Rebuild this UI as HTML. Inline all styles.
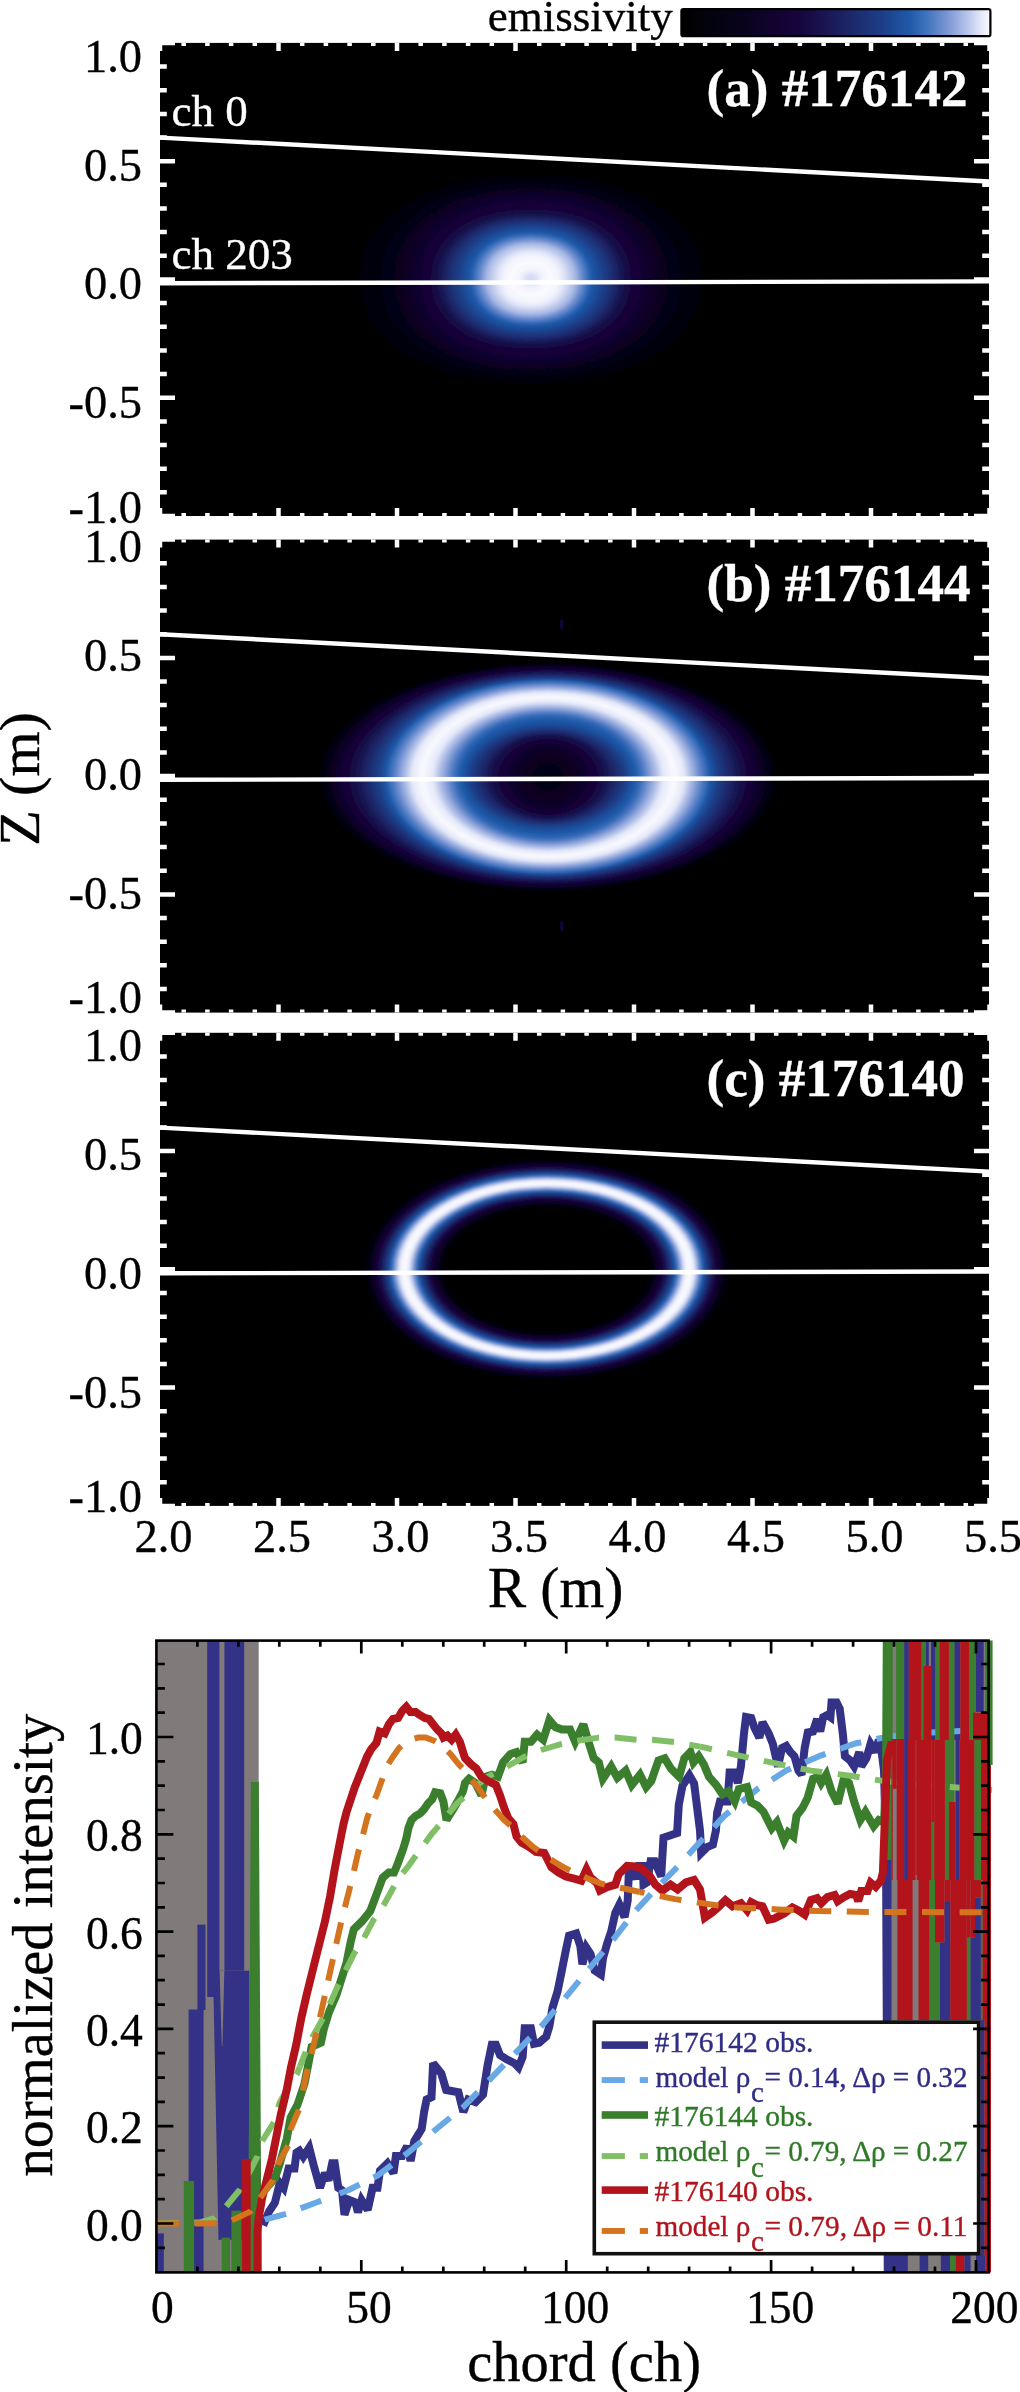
<!DOCTYPE html>
<html><head><meta charset="utf-8"><title>figure</title>
<style>
html,body{margin:0;padding:0;background:#fff;}
svg{display:block;will-change:transform;}
text{font-family:"Liberation Serif", serif;}
</style></head><body>
<svg width="1020" height="2392" viewBox="0 0 1020 2392">
<defs>
<filter id="bl" x="-10%" y="-10%" width="120%" height="120%"><feGaussianBlur stdDeviation="1.0"/></filter>

<linearGradient id="cbar" x1="0" x2="1" y1="0" y2="0"><stop offset="0.000" stop-color="#000000"/><stop offset="0.100" stop-color="#03030f"/><stop offset="0.200" stop-color="#08031c"/><stop offset="0.300" stop-color="#110330"/><stop offset="0.380" stop-color="#16053c"/><stop offset="0.450" stop-color="#19124e"/><stop offset="0.550" stop-color="#1c2869"/><stop offset="0.650" stop-color="#1d3e87"/><stop offset="0.740" stop-color="#1f5aaa"/><stop offset="0.800" stop-color="#4676c0"/><stop offset="0.860" stop-color="#7a96d4"/><stop offset="0.920" stop-color="#b2c0e8"/><stop offset="0.970" stop-color="#e4e8f8"/><stop offset="1.000" stop-color="#fafaff"/></linearGradient>
<clipPath id="cp0"><rect x="160.0" y="42.9" width="829.0" height="473.1"/></clipPath>
<clipPath id="cp1"><rect x="160.0" y="539.6" width="829.0" height="473.0"/></clipPath>
<clipPath id="cp2"><rect x="160.0" y="1032.8" width="829.0" height="473.10000000000014"/></clipPath>
</defs>
<rect width="1020" height="2392" fill="#fff"/>
<rect x="160.0" y="42.9" width="829.0" height="473.1" fill="#000"/>
<g clip-path="url(#cp0)"><g filter="url(#bl)">
<path d="M733.0 279.0 L730.7 301.3 L724.0 320.4 L712.9 337.7 L697.6 353.2 L678.4 366.8 L655.6 378.2 L629.5 387.3 L600.5 394.0 L568.4 398.0 L531.0 399.3 L493.6 398.0 L461.5 394.0 L432.5 387.3 L406.4 378.2 L383.6 366.8 L364.4 353.2 L349.1 337.7 L338.0 320.4 L331.3 301.3 L329.0 279.0 L331.3 256.7 L338.0 237.6 L349.1 220.3 L364.4 204.8 L383.6 191.2 L406.4 179.8 L432.5 170.7 L461.5 164.0 L493.6 160.0 L531.0 158.7 L568.4 160.0 L600.5 164.0 L629.5 170.7 L655.6 179.8 L678.4 191.2 L697.6 204.8 L712.9 220.3 L724.0 237.6 L730.7 256.7Z" fill="#000000"/>
<path d="M731.5 279.0 L729.3 301.1 L722.6 320.1 L711.5 337.3 L696.4 352.7 L677.3 366.2 L654.7 377.5 L628.8 386.6 L599.9 393.2 L568.1 397.1 L531.0 398.5 L493.9 397.1 L462.1 393.2 L433.2 386.6 L407.3 377.5 L384.7 366.2 L365.6 352.7 L350.5 337.3 L339.4 320.1 L332.7 301.1 L330.5 279.0 L332.7 256.9 L339.4 237.9 L350.5 220.7 L365.6 205.3 L384.7 191.8 L407.3 180.5 L433.2 171.4 L462.1 164.8 L493.9 160.9 L531.0 159.5 L568.1 160.9 L599.9 164.8 L628.8 171.4 L654.7 180.5 L677.3 191.8 L696.4 205.3 L711.5 220.7 L722.6 237.9 L729.3 256.9Z" fill="#000000"/>
<path d="M730.0 279.0 L727.8 301.0 L721.1 319.8 L710.2 336.9 L695.1 352.2 L676.2 365.6 L653.8 376.8 L628.1 385.8 L599.4 392.3 L567.8 396.3 L531.0 397.6 L494.2 396.3 L462.6 392.3 L433.9 385.8 L408.2 376.8 L385.8 365.6 L366.9 352.2 L351.8 336.9 L340.9 319.8 L334.2 301.0 L332.0 279.0 L334.2 257.0 L340.9 238.2 L351.8 221.1 L366.9 205.8 L385.8 192.4 L408.2 181.2 L433.9 172.2 L462.6 165.7 L494.2 161.7 L531.0 160.4 L567.8 161.7 L599.4 165.7 L628.1 172.2 L653.8 181.2 L676.2 192.4 L695.1 205.8 L710.2 221.1 L721.1 238.2 L727.8 257.0Z" fill="#000000"/>
<path d="M728.5 279.0 L726.3 300.8 L719.7 319.5 L708.8 336.5 L693.9 351.7 L675.1 365.0 L652.8 376.2 L627.3 385.1 L598.9 391.5 L567.6 395.5 L531.0 396.8 L494.4 395.5 L463.1 391.5 L434.7 385.1 L409.2 376.2 L386.9 365.0 L368.1 351.7 L353.2 336.5 L342.3 319.5 L335.7 300.8 L333.5 279.0 L335.7 257.2 L342.3 238.5 L353.2 221.5 L368.1 206.3 L386.9 193.0 L409.2 181.8 L434.7 172.9 L463.1 166.5 L494.4 162.5 L531.0 161.2 L567.6 162.5 L598.9 166.5 L627.3 172.9 L652.8 181.8 L675.1 193.0 L693.9 206.3 L708.8 221.5 L719.7 238.5 L726.3 257.2Z" fill="#000000"/>
<path d="M727.0 279.0 L724.8 300.7 L718.3 319.2 L707.5 336.1 L692.7 351.1 L674.0 364.4 L651.9 375.5 L626.6 384.3 L598.4 390.7 L567.3 394.7 L531.0 396.0 L494.7 394.7 L463.6 390.7 L435.4 384.3 L410.1 375.5 L388.0 364.4 L369.3 351.1 L354.5 336.1 L343.7 319.2 L337.2 300.7 L335.0 279.0 L337.2 257.3 L343.7 238.8 L354.5 221.9 L369.3 206.9 L388.0 193.6 L410.1 182.5 L435.4 173.7 L463.6 167.3 L494.7 163.3 L531.0 162.0 L567.3 163.3 L598.4 167.3 L626.6 173.7 L651.9 182.5 L674.0 193.6 L692.7 206.9 L707.5 221.9 L718.3 238.8 L724.8 257.3Z" fill="#000001"/>
<path d="M725.5 279.0 L723.3 300.5 L716.8 318.9 L706.1 335.6 L691.4 350.6 L672.9 363.7 L651.0 374.8 L625.9 383.6 L597.9 389.9 L567.0 393.8 L531.0 395.1 L495.0 393.8 L464.1 389.9 L436.1 383.6 L411.0 374.8 L389.1 363.7 L370.6 350.6 L355.9 335.6 L345.2 318.9 L338.7 300.5 L336.5 279.0 L338.7 257.5 L345.2 239.1 L355.9 222.4 L370.6 207.4 L389.1 194.3 L411.0 183.2 L436.1 174.4 L464.1 168.1 L495.0 164.2 L531.0 162.9 L567.0 164.2 L597.9 168.1 L625.9 174.4 L651.0 183.2 L672.9 194.3 L691.4 207.4 L706.1 222.4 L716.8 239.1 L723.3 257.5Z" fill="#000001"/>
<path d="M724.0 279.0 L721.8 300.3 L715.4 318.6 L704.8 335.2 L690.2 350.1 L671.8 363.1 L650.1 374.1 L625.1 382.8 L597.4 389.1 L566.7 393.0 L531.0 394.3 L495.3 393.0 L464.6 389.1 L436.9 382.8 L411.9 374.1 L390.2 363.1 L371.8 350.1 L357.2 335.2 L346.6 318.6 L340.2 300.3 L338.0 279.0 L340.2 257.7 L346.6 239.4 L357.2 222.8 L371.8 207.9 L390.2 194.9 L411.9 183.9 L436.9 175.2 L464.6 168.9 L495.3 165.0 L531.0 163.7 L566.7 165.0 L597.4 168.9 L625.1 175.2 L650.1 183.9 L671.8 194.9 L690.2 207.9 L704.8 222.8 L715.4 239.4 L721.8 257.7Z" fill="#000001"/>
<path d="M722.5 279.0 L720.4 300.2 L714.0 318.3 L703.4 334.8 L688.9 349.6 L670.7 362.5 L649.1 373.4 L624.4 382.0 L596.8 388.3 L566.5 392.2 L531.0 393.4 L495.5 392.2 L465.2 388.3 L437.6 382.0 L412.9 373.4 L391.3 362.5 L373.1 349.6 L358.6 334.8 L348.0 318.3 L341.6 300.2 L339.5 279.0 L341.6 257.8 L348.0 239.7 L358.6 223.2 L373.1 208.4 L391.3 195.5 L412.9 184.6 L437.6 176.0 L465.2 169.7 L495.5 165.8 L531.0 164.6 L566.5 165.8 L596.8 169.7 L624.4 176.0 L649.1 184.6 L670.7 195.5 L688.9 208.4 L703.4 223.2 L714.0 239.7 L720.4 257.8Z" fill="#000001"/>
<path d="M721.0 279.0 L718.9 300.0 L712.5 318.1 L702.1 334.4 L687.7 349.1 L669.7 361.9 L648.2 372.7 L623.7 381.3 L596.3 387.5 L566.2 391.3 L531.0 392.6 L495.8 391.3 L465.7 387.5 L438.3 381.3 L413.8 372.7 L392.3 361.9 L374.3 349.1 L359.9 334.4 L349.5 318.1 L343.1 300.0 L341.0 279.0 L343.1 258.0 L349.5 239.9 L359.9 223.6 L374.3 208.9 L392.3 196.1 L413.8 185.3 L438.3 176.7 L465.7 170.5 L495.8 166.7 L531.0 165.4 L566.2 166.7 L596.3 170.5 L623.7 176.7 L648.2 185.3 L669.7 196.1 L687.7 208.9 L702.1 223.6 L712.5 239.9 L718.9 258.0Z" fill="#000002"/>
<path d="M719.5 279.0 L717.4 299.9 L711.1 317.8 L700.7 334.0 L686.5 348.6 L668.6 361.3 L647.3 372.0 L622.9 380.5 L595.8 386.7 L565.9 390.5 L531.0 391.8 L496.1 390.5 L466.2 386.7 L439.1 380.5 L414.7 372.0 L393.4 361.3 L375.5 348.6 L361.3 334.0 L350.9 317.8 L344.6 299.9 L342.5 279.0 L344.6 258.1 L350.9 240.2 L361.3 224.0 L375.5 209.4 L393.4 196.7 L414.7 186.0 L439.1 177.5 L466.2 171.3 L496.1 167.5 L531.0 166.2 L565.9 167.5 L595.8 171.3 L622.9 177.5 L647.3 186.0 L668.6 196.7 L686.5 209.4 L700.7 224.0 L711.1 240.2 L717.4 258.1Z" fill="#000002"/>
<path d="M718.0 279.0 L715.9 299.7 L709.7 317.5 L699.4 333.6 L685.2 348.0 L667.5 360.7 L646.4 371.3 L622.2 379.8 L595.3 385.9 L565.6 389.7 L531.0 390.9 L496.4 389.7 L466.7 385.9 L439.8 379.8 L415.6 371.3 L394.5 360.7 L376.8 348.0 L362.6 333.6 L352.3 317.5 L346.1 299.7 L344.0 279.0 L346.1 258.3 L352.3 240.5 L362.6 224.4 L376.8 210.0 L394.5 197.3 L415.6 186.7 L439.8 178.2 L466.7 172.1 L496.4 168.3 L531.0 167.1 L565.6 168.3 L595.3 172.1 L622.2 178.2 L646.4 186.7 L667.5 197.3 L685.2 210.0 L699.4 224.4 L709.7 240.5 L715.9 258.3Z" fill="#000002"/>
<path d="M716.5 279.0 L714.4 299.6 L708.2 317.2 L698.0 333.2 L684.0 347.5 L666.4 360.1 L645.4 370.6 L621.5 379.0 L594.8 385.1 L565.3 388.8 L531.0 390.1 L496.7 388.8 L467.2 385.1 L440.5 379.0 L416.6 370.6 L395.6 360.1 L378.0 347.5 L364.0 333.2 L353.8 317.2 L347.6 299.6 L345.5 279.0 L347.6 258.4 L353.8 240.8 L364.0 224.8 L378.0 210.5 L395.6 197.9 L416.6 187.4 L440.5 179.0 L467.2 172.9 L496.7 169.2 L531.0 167.9 L565.3 169.2 L594.8 172.9 L621.5 179.0 L645.4 187.4 L666.4 197.9 L684.0 210.5 L698.0 224.8 L708.2 240.8 L714.4 258.4Z" fill="#010103"/>
<path d="M715.0 279.0 L712.9 299.4 L706.8 316.9 L696.7 332.8 L682.8 347.0 L665.3 359.4 L644.5 369.9 L620.8 378.3 L594.3 384.3 L565.1 388.0 L531.0 389.2 L496.9 388.0 L467.7 384.3 L441.2 378.3 L417.5 369.9 L396.7 359.4 L379.2 347.0 L365.3 332.8 L355.2 316.9 L349.1 299.4 L347.0 279.0 L349.1 258.6 L355.2 241.1 L365.3 225.2 L379.2 211.0 L396.7 198.6 L417.5 188.1 L441.2 179.7 L467.7 173.7 L496.9 170.0 L531.0 168.8 L565.1 170.0 L594.3 173.7 L620.8 179.7 L644.5 188.1 L665.3 198.6 L682.8 211.0 L696.7 225.2 L706.8 241.1 L712.9 258.6Z" fill="#010103"/>
<path d="M713.5 279.0 L711.5 299.3 L705.4 316.6 L695.3 332.4 L681.5 346.5 L664.2 358.8 L643.6 369.2 L620.0 377.5 L593.7 383.5 L564.8 387.2 L531.0 388.4 L497.2 387.2 L468.3 383.5 L442.0 377.5 L418.4 369.2 L397.8 358.8 L380.5 346.5 L366.7 332.4 L356.6 316.6 L350.5 299.3 L348.5 279.0 L350.5 258.7 L356.6 241.4 L366.7 225.6 L380.5 211.5 L397.8 199.2 L418.4 188.8 L442.0 180.5 L468.3 174.5 L497.2 170.8 L531.0 169.6 L564.8 170.8 L593.7 174.5 L620.0 180.5 L643.6 188.8 L664.2 199.2 L681.5 211.5 L695.3 225.6 L705.4 241.4 L711.5 258.7Z" fill="#010104"/>
<path d="M712.0 279.0 L710.0 299.1 L703.9 316.3 L694.0 332.0 L680.3 346.0 L663.1 358.2 L642.7 368.5 L619.3 376.7 L593.2 382.7 L564.5 386.3 L531.0 387.6 L497.5 386.3 L468.8 382.7 L442.7 376.7 L419.3 368.5 L398.9 358.2 L381.7 346.0 L368.0 332.0 L358.1 316.3 L352.0 299.1 L350.0 279.0 L352.0 258.9 L358.1 241.7 L368.0 226.0 L381.7 212.0 L398.9 199.8 L419.3 189.5 L442.7 181.3 L468.8 175.3 L497.5 171.7 L531.0 170.4 L564.5 171.7 L593.2 175.3 L619.3 181.3 L642.7 189.5 L663.1 199.8 L680.3 212.0 L694.0 226.0 L703.9 241.7 L710.0 258.9Z" fill="#010104"/>
<path d="M710.5 279.0 L708.5 299.0 L702.5 316.1 L692.6 331.6 L679.0 345.5 L662.0 357.7 L641.7 367.9 L618.6 376.1 L592.7 382.0 L564.2 385.6 L531.0 386.8 L497.8 385.6 L469.3 382.0 L443.4 376.1 L420.3 367.9 L400.0 357.7 L383.0 345.5 L369.4 331.6 L359.5 316.1 L353.5 299.0 L351.5 279.0 L353.5 259.0 L359.5 241.9 L369.4 226.4 L383.0 212.5 L400.0 200.3 L420.3 190.1 L443.4 181.9 L469.3 176.0 L497.8 172.4 L531.0 171.2 L564.2 172.4 L592.7 176.0 L618.6 181.9 L641.7 190.1 L662.0 200.3 L679.0 212.5 L692.6 226.4 L702.5 241.9 L708.5 259.0Z" fill="#010105"/>
<path d="M709.0 279.0 L707.0 298.9 L701.1 315.9 L691.3 331.3 L677.8 345.2 L660.9 357.3 L640.8 367.5 L617.8 375.6 L592.2 381.5 L564.0 385.0 L531.0 386.2 L498.0 385.0 L469.8 381.5 L444.2 375.6 L421.2 367.5 L401.1 357.3 L384.2 345.2 L370.7 331.3 L360.9 315.9 L355.0 298.9 L353.0 279.0 L355.0 259.1 L360.9 242.1 L370.7 226.7 L384.2 212.8 L401.1 200.7 L421.2 190.5 L444.2 182.4 L469.8 176.5 L498.0 173.0 L531.0 171.8 L564.0 173.0 L592.2 176.5 L617.8 182.4 L640.8 190.5 L660.9 200.7 L677.8 212.8 L691.3 226.7 L701.1 242.1 L707.0 259.1Z" fill="#010105"/>
<path d="M707.5 279.0 L705.5 298.8 L699.6 315.7 L689.9 331.0 L676.6 344.8 L659.8 356.8 L639.9 367.0 L617.1 375.1 L591.7 380.9 L563.7 384.5 L531.0 385.7 L498.3 384.5 L470.3 380.9 L444.9 375.1 L422.1 367.0 L402.2 356.8 L385.4 344.8 L372.1 331.0 L362.4 315.7 L356.5 298.8 L354.5 279.0 L356.5 259.2 L362.4 242.3 L372.1 227.0 L385.4 213.2 L402.2 201.2 L422.1 191.0 L444.9 182.9 L470.3 177.1 L498.3 173.5 L531.0 172.3 L563.7 173.5 L591.7 177.1 L617.1 182.9 L639.9 191.0 L659.8 201.2 L676.6 213.2 L689.9 227.0 L699.6 242.3 L705.5 259.2Z" fill="#010106"/>
<path d="M706.0 279.0 L704.0 298.6 L698.2 315.5 L688.6 330.8 L675.3 344.5 L658.7 356.4 L639.0 366.5 L616.4 374.5 L591.2 380.4 L563.4 383.9 L531.0 385.1 L498.6 383.9 L470.8 380.4 L445.6 374.5 L423.0 366.5 L403.3 356.4 L386.7 344.5 L373.4 330.8 L363.8 315.5 L358.0 298.6 L356.0 279.0 L358.0 259.4 L363.8 242.5 L373.4 227.2 L386.7 213.5 L403.3 201.6 L423.0 191.5 L445.6 183.5 L470.8 177.6 L498.6 174.1 L531.0 172.9 L563.4 174.1 L591.2 177.6 L616.4 183.5 L639.0 191.5 L658.7 201.6 L675.3 213.5 L688.6 227.2 L698.2 242.5 L704.0 259.4Z" fill="#010106"/>
<path d="M704.5 279.0 L702.6 298.5 L696.8 315.3 L687.2 330.5 L674.1 344.1 L657.6 356.0 L638.0 366.1 L615.6 374.0 L590.7 379.8 L563.1 383.4 L531.0 384.5 L498.9 383.4 L471.3 379.8 L446.4 374.0 L424.0 366.1 L404.4 356.0 L387.9 344.1 L374.8 330.5 L365.2 315.3 L359.4 298.5 L357.5 279.0 L359.4 259.5 L365.2 242.7 L374.8 227.5 L387.9 213.9 L404.4 202.0 L424.0 191.9 L446.4 184.0 L471.3 178.2 L498.9 174.6 L531.0 173.5 L563.1 174.6 L590.7 178.2 L615.6 184.0 L638.0 191.9 L657.6 202.0 L674.1 213.9 L687.2 227.5 L696.8 242.7 L702.6 259.5Z" fill="#010107"/>
<path d="M703.0 279.0 L701.1 298.4 L695.3 315.1 L685.9 330.2 L672.9 343.8 L656.5 355.6 L637.1 365.6 L614.9 373.5 L590.1 379.3 L562.8 382.8 L531.0 384.0 L499.2 382.8 L471.9 379.3 L447.1 373.5 L424.9 365.6 L405.5 355.6 L389.1 343.8 L376.1 330.2 L366.7 315.1 L360.9 298.4 L359.0 279.0 L360.9 259.6 L366.7 242.9 L376.1 227.8 L389.1 214.2 L405.5 202.4 L424.9 192.4 L447.1 184.5 L471.9 178.7 L499.2 175.2 L531.0 174.0 L562.8 175.2 L590.1 178.7 L614.9 184.5 L637.1 192.4 L656.5 202.4 L672.9 214.2 L685.9 227.8 L695.3 242.9 L701.1 259.6Z" fill="#010107"/>
<path d="M701.5 279.0 L699.6 298.3 L693.9 314.9 L684.5 329.9 L671.6 343.4 L655.4 355.2 L636.2 365.1 L614.2 373.0 L589.6 378.8 L562.6 382.2 L531.0 383.4 L499.4 382.2 L472.4 378.8 L447.8 373.0 L425.8 365.1 L406.6 355.2 L390.4 343.4 L377.5 329.9 L368.1 314.9 L362.4 298.3 L360.5 279.0 L362.4 259.7 L368.1 243.1 L377.5 228.1 L390.4 214.6 L406.6 202.8 L425.8 192.9 L447.8 185.0 L472.4 179.2 L499.4 175.8 L531.0 174.6 L562.6 175.8 L589.6 179.2 L614.2 185.0 L636.2 192.9 L655.4 202.8 L671.6 214.6 L684.5 228.1 L693.9 243.1 L699.6 259.7Z" fill="#020208"/>
<path d="M700.0 279.0 L698.1 298.2 L692.5 314.7 L683.2 329.7 L670.4 343.1 L654.3 354.8 L635.3 364.7 L613.4 372.5 L589.1 378.2 L562.3 381.7 L531.0 382.9 L499.7 381.7 L472.9 378.2 L448.6 372.5 L426.7 364.7 L407.7 354.8 L391.6 343.1 L378.8 329.7 L369.5 314.7 L363.9 298.2 L362.0 279.0 L363.9 259.8 L369.5 243.3 L378.8 228.3 L391.6 214.9 L407.7 203.2 L426.7 193.3 L448.6 185.5 L472.9 179.8 L499.7 176.3 L531.0 175.1 L562.3 176.3 L589.1 179.8 L613.4 185.5 L635.3 193.3 L654.3 203.2 L670.4 214.9 L683.2 228.3 L692.5 243.3 L698.1 259.8Z" fill="#020209"/>
<path d="M698.5 279.0 L696.6 298.1 L691.0 314.5 L681.8 329.4 L669.1 342.7 L653.2 354.4 L634.3 364.2 L612.7 372.0 L588.6 377.7 L562.0 381.1 L531.0 382.3 L500.0 381.1 L473.4 377.7 L449.3 372.0 L427.7 364.2 L408.8 354.4 L392.9 342.7 L380.2 329.4 L371.0 314.5 L365.4 298.1 L363.5 279.0 L365.4 259.9 L371.0 243.5 L380.2 228.6 L392.9 215.3 L408.8 203.6 L427.7 193.8 L449.3 186.0 L473.4 180.3 L500.0 176.9 L531.0 175.7 L562.0 176.9 L588.6 180.3 L612.7 186.0 L634.3 193.8 L653.2 203.6 L669.1 215.3 L681.8 228.6 L691.0 243.5 L696.6 259.9Z" fill="#02020a"/>
<path d="M697.0 279.0 L695.1 298.0 L689.6 314.3 L680.5 329.1 L667.9 342.4 L652.1 354.0 L633.4 363.7 L612.0 371.5 L588.1 377.1 L561.7 380.6 L531.0 381.7 L500.3 380.6 L473.9 377.1 L450.0 371.5 L428.6 363.7 L409.9 354.0 L394.1 342.4 L381.5 329.1 L372.4 314.3 L366.9 298.0 L365.0 279.0 L366.9 260.0 L372.4 243.7 L381.5 228.9 L394.1 215.6 L409.9 204.0 L428.6 194.3 L450.0 186.5 L473.9 180.9 L500.3 177.4 L531.0 176.3 L561.7 177.4 L588.1 180.9 L612.0 186.5 L633.4 194.3 L652.1 204.0 L667.9 215.6 L680.5 228.9 L689.6 243.7 L695.1 260.0Z" fill="#02020a"/>
<path d="M695.5 279.0 L693.7 297.9 L688.2 314.1 L679.1 328.8 L666.7 342.0 L651.0 353.5 L632.5 363.3 L611.2 371.0 L587.6 376.6 L561.5 380.0 L531.0 381.2 L500.5 380.0 L474.4 376.6 L450.8 371.0 L429.5 363.3 L411.0 353.5 L395.3 342.0 L382.9 328.8 L373.8 314.1 L368.3 297.9 L366.5 279.0 L368.3 260.1 L373.8 243.9 L382.9 229.2 L395.3 216.0 L411.0 204.5 L429.5 194.7 L450.8 187.0 L474.4 181.4 L500.5 178.0 L531.0 176.8 L561.5 178.0 L587.6 181.4 L611.2 187.0 L632.5 194.7 L651.0 204.5 L666.7 216.0 L679.1 229.2 L688.2 243.9 L693.7 260.1Z" fill="#02020b"/>
<path d="M694.0 279.0 L692.2 297.8 L686.7 313.9 L677.8 328.6 L665.4 341.7 L649.9 353.1 L631.6 362.8 L610.5 370.5 L587.0 376.1 L561.2 379.5 L531.0 380.6 L500.8 379.5 L475.0 376.1 L451.5 370.5 L430.4 362.8 L412.1 353.1 L396.6 341.7 L384.2 328.6 L375.3 313.9 L369.8 297.8 L368.0 279.0 L369.8 260.2 L375.3 244.1 L384.2 229.4 L396.6 216.3 L412.1 204.9 L430.4 195.2 L451.5 187.5 L475.0 181.9 L500.8 178.5 L531.0 177.4 L561.2 178.5 L587.0 181.9 L610.5 187.5 L631.6 195.2 L649.9 204.9 L665.4 216.3 L677.8 229.4 L686.7 244.1 L692.2 260.2Z" fill="#02020c"/>
<path d="M692.5 279.0 L690.7 297.7 L685.3 313.7 L676.4 328.3 L664.2 341.3 L648.9 352.7 L630.6 362.3 L609.8 370.0 L586.5 375.5 L560.9 378.9 L531.0 380.0 L501.1 378.9 L475.5 375.5 L452.2 370.0 L431.4 362.3 L413.1 352.7 L397.8 341.3 L385.6 328.3 L376.7 313.7 L371.3 297.7 L369.5 279.0 L371.3 260.3 L376.7 244.3 L385.6 229.7 L397.8 216.7 L413.1 205.3 L431.4 195.7 L452.2 188.0 L475.5 182.5 L501.1 179.1 L531.0 178.0 L560.9 179.1 L586.5 182.5 L609.8 188.0 L630.6 195.7 L648.9 205.3 L664.2 216.7 L676.4 229.7 L685.3 244.3 L690.7 260.3Z" fill="#03030d"/>
<path d="M691.0 279.0 L689.2 297.6 L683.9 313.5 L675.1 328.0 L663.0 341.0 L647.8 352.3 L629.7 361.9 L609.0 369.5 L586.0 375.0 L560.6 378.3 L531.0 379.5 L501.4 378.3 L476.0 375.0 L453.0 369.5 L432.3 361.9 L414.2 352.3 L399.0 341.0 L386.9 328.0 L378.1 313.5 L372.8 297.6 L371.0 279.0 L372.8 260.4 L378.1 244.5 L386.9 230.0 L399.0 217.0 L414.2 205.7 L432.3 196.1 L453.0 188.5 L476.0 183.0 L501.4 179.7 L531.0 178.5 L560.6 179.7 L586.0 183.0 L609.0 188.5 L629.7 196.1 L647.8 205.7 L663.0 217.0 L675.1 230.0 L683.9 244.5 L689.2 260.4Z" fill="#03030d"/>
<path d="M689.5 279.0 L687.7 297.5 L682.4 313.3 L673.7 327.7 L661.7 340.6 L646.7 351.9 L628.8 361.4 L608.3 368.9 L585.5 374.4 L560.3 377.8 L531.0 378.9 L501.7 377.8 L476.5 374.4 L453.7 368.9 L433.2 361.4 L415.3 351.9 L400.3 340.6 L388.3 327.7 L379.6 313.3 L374.3 297.5 L372.5 279.0 L374.3 260.5 L379.6 244.7 L388.3 230.3 L400.3 217.4 L415.3 206.1 L433.2 196.6 L453.7 189.1 L476.5 183.6 L501.7 180.2 L531.0 179.1 L560.3 180.2 L585.5 183.6 L608.3 189.1 L628.8 196.6 L646.7 206.1 L661.7 217.4 L673.7 230.3 L682.4 244.7 L687.7 260.5Z" fill="#03030e"/>
<path d="M688.0 279.0 L686.2 297.4 L681.0 313.2 L672.4 327.5 L660.5 340.3 L645.6 351.5 L627.8 360.9 L607.6 368.4 L585.0 373.9 L560.1 377.2 L531.0 378.3 L501.9 377.2 L477.0 373.9 L454.4 368.4 L434.2 360.9 L416.4 351.5 L401.5 340.3 L389.6 327.5 L381.0 313.2 L375.8 297.4 L374.0 279.0 L375.8 260.6 L381.0 244.8 L389.6 230.5 L401.5 217.7 L416.4 206.5 L434.2 197.1 L454.4 189.6 L477.0 184.1 L501.9 180.8 L531.0 179.7 L560.1 180.8 L585.0 184.1 L607.6 189.6 L627.8 197.1 L645.6 206.5 L660.5 217.7 L672.4 230.5 L681.0 244.8 L686.2 260.6Z" fill="#03030f"/>
<path d="M686.5 279.0 L684.8 297.3 L679.6 313.0 L671.0 327.2 L659.2 339.9 L644.5 351.1 L626.9 360.5 L606.8 367.9 L584.5 373.4 L559.8 376.7 L531.0 377.8 L502.2 376.7 L477.5 373.4 L455.2 367.9 L435.1 360.5 L417.5 351.1 L402.8 339.9 L391.0 327.2 L382.4 313.0 L377.2 297.3 L375.5 279.0 L377.2 260.7 L382.4 245.0 L391.0 230.8 L402.8 218.1 L417.5 206.9 L435.1 197.5 L455.2 190.1 L477.5 184.6 L502.2 181.3 L531.0 180.2 L559.8 181.3 L584.5 184.6 L606.8 190.1 L626.9 197.5 L644.5 206.9 L659.2 218.1 L671.0 230.8 L679.6 245.0 L684.8 260.7Z" fill="#030310"/>
<path d="M685.0 279.0 L683.3 297.2 L678.1 312.8 L669.7 326.9 L658.0 339.6 L643.4 350.7 L626.0 360.0 L606.1 367.4 L584.0 372.8 L559.5 376.1 L531.0 377.2 L502.5 376.1 L478.0 372.8 L455.9 367.4 L436.0 360.0 L418.6 350.7 L404.0 339.6 L392.3 326.9 L383.9 312.8 L378.7 297.2 L377.0 279.0 L378.7 260.8 L383.9 245.2 L392.3 231.1 L404.0 218.4 L418.6 207.3 L436.0 198.0 L455.9 190.6 L478.0 185.2 L502.5 181.9 L531.0 180.8 L559.5 181.9 L584.0 185.2 L606.1 190.6 L626.0 198.0 L643.4 207.3 L658.0 218.4 L669.7 231.1 L678.1 245.2 L683.3 260.8Z" fill="#040311"/>
<path d="M683.5 279.0 L681.8 297.1 L676.7 312.6 L668.3 326.6 L656.8 339.2 L642.3 350.2 L625.1 359.5 L605.4 366.9 L583.4 372.3 L559.2 375.5 L531.0 376.6 L502.8 375.5 L478.6 372.3 L456.6 366.9 L436.9 359.5 L419.7 350.2 L405.2 339.2 L393.7 326.6 L385.3 312.6 L380.2 297.1 L378.5 279.0 L380.2 260.9 L385.3 245.4 L393.7 231.4 L405.2 218.8 L419.7 207.8 L436.9 198.5 L456.6 191.1 L478.6 185.7 L502.8 182.5 L531.0 181.4 L559.2 182.5 L583.4 185.7 L605.4 191.1 L625.1 198.5 L642.3 207.8 L656.8 218.8 L668.3 231.4 L676.7 245.4 L681.8 260.9Z" fill="#040312"/>
<path d="M682.0 279.0 L680.3 297.0 L675.3 312.4 L667.0 326.3 L655.5 338.9 L641.2 349.8 L624.1 359.1 L604.7 366.4 L582.9 371.7 L559.0 375.0 L531.0 376.1 L503.0 375.0 L479.1 371.7 L457.3 366.4 L437.9 359.1 L420.8 349.8 L406.5 338.9 L395.0 326.3 L386.7 312.4 L381.7 297.0 L380.0 279.0 L381.7 261.0 L386.7 245.6 L395.0 231.7 L406.5 219.1 L420.8 208.2 L437.9 198.9 L457.3 191.6 L479.1 186.3 L503.0 183.0 L531.0 181.9 L559.0 183.0 L582.9 186.3 L604.7 191.6 L624.1 198.9 L641.2 208.2 L655.5 219.1 L667.0 231.7 L675.3 245.6 L680.3 261.0Z" fill="#040312"/>
<path d="M680.5 279.0 L678.8 296.9 L673.8 312.2 L665.6 326.1 L654.3 338.5 L640.1 349.4 L623.2 358.6 L603.9 365.9 L582.4 371.2 L558.7 374.4 L531.0 375.5 L503.3 374.4 L479.6 371.2 L458.1 365.9 L438.8 358.6 L421.9 349.4 L407.7 338.5 L396.4 326.1 L388.2 312.2 L383.2 296.9 L381.5 279.0 L383.2 261.1 L388.2 245.8 L396.4 231.9 L407.7 219.5 L421.9 208.6 L438.8 199.4 L458.1 192.1 L479.6 186.8 L503.3 183.6 L531.0 182.5 L558.7 183.6 L582.4 186.8 L603.9 192.1 L623.2 199.4 L640.1 208.6 L654.3 219.5 L665.6 231.9 L673.8 245.8 L678.8 261.1Z" fill="#050313"/>
<path d="M679.0 279.0 L677.3 296.8 L672.4 312.0 L664.3 325.8 L653.1 338.2 L639.0 349.0 L622.3 358.1 L603.2 365.4 L581.9 370.7 L558.4 373.9 L531.0 374.9 L503.6 373.9 L480.1 370.7 L458.8 365.4 L439.7 358.1 L423.0 349.0 L408.9 338.2 L397.7 325.8 L389.6 312.0 L384.7 296.8 L383.0 279.0 L384.7 261.2 L389.6 246.0 L397.7 232.2 L408.9 219.8 L423.0 209.0 L439.7 199.9 L458.8 192.6 L480.1 187.3 L503.6 184.1 L531.0 183.1 L558.4 184.1 L581.9 187.3 L603.2 192.6 L622.3 199.9 L639.0 209.0 L653.1 219.8 L664.3 232.2 L672.4 246.0 L677.3 261.2Z" fill="#050314"/>
<path d="M677.5 279.0 L675.9 296.7 L671.0 311.8 L662.9 325.5 L651.8 337.8 L637.9 348.6 L621.4 357.7 L602.5 364.9 L581.4 370.1 L558.1 373.3 L531.0 374.4 L503.9 373.3 L480.6 370.1 L459.5 364.9 L440.6 357.7 L424.1 348.6 L410.2 337.8 L399.1 325.5 L391.0 311.8 L386.1 296.7 L384.5 279.0 L386.1 261.3 L391.0 246.2 L399.1 232.5 L410.2 220.2 L424.1 209.4 L440.6 200.3 L459.5 193.1 L480.6 187.9 L503.9 184.7 L531.0 183.6 L558.1 184.7 L581.4 187.9 L602.5 193.1 L621.4 200.3 L637.9 209.4 L651.8 220.2 L662.9 232.5 L671.0 246.2 L675.9 261.3Z" fill="#050315"/>
<path d="M676.0 279.0 L674.4 296.6 L669.5 311.6 L661.6 325.2 L650.6 337.5 L636.8 348.2 L620.4 357.2 L601.7 364.4 L580.9 369.6 L557.8 372.7 L531.0 373.8 L504.2 372.7 L481.1 369.6 L460.3 364.4 L441.6 357.2 L425.2 348.2 L411.4 337.5 L400.4 325.2 L392.5 311.6 L387.6 296.6 L386.0 279.0 L387.6 261.4 L392.5 246.4 L400.4 232.8 L411.4 220.5 L425.2 209.8 L441.6 200.8 L460.3 193.6 L481.1 188.4 L504.2 185.3 L531.0 184.2 L557.8 185.3 L580.9 188.4 L601.7 193.6 L620.4 200.8 L636.8 209.8 L650.6 220.5 L661.6 232.8 L669.5 246.4 L674.4 261.4Z" fill="#060316"/>
<path d="M674.5 279.0 L672.9 296.5 L668.1 311.4 L660.2 325.0 L649.4 337.1 L635.7 347.8 L619.5 356.7 L601.0 363.9 L580.3 369.0 L557.6 372.2 L531.0 373.2 L504.4 372.2 L481.7 369.0 L461.0 363.9 L442.5 356.7 L426.3 347.8 L412.6 337.1 L401.8 325.0 L393.9 311.4 L389.1 296.5 L387.5 279.0 L389.1 261.5 L393.9 246.6 L401.8 233.0 L412.6 220.9 L426.3 210.2 L442.5 201.3 L461.0 194.1 L481.7 189.0 L504.4 185.8 L531.0 184.8 L557.6 185.8 L580.3 189.0 L601.0 194.1 L619.5 201.3 L635.7 210.2 L649.4 220.9 L660.2 233.0 L668.1 246.6 L672.9 261.5Z" fill="#060316"/>
<path d="M673.0 279.0 L671.4 296.3 L666.7 311.2 L658.9 324.7 L648.1 336.8 L634.6 347.4 L618.6 356.3 L600.3 363.3 L579.8 368.5 L557.3 371.6 L531.0 372.7 L504.7 371.6 L482.2 368.5 L461.7 363.3 L443.4 356.3 L427.4 347.4 L413.9 336.8 L403.1 324.7 L395.3 311.2 L390.6 296.3 L389.0 279.0 L390.6 261.7 L395.3 246.8 L403.1 233.3 L413.9 221.2 L427.4 210.6 L443.4 201.7 L461.7 194.7 L482.2 189.5 L504.7 186.4 L531.0 185.3 L557.3 186.4 L579.8 189.5 L600.3 194.7 L618.6 201.7 L634.6 210.6 L648.1 221.2 L658.9 233.3 L666.7 246.8 L671.4 261.7Z" fill="#060317"/>
<path d="M671.5 279.0 L669.9 296.2 L665.2 311.0 L657.5 324.4 L646.9 336.4 L633.5 346.9 L617.7 355.8 L599.5 362.8 L579.3 368.0 L557.0 371.1 L531.0 372.1 L505.0 371.1 L482.7 368.0 L462.5 362.8 L444.3 355.8 L428.5 346.9 L415.1 336.4 L404.5 324.4 L396.8 311.0 L392.1 296.2 L390.5 279.0 L392.1 261.8 L396.8 247.0 L404.5 233.6 L415.1 221.6 L428.5 211.1 L444.3 202.2 L462.5 195.2 L482.7 190.0 L505.0 186.9 L531.0 185.9 L557.0 186.9 L579.3 190.0 L599.5 195.2 L617.7 202.2 L633.5 211.1 L646.9 221.6 L657.5 233.6 L665.2 247.0 L669.9 261.8Z" fill="#070318"/>
<path d="M670.0 279.0 L668.4 296.1 L663.8 310.8 L656.2 324.1 L645.6 336.1 L632.4 346.5 L616.7 355.3 L598.8 362.3 L578.8 367.4 L556.7 370.5 L531.0 371.5 L505.3 370.5 L483.2 367.4 L463.2 362.3 L445.3 355.3 L429.6 346.5 L416.4 336.1 L405.8 324.1 L398.2 310.8 L393.6 296.1 L392.0 279.0 L393.6 261.9 L398.2 247.2 L405.8 233.9 L416.4 221.9 L429.6 211.5 L445.3 202.7 L463.2 195.7 L483.2 190.6 L505.3 187.5 L531.0 186.5 L556.7 187.5 L578.8 190.6 L598.8 195.7 L616.7 202.7 L632.4 211.5 L645.6 221.9 L656.2 233.9 L663.8 247.2 L668.4 261.9Z" fill="#070319"/>
<path d="M668.5 279.0 L667.0 296.0 L662.4 310.6 L654.8 323.9 L644.4 335.7 L631.3 346.1 L615.8 354.9 L598.1 361.8 L578.3 366.9 L556.5 369.9 L531.0 371.0 L505.5 369.9 L483.7 366.9 L463.9 361.8 L446.2 354.9 L430.7 346.1 L417.6 335.7 L407.2 323.9 L399.6 310.6 L395.0 296.0 L393.5 279.0 L395.0 262.0 L399.6 247.4 L407.2 234.1 L417.6 222.3 L430.7 211.9 L446.2 203.1 L463.9 196.2 L483.7 191.1 L505.5 188.1 L531.0 187.0 L556.5 188.1 L578.3 191.1 L598.1 196.2 L615.8 203.1 L631.3 211.9 L644.4 222.3 L654.8 234.1 L662.4 247.4 L667.0 262.0Z" fill="#07031a"/>
<path d="M667.0 279.0 L665.5 295.9 L660.9 310.4 L653.5 323.6 L643.2 335.4 L630.2 345.7 L614.9 354.4 L597.3 361.3 L577.8 366.3 L556.2 369.4 L531.0 370.4 L505.8 369.4 L484.2 366.3 L464.7 361.3 L447.1 354.4 L431.8 345.7 L418.8 335.4 L408.5 323.6 L401.1 310.4 L396.5 295.9 L395.0 279.0 L396.5 262.1 L401.1 247.6 L408.5 234.4 L418.8 222.6 L431.8 212.3 L447.1 203.6 L464.7 196.7 L484.2 191.7 L505.8 188.6 L531.0 187.6 L556.2 188.6 L577.8 191.7 L597.3 196.7 L614.9 203.6 L630.2 212.3 L643.2 222.6 L653.5 234.4 L660.9 247.6 L665.5 262.1Z" fill="#08031b"/>
<path d="M665.5 279.0 L664.0 295.8 L659.5 310.2 L652.1 323.3 L641.9 335.0 L629.2 345.3 L614.0 353.9 L596.6 360.8 L577.2 365.8 L555.9 368.8 L531.0 369.8 L506.1 368.8 L484.8 365.8 L465.4 360.8 L448.0 353.9 L432.8 345.3 L420.1 335.0 L409.9 323.3 L402.5 310.2 L398.0 295.8 L396.5 279.0 L398.0 262.2 L402.5 247.8 L409.9 234.7 L420.1 223.0 L432.8 212.7 L448.0 204.1 L465.4 197.2 L484.8 192.2 L506.1 189.2 L531.0 188.2 L555.9 189.2 L577.2 192.2 L596.6 197.2 L614.0 204.1 L629.2 212.7 L641.9 223.0 L652.1 234.7 L659.5 247.8 L664.0 262.2Z" fill="#08031c"/>
<path d="M664.0 279.0 L662.5 295.7 L658.1 310.0 L650.8 323.0 L640.7 334.7 L628.1 344.9 L613.0 353.5 L595.9 360.3 L576.7 365.3 L555.6 368.3 L531.0 369.3 L506.4 368.3 L485.3 365.3 L466.1 360.3 L449.0 353.5 L433.9 344.9 L421.3 334.7 L411.2 323.0 L403.9 310.0 L399.5 295.7 L398.0 279.0 L399.5 262.3 L403.9 248.0 L411.2 235.0 L421.3 223.3 L433.9 213.1 L449.0 204.5 L466.1 197.7 L485.3 192.7 L506.4 189.7 L531.0 188.7 L555.6 189.7 L576.7 192.7 L595.9 197.7 L613.0 204.5 L628.1 213.1 L640.7 223.3 L650.8 235.0 L658.1 248.0 L662.5 262.3Z" fill="#08031d"/>
<path d="M662.5 279.0 L661.0 295.6 L656.6 309.8 L649.4 322.8 L639.5 334.3 L627.0 344.5 L612.1 353.0 L595.1 359.8 L576.2 364.7 L555.4 367.7 L531.0 368.7 L506.6 367.7 L485.8 364.7 L466.9 359.8 L449.9 353.0 L435.0 344.5 L422.5 334.3 L412.6 322.8 L405.4 309.8 L401.0 295.6 L399.5 279.0 L401.0 262.4 L405.4 248.2 L412.6 235.2 L422.5 223.7 L435.0 213.5 L449.9 205.0 L466.9 198.2 L485.8 193.3 L506.6 190.3 L531.0 189.3 L555.4 190.3 L576.2 193.3 L595.1 198.2 L612.1 205.0 L627.0 213.5 L639.5 223.7 L649.4 235.2 L656.6 248.2 L661.0 262.4Z" fill="#09031f"/>
<path d="M661.0 279.0 L659.5 295.5 L655.2 309.7 L648.1 322.5 L638.2 334.0 L625.9 344.1 L611.2 352.5 L594.4 359.3 L575.7 364.2 L555.1 367.1 L531.0 368.1 L506.9 367.1 L486.3 364.2 L467.6 359.3 L450.8 352.5 L436.1 344.1 L423.8 334.0 L413.9 322.5 L406.8 309.7 L402.5 295.5 L401.0 279.0 L402.5 262.5 L406.8 248.3 L413.9 235.5 L423.8 224.0 L436.1 213.9 L450.8 205.5 L467.6 198.7 L486.3 193.8 L506.9 190.9 L531.0 189.9 L555.1 190.9 L575.7 193.8 L594.4 198.7 L611.2 205.5 L625.9 213.9 L638.2 224.0 L648.1 235.5 L655.2 248.3 L659.5 262.5Z" fill="#0a0320"/>
<path d="M659.5 279.0 L658.1 295.4 L653.8 309.5 L646.7 322.2 L637.0 333.6 L624.8 343.6 L610.3 352.1 L593.7 358.8 L575.2 363.6 L554.8 366.6 L531.0 367.6 L507.2 366.6 L486.8 363.6 L468.3 358.8 L451.7 352.1 L437.2 343.6 L425.0 333.6 L415.3 322.2 L408.2 309.5 L403.9 295.4 L402.5 279.0 L403.9 262.6 L408.2 248.5 L415.3 235.8 L425.0 224.4 L437.2 214.4 L451.7 205.9 L468.3 199.2 L486.8 194.4 L507.2 191.4 L531.0 190.4 L554.8 191.4 L575.2 194.4 L593.7 199.2 L610.3 205.9 L624.8 214.4 L637.0 224.4 L646.7 235.8 L653.8 248.5 L658.1 262.6Z" fill="#0b0322"/>
<path d="M658.0 279.0 L656.6 295.3 L652.3 309.3 L645.4 321.9 L635.7 333.3 L623.7 343.2 L609.3 351.6 L592.9 358.3 L574.7 363.1 L554.5 366.0 L531.0 367.0 L507.5 366.0 L487.3 363.1 L469.1 358.3 L452.7 351.6 L438.3 343.2 L426.3 333.3 L416.6 321.9 L409.7 309.3 L405.4 295.3 L404.0 279.0 L405.4 262.7 L409.7 248.7 L416.6 236.1 L426.3 224.7 L438.3 214.8 L452.7 206.4 L469.1 199.7 L487.3 194.9 L507.5 192.0 L531.0 191.0 L554.5 192.0 L574.7 194.9 L592.9 199.7 L609.3 206.4 L623.7 214.8 L635.7 224.7 L645.4 236.1 L652.3 248.7 L656.6 262.7Z" fill="#0b0323"/>
<path d="M656.5 279.0 L655.1 295.2 L650.9 309.1 L644.0 321.7 L634.5 332.9 L622.6 342.8 L608.4 351.1 L592.2 357.7 L574.2 362.6 L554.2 365.5 L531.0 366.5 L507.8 365.5 L487.8 362.6 L469.8 357.7 L453.6 351.1 L439.4 342.8 L427.5 332.9 L418.0 321.7 L411.1 309.1 L406.9 295.2 L405.5 279.0 L406.9 262.8 L411.1 248.9 L418.0 236.3 L427.5 225.1 L439.4 215.2 L453.6 206.9 L469.8 200.3 L487.8 195.4 L507.8 192.5 L531.0 191.5 L554.2 192.5 L574.2 195.4 L592.2 200.3 L608.4 206.9 L622.6 215.2 L634.5 225.1 L644.0 236.3 L650.9 248.9 L655.1 262.8Z" fill="#0c0325"/>
<path d="M655.0 279.0 L653.6 295.1 L649.5 308.9 L642.7 321.4 L633.3 332.6 L621.5 342.4 L607.5 350.7 L591.5 357.2 L573.6 362.0 L554.0 364.9 L531.0 365.9 L508.0 364.9 L488.4 362.0 L470.5 357.2 L454.5 350.7 L440.5 342.4 L428.7 332.6 L419.3 321.4 L412.5 308.9 L408.4 295.1 L407.0 279.0 L408.4 262.9 L412.5 249.1 L419.3 236.6 L428.7 225.4 L440.5 215.6 L454.5 207.3 L470.5 200.8 L488.4 196.0 L508.0 193.1 L531.0 192.1 L554.0 193.1 L573.6 196.0 L591.5 200.8 L607.5 207.3 L621.5 215.6 L633.3 225.4 L642.7 236.6 L649.5 249.1 L653.6 262.9Z" fill="#0d0327"/>
<path d="M653.5 279.0 L652.1 295.0 L648.0 308.7 L641.3 321.1 L632.0 332.2 L620.4 342.0 L606.6 350.2 L590.8 356.7 L573.1 361.5 L553.7 364.4 L531.0 365.3 L508.3 364.4 L488.9 361.5 L471.2 356.7 L455.4 350.2 L441.6 342.0 L430.0 332.2 L420.7 321.1 L414.0 308.7 L409.9 295.0 L408.5 279.0 L409.9 263.0 L414.0 249.3 L420.7 236.9 L430.0 225.8 L441.6 216.0 L455.4 207.8 L471.2 201.3 L488.9 196.5 L508.3 193.6 L531.0 192.7 L553.7 193.6 L573.1 196.5 L590.8 201.3 L606.6 207.8 L620.4 216.0 L632.0 225.8 L641.3 236.9 L648.0 249.3 L652.1 263.0Z" fill="#0e0328"/>
<path d="M652.0 279.0 L650.6 294.9 L646.6 308.5 L639.9 320.8 L630.8 331.9 L619.3 341.6 L605.6 349.7 L590.0 356.2 L572.6 360.9 L553.4 363.8 L531.0 364.8 L508.6 363.8 L489.4 360.9 L472.0 356.2 L456.4 349.7 L442.7 341.6 L431.2 331.9 L422.1 320.8 L415.4 308.5 L411.4 294.9 L410.0 279.0 L411.4 263.1 L415.4 249.5 L422.1 237.2 L431.2 226.1 L442.7 216.4 L456.4 208.3 L472.0 201.8 L489.4 197.1 L508.6 194.2 L531.0 193.2 L553.4 194.2 L572.6 197.1 L590.0 201.8 L605.6 208.3 L619.3 216.4 L630.8 226.1 L639.9 237.2 L646.6 249.5 L650.6 263.1Z" fill="#0e032a"/>
<path d="M650.5 279.0 L649.2 294.8 L645.2 308.3 L638.6 320.6 L629.6 331.6 L618.2 341.2 L604.7 349.3 L589.3 355.7 L572.1 360.4 L553.1 363.2 L531.0 364.2 L508.9 363.2 L489.9 360.4 L472.7 355.7 L457.3 349.3 L443.8 341.2 L432.4 331.6 L423.4 320.6 L416.8 308.3 L412.8 294.8 L411.5 279.0 L412.8 263.2 L416.8 249.7 L423.4 237.4 L432.4 226.4 L443.8 216.8 L457.3 208.7 L472.7 202.3 L489.9 197.6 L508.9 194.8 L531.0 193.8 L553.1 194.8 L572.1 197.6 L589.3 202.3 L604.7 208.7 L618.2 216.8 L629.6 226.4 L638.6 237.4 L645.2 249.7 L649.2 263.2Z" fill="#0f032b"/>
<path d="M649.0 279.0 L647.7 294.6 L643.7 307.9 L637.2 320.1 L628.3 330.9 L617.1 340.4 L603.8 348.4 L588.6 354.8 L571.6 359.4 L552.9 362.2 L531.0 363.2 L509.1 362.2 L490.4 359.4 L473.4 354.8 L458.2 348.4 L444.9 340.4 L433.7 330.9 L424.8 320.1 L418.3 307.9 L414.3 294.6 L413.0 279.0 L414.3 263.4 L418.3 250.1 L424.8 237.9 L433.7 227.1 L444.9 217.6 L458.2 209.6 L473.4 203.2 L490.4 198.6 L509.1 195.8 L531.0 194.8 L552.9 195.8 L571.6 198.6 L588.6 203.2 L603.8 209.6 L617.1 217.6 L628.3 227.1 L637.2 237.9 L643.7 250.1 L647.7 263.4Z" fill="#10032d"/>
<path d="M647.5 279.0 L646.2 294.4 L642.3 307.5 L635.9 319.5 L627.1 330.2 L616.0 339.6 L602.9 347.4 L587.8 353.7 L571.1 358.3 L552.6 361.0 L531.0 362.0 L509.4 361.0 L490.9 358.3 L474.2 353.7 L459.1 347.4 L446.0 339.6 L434.9 330.2 L426.1 319.5 L419.7 307.5 L415.8 294.4 L414.5 279.0 L415.8 263.6 L419.7 250.5 L426.1 238.5 L434.9 227.8 L446.0 218.4 L459.1 210.6 L474.2 204.3 L490.9 199.7 L509.4 197.0 L531.0 196.0 L552.6 197.0 L571.1 199.7 L587.8 204.3 L602.9 210.6 L616.0 218.4 L627.1 227.8 L635.9 238.5 L642.3 250.5 L646.2 263.6Z" fill="#10032f"/>
<path d="M646.0 279.0 L644.7 294.1 L640.9 307.1 L634.5 318.9 L625.8 329.4 L614.9 338.7 L601.9 346.4 L587.1 352.6 L570.5 357.1 L552.3 359.8 L531.0 360.8 L509.7 359.8 L491.5 357.1 L474.9 352.6 L460.1 346.4 L447.1 338.7 L436.2 329.4 L427.5 318.9 L421.1 307.1 L417.3 294.1 L416.0 279.0 L417.3 263.9 L421.1 250.9 L427.5 239.1 L436.2 228.6 L447.1 219.3 L460.1 211.6 L474.9 205.4 L491.5 200.9 L509.7 198.2 L531.0 197.2 L552.3 198.2 L570.5 200.9 L587.1 205.4 L601.9 211.6 L614.9 219.3 L625.8 228.6 L634.5 239.1 L640.9 250.9 L644.7 263.9Z" fill="#110330"/>
<path d="M644.5 279.0 L643.2 293.9 L639.4 306.7 L633.2 318.3 L624.6 328.7 L613.8 337.8 L601.0 345.4 L586.4 351.5 L570.0 356.0 L552.0 358.6 L531.0 359.5 L510.0 358.6 L492.0 356.0 L475.6 351.5 L461.0 345.4 L448.2 337.8 L437.4 328.7 L428.8 318.3 L422.6 306.7 L418.8 293.9 L417.5 279.0 L418.8 264.1 L422.6 251.3 L428.8 239.7 L437.4 229.3 L448.2 220.2 L461.0 212.6 L475.6 206.5 L492.0 202.0 L510.0 199.4 L531.0 198.5 L552.0 199.4 L570.0 202.0 L586.4 206.5 L601.0 212.6 L613.8 220.2 L624.6 229.3 L633.2 239.7 L639.4 251.3 L643.2 264.1Z" fill="#120332"/>
<path d="M643.0 279.0 L641.7 293.7 L638.0 306.3 L631.8 317.7 L623.4 327.9 L612.7 336.9 L600.1 344.4 L585.6 350.4 L569.5 354.8 L551.7 357.4 L531.0 358.3 L510.3 357.4 L492.5 354.8 L476.4 350.4 L461.9 344.4 L449.3 336.9 L438.6 327.9 L430.2 317.7 L424.0 306.3 L420.3 293.7 L419.0 279.0 L420.3 264.3 L424.0 251.7 L430.2 240.3 L438.6 230.1 L449.3 221.1 L461.9 213.6 L476.4 207.6 L492.5 203.2 L510.3 200.6 L531.0 199.7 L551.7 200.6 L569.5 203.2 L585.6 207.6 L600.1 213.6 L612.7 221.1 L623.4 230.1 L631.8 240.3 L638.0 251.7 L641.7 264.3Z" fill="#120333"/>
<path d="M641.5 279.0 L640.3 293.5 L636.6 305.9 L630.5 317.1 L622.1 327.2 L611.6 336.0 L599.2 343.4 L584.9 349.3 L569.0 353.6 L551.5 356.2 L531.0 357.1 L510.5 356.2 L493.0 353.6 L477.1 349.3 L462.8 343.4 L450.4 336.0 L439.9 327.2 L431.5 317.1 L425.4 305.9 L421.7 293.5 L420.5 279.0 L421.7 264.5 L425.4 252.1 L431.5 240.9 L439.9 230.8 L450.4 222.0 L462.8 214.6 L477.1 208.7 L493.0 204.4 L510.5 201.8 L531.0 200.9 L551.5 201.8 L569.0 204.4 L584.9 208.7 L599.2 214.6 L611.6 222.0 L622.1 230.8 L630.5 240.9 L636.6 252.1 L640.3 264.5Z" fill="#130434"/>
<path d="M640.0 279.0 L638.8 293.2 L635.1 305.4 L629.1 316.5 L620.9 326.4 L610.5 335.1 L598.2 342.4 L584.2 348.2 L568.5 352.5 L551.2 355.0 L531.0 355.9 L510.8 355.0 L493.5 352.5 L477.8 348.2 L463.8 342.4 L451.5 335.1 L441.1 326.4 L432.9 316.5 L426.9 305.4 L423.2 293.2 L422.0 279.0 L423.2 264.8 L426.9 252.6 L432.9 241.5 L441.1 231.6 L451.5 222.9 L463.8 215.6 L477.8 209.8 L493.5 205.5 L510.8 203.0 L531.0 202.1 L551.2 203.0 L568.5 205.5 L584.2 209.8 L598.2 215.6 L610.5 222.9 L620.9 231.6 L629.1 241.5 L635.1 252.6 L638.8 264.8Z" fill="#130435"/>
<path d="M638.5 279.0 L637.3 293.0 L633.7 305.0 L627.8 315.9 L619.7 325.7 L609.4 334.2 L597.3 341.4 L583.4 347.2 L568.0 351.3 L550.9 353.8 L531.0 354.7 L511.1 353.8 L494.0 351.3 L478.6 347.2 L464.7 341.4 L452.6 334.2 L442.3 325.7 L434.2 315.9 L428.3 305.0 L424.7 293.0 L423.5 279.0 L424.7 265.0 L428.3 253.0 L434.2 242.1 L442.3 232.3 L452.6 223.8 L464.7 216.6 L478.6 210.8 L494.0 206.7 L511.1 204.2 L531.0 203.3 L550.9 204.2 L568.0 206.7 L583.4 210.8 L597.3 216.6 L609.4 223.8 L619.7 232.3 L627.8 242.1 L633.7 253.0 L637.3 265.0Z" fill="#140437"/>
<path d="M637.0 279.0 L635.8 292.8 L632.3 304.6 L626.4 315.3 L618.4 324.9 L608.4 333.3 L596.4 340.4 L582.7 346.1 L567.4 350.2 L550.6 352.6 L531.0 353.5 L511.4 352.6 L494.6 350.2 L479.3 346.1 L465.6 340.4 L453.6 333.3 L443.6 324.9 L435.6 315.3 L429.7 304.6 L426.2 292.8 L425.0 279.0 L426.2 265.2 L429.7 253.4 L435.6 242.7 L443.6 233.1 L453.6 224.7 L465.6 217.6 L479.3 211.9 L494.6 207.8 L511.4 205.4 L531.0 204.5 L550.6 205.4 L567.4 207.8 L582.7 211.9 L596.4 217.6 L608.4 224.7 L618.4 233.1 L626.4 242.7 L632.3 253.4 L635.8 265.2Z" fill="#140438"/>
<path d="M635.5 279.0 L634.3 292.6 L630.8 304.2 L625.1 314.7 L617.2 324.2 L607.3 332.5 L595.5 339.4 L582.0 345.0 L566.9 349.0 L550.4 351.4 L531.0 352.3 L511.6 351.4 L495.1 349.0 L480.0 345.0 L466.5 339.4 L454.7 332.5 L444.8 324.2 L436.9 314.7 L431.2 304.2 L427.7 292.6 L426.5 279.0 L427.7 265.4 L431.2 253.8 L436.9 243.3 L444.8 233.8 L454.7 225.5 L466.5 218.6 L480.0 213.0 L495.1 209.0 L511.6 206.6 L531.0 205.7 L550.4 206.6 L566.9 209.0 L582.0 213.0 L595.5 218.6 L607.3 225.5 L617.2 233.8 L625.1 243.3 L630.8 253.8 L634.3 265.4Z" fill="#15053a"/>
<path d="M634.0 279.0 L632.8 292.3 L629.4 303.8 L623.7 314.1 L615.9 323.4 L606.2 331.6 L594.5 338.4 L581.2 343.9 L566.4 347.8 L550.1 350.2 L531.0 351.0 L511.9 350.2 L495.6 347.8 L480.8 343.9 L467.5 338.4 L455.8 331.6 L446.1 323.4 L438.3 314.1 L432.6 303.8 L429.2 292.3 L428.0 279.0 L429.2 265.7 L432.6 254.2 L438.3 243.9 L446.1 234.6 L455.8 226.4 L467.5 219.6 L480.8 214.1 L495.6 210.2 L511.9 207.8 L531.0 207.0 L550.1 207.8 L566.4 210.2 L581.2 214.1 L594.5 219.6 L606.2 226.4 L615.9 234.6 L623.7 243.9 L629.4 254.2 L632.8 265.7Z" fill="#16053b"/>
<path d="M632.5 279.0 L631.4 292.1 L628.0 303.4 L622.4 313.6 L614.7 322.7 L605.1 330.7 L593.6 337.4 L580.5 342.8 L565.9 346.7 L549.8 349.0 L531.0 349.8 L512.2 349.0 L496.1 346.7 L481.5 342.8 L468.4 337.4 L456.9 330.7 L447.3 322.7 L439.6 313.6 L434.0 303.4 L430.6 292.1 L429.5 279.0 L430.6 265.9 L434.0 254.6 L439.6 244.4 L447.3 235.3 L456.9 227.3 L468.4 220.6 L481.5 215.2 L496.1 211.3 L512.2 209.0 L531.0 208.2 L549.8 209.0 L565.9 211.3 L580.5 215.2 L593.6 220.6 L605.1 227.3 L614.7 235.3 L622.4 244.4 L628.0 254.6 L631.4 265.9Z" fill="#16063d"/>
<path d="M631.0 279.0 L629.9 291.9 L626.5 302.9 L621.0 313.0 L613.5 321.9 L604.0 329.8 L592.7 336.4 L579.8 341.7 L565.4 345.5 L549.5 347.8 L531.0 348.6 L512.5 347.8 L496.6 345.5 L482.2 341.7 L469.3 336.4 L458.0 329.8 L448.5 321.9 L441.0 313.0 L435.5 302.9 L432.1 291.9 L431.0 279.0 L432.1 266.1 L435.5 255.1 L441.0 245.0 L448.5 236.1 L458.0 228.2 L469.3 221.6 L482.2 216.3 L496.6 212.5 L512.5 210.2 L531.0 209.4 L549.5 210.2 L565.4 212.5 L579.8 216.3 L592.7 221.6 L604.0 228.2 L613.5 236.1 L621.0 245.0 L626.5 255.1 L629.9 266.1Z" fill="#170840"/>
<path d="M629.5 279.0 L628.4 291.7 L625.1 302.5 L619.7 312.4 L612.2 321.2 L602.9 328.9 L591.8 335.4 L579.0 340.6 L564.9 344.4 L549.2 346.6 L531.0 347.4 L512.8 346.6 L497.1 344.4 L483.0 340.6 L470.2 335.4 L459.1 328.9 L449.8 321.2 L442.3 312.4 L436.9 302.5 L433.6 291.7 L432.5 279.0 L433.6 266.3 L436.9 255.5 L442.3 245.6 L449.8 236.8 L459.1 229.1 L470.2 222.6 L483.0 217.4 L497.1 213.6 L512.8 211.4 L531.0 210.6 L549.2 211.4 L564.9 213.6 L579.0 217.4 L591.8 222.6 L602.9 229.1 L612.2 236.8 L619.7 245.6 L625.1 255.5 L628.4 266.3Z" fill="#170a43"/>
<path d="M628.0 279.0 L626.9 291.5 L623.7 302.2 L618.3 311.9 L611.0 320.6 L601.8 328.2 L590.8 334.6 L578.3 339.7 L564.4 343.4 L549.0 345.7 L531.0 346.4 L513.0 345.7 L497.6 343.4 L483.7 339.7 L471.2 334.6 L460.2 328.2 L451.0 320.6 L443.7 311.9 L438.3 302.2 L435.1 291.5 L434.0 279.0 L435.1 266.5 L438.3 255.8 L443.7 246.1 L451.0 237.4 L460.2 229.8 L471.2 223.4 L483.7 218.3 L497.6 214.6 L513.0 212.3 L531.0 211.6 L549.0 212.3 L564.4 214.6 L578.3 218.3 L590.8 223.4 L601.8 229.8 L611.0 237.4 L618.3 246.1 L623.7 255.8 L626.9 266.5Z" fill="#180c46"/>
<path d="M626.5 279.0 L625.4 291.3 L622.2 301.9 L617.0 311.5 L609.8 320.1 L600.7 327.6 L589.9 333.9 L577.6 338.9 L563.8 342.6 L548.7 344.8 L531.0 345.6 L513.3 344.8 L498.2 342.6 L484.4 338.9 L472.1 333.9 L461.3 327.6 L452.2 320.1 L445.0 311.5 L439.8 301.9 L436.6 291.3 L435.5 279.0 L436.6 266.7 L439.8 256.1 L445.0 246.5 L452.2 237.9 L461.3 230.4 L472.1 224.1 L484.4 219.1 L498.2 215.4 L513.3 213.2 L531.0 212.4 L548.7 213.2 L563.8 215.4 L577.6 219.1 L589.9 224.1 L600.7 230.4 L609.8 237.9 L617.0 246.5 L622.2 256.1 L625.4 266.7Z" fill="#180f4a"/>
<path d="M625.0 279.0 L623.9 291.2 L620.8 301.6 L615.6 311.1 L608.5 319.5 L599.6 327.0 L589.0 333.2 L576.9 338.2 L563.3 341.8 L548.4 344.0 L531.0 344.7 L513.6 344.0 L498.7 341.8 L485.1 338.2 L473.0 333.2 L462.4 327.0 L453.5 319.5 L446.4 311.1 L441.2 301.6 L438.1 291.2 L437.0 279.0 L438.1 266.8 L441.2 256.4 L446.4 246.9 L453.5 238.5 L462.4 231.0 L473.0 224.8 L485.1 219.8 L498.7 216.2 L513.6 214.0 L531.0 213.3 L548.4 214.0 L563.3 216.2 L576.9 219.8 L589.0 224.8 L599.6 231.0 L608.5 238.5 L615.6 246.9 L620.8 256.4 L623.9 266.8Z" fill="#19124e"/>
<path d="M623.5 279.0 L622.5 291.0 L619.4 301.3 L614.3 310.6 L607.3 319.0 L598.5 326.3 L588.1 332.5 L576.1 337.4 L562.8 341.0 L548.1 343.1 L531.0 343.9 L513.9 343.1 L499.2 341.0 L485.9 337.4 L473.9 332.5 L463.5 326.3 L454.7 319.0 L447.7 310.6 L442.6 301.3 L439.5 291.0 L438.5 279.0 L439.5 267.0 L442.6 256.7 L447.7 247.4 L454.7 239.0 L463.5 231.7 L473.9 225.5 L485.9 220.6 L499.2 217.0 L513.9 214.9 L531.0 214.1 L548.1 214.9 L562.8 217.0 L576.1 220.6 L588.1 225.5 L598.5 231.7 L607.3 239.0 L614.3 247.4 L619.4 256.7 L622.5 267.0Z" fill="#191552"/>
<path d="M622.0 279.0 L621.0 290.9 L617.9 301.0 L612.9 310.2 L606.1 318.5 L597.4 325.7 L587.1 331.8 L575.4 336.6 L562.3 340.2 L547.9 342.3 L531.0 343.0 L514.1 342.3 L499.7 340.2 L486.6 336.6 L474.9 331.8 L464.6 325.7 L455.9 318.5 L449.1 310.2 L444.1 301.0 L441.0 290.9 L440.0 279.0 L441.0 267.1 L444.1 257.0 L449.1 247.8 L455.9 239.5 L464.6 232.3 L474.9 226.2 L486.6 221.4 L499.7 217.8 L514.1 215.7 L531.0 215.0 L547.9 215.7 L562.3 217.8 L575.4 221.4 L587.1 226.2 L597.4 232.3 L606.1 239.5 L612.9 247.8 L617.9 257.0 L621.0 267.1Z" fill="#1a1956"/>
<path d="M620.5 279.0 L619.5 290.7 L616.5 300.7 L611.6 309.8 L604.8 318.0 L596.3 325.1 L586.2 331.1 L574.7 335.9 L561.8 339.3 L547.6 341.5 L531.0 342.2 L514.4 341.5 L500.2 339.3 L487.3 335.9 L475.8 331.1 L465.7 325.1 L457.2 318.0 L450.4 309.8 L445.5 300.7 L442.5 290.7 L441.5 279.0 L442.5 267.3 L445.5 257.3 L450.4 248.2 L457.2 240.0 L465.7 232.9 L475.8 226.9 L487.3 222.1 L500.2 218.7 L514.4 216.5 L531.0 215.8 L547.6 216.5 L561.8 218.7 L574.7 222.1 L586.2 226.9 L596.3 232.9 L604.8 240.0 L611.6 248.2 L616.5 257.3 L619.5 267.3Z" fill="#1a1c5b"/>
<path d="M619.0 279.0 L618.0 290.5 L615.1 300.4 L610.2 309.4 L603.6 317.4 L595.2 324.5 L585.3 330.4 L573.9 335.1 L561.3 338.5 L547.3 340.6 L531.0 341.3 L514.7 340.6 L500.7 338.5 L488.1 335.1 L476.7 330.4 L466.8 324.5 L458.4 317.4 L451.8 309.4 L446.9 300.4 L444.0 290.5 L443.0 279.0 L444.0 267.5 L446.9 257.6 L451.8 248.6 L458.4 240.6 L466.8 233.5 L476.7 227.6 L488.1 222.9 L500.7 219.5 L514.7 217.4 L531.0 216.7 L547.3 217.4 L561.3 219.5 L573.9 222.9 L585.3 227.6 L595.2 233.5 L603.6 240.6 L610.2 248.6 L615.1 257.6 L618.0 267.5Z" fill="#1b205f"/>
<path d="M617.5 279.0 L616.5 290.4 L613.6 300.1 L608.9 309.0 L602.3 316.9 L594.1 323.8 L584.4 329.7 L573.2 334.3 L560.7 337.7 L547.0 339.8 L531.0 340.5 L515.0 339.8 L501.3 337.7 L488.8 334.3 L477.6 329.7 L467.9 323.8 L459.7 316.9 L453.1 309.0 L448.4 300.1 L445.5 290.4 L444.5 279.0 L445.5 267.6 L448.4 257.9 L453.1 249.0 L459.7 241.1 L467.9 234.2 L477.6 228.3 L488.8 223.7 L501.3 220.3 L515.0 218.2 L531.0 217.5 L547.0 218.2 L560.7 220.3 L573.2 223.7 L584.4 228.3 L594.1 234.2 L602.3 241.1 L608.9 249.0 L613.6 257.9 L616.5 267.6Z" fill="#1b2363"/>
<path d="M616.0 279.0 L615.0 290.2 L612.2 299.8 L607.5 308.6 L601.1 316.4 L593.0 323.2 L583.4 329.0 L572.5 333.6 L560.2 336.9 L546.7 338.9 L531.0 339.6 L515.3 338.9 L501.8 336.9 L489.5 333.6 L478.6 329.0 L469.0 323.2 L460.9 316.4 L454.5 308.6 L449.8 299.8 L447.0 290.2 L446.0 279.0 L447.0 267.8 L449.8 258.2 L454.5 249.4 L460.9 241.6 L469.0 234.8 L478.6 229.0 L489.5 224.4 L501.8 221.1 L515.3 219.1 L531.0 218.4 L546.7 219.1 L560.2 221.1 L572.5 224.4 L583.4 229.0 L593.0 234.8 L601.1 241.6 L607.5 249.4 L612.2 258.2 L615.0 267.8Z" fill="#1c2768"/>
<path d="M614.5 279.0 L613.6 290.1 L610.8 299.5 L606.2 308.1 L599.9 315.9 L591.9 322.6 L582.5 328.3 L571.7 332.8 L559.7 336.1 L546.5 338.1 L531.0 338.7 L515.5 338.1 L502.3 336.1 L490.3 332.8 L479.5 328.3 L470.1 322.6 L462.1 315.9 L455.8 308.1 L451.2 299.5 L448.4 290.1 L447.5 279.0 L448.4 267.9 L451.2 258.5 L455.8 249.9 L462.1 242.1 L470.1 235.4 L479.5 229.7 L490.3 225.2 L502.3 221.9 L515.5 219.9 L531.0 219.3 L546.5 219.9 L559.7 221.9 L571.7 225.2 L582.5 229.7 L591.9 235.4 L599.9 242.1 L606.2 249.9 L610.8 258.5 L613.6 267.9Z" fill="#1c2b6d"/>
<path d="M613.0 279.0 L612.1 289.9 L609.3 299.2 L604.8 307.7 L598.6 315.3 L590.8 322.0 L581.6 327.6 L571.0 332.0 L559.2 335.3 L546.2 337.2 L531.0 337.9 L515.8 337.2 L502.8 335.3 L491.0 332.0 L480.4 327.6 L471.2 322.0 L463.4 315.3 L457.2 307.7 L452.7 299.2 L449.9 289.9 L449.0 279.0 L449.9 268.1 L452.7 258.8 L457.2 250.3 L463.4 242.7 L471.2 236.0 L480.4 230.4 L491.0 226.0 L502.8 222.7 L515.8 220.8 L531.0 220.1 L546.2 220.8 L559.2 222.7 L571.0 226.0 L581.6 230.4 L590.8 236.0 L598.6 242.7 L604.8 250.3 L609.3 258.8 L612.1 268.1Z" fill="#1c2e71"/>
<path d="M611.5 279.0 L610.6 289.7 L607.9 299.0 L603.5 307.3 L597.4 314.8 L589.7 321.4 L580.7 326.9 L570.3 331.3 L558.7 334.5 L545.9 336.4 L531.0 337.0 L516.1 336.4 L503.3 334.5 L491.7 331.3 L481.3 326.9 L472.3 321.4 L464.6 314.8 L458.5 307.3 L454.1 299.0 L451.4 289.7 L450.5 279.0 L451.4 268.3 L454.1 259.0 L458.5 250.7 L464.6 243.2 L472.3 236.6 L481.3 231.1 L491.7 226.7 L503.3 223.5 L516.1 221.6 L531.0 221.0 L545.9 221.6 L558.7 223.5 L570.3 226.7 L580.7 231.1 L589.7 236.6 L597.4 243.2 L603.5 250.7 L607.9 259.0 L610.6 268.3Z" fill="#1c3276"/>
<path d="M610.0 279.0 L609.1 289.6 L606.5 298.7 L602.1 306.9 L596.2 314.3 L588.6 320.7 L579.7 326.2 L569.5 330.5 L558.2 333.6 L545.6 335.5 L531.0 336.2 L516.4 335.5 L503.8 333.6 L492.5 330.5 L482.3 326.2 L473.4 320.7 L465.8 314.3 L459.9 306.9 L455.5 298.7 L452.9 289.6 L452.0 279.0 L452.9 268.4 L455.5 259.3 L459.9 251.1 L465.8 243.7 L473.4 237.3 L482.3 231.8 L492.5 227.5 L503.8 224.4 L516.4 222.5 L531.0 221.8 L545.6 222.5 L558.2 224.4 L569.5 227.5 L579.7 231.8 L588.6 237.3 L596.2 243.7 L602.1 251.1 L606.5 259.3 L609.1 268.4Z" fill="#1d357a"/>
<path d="M608.5 279.0 L607.6 289.4 L605.0 298.4 L600.8 306.5 L594.9 313.8 L587.6 320.1 L578.8 325.5 L568.8 329.7 L557.6 332.8 L545.4 334.7 L531.0 335.3 L516.6 334.7 L504.4 332.8 L493.2 329.7 L483.2 325.5 L474.4 320.1 L467.1 313.8 L461.2 306.5 L457.0 298.4 L454.4 289.4 L453.5 279.0 L454.4 268.6 L457.0 259.6 L461.2 251.5 L467.1 244.2 L474.4 237.9 L483.2 232.5 L493.2 228.3 L504.4 225.2 L516.6 223.3 L531.0 222.7 L545.4 223.3 L557.6 225.2 L568.8 228.3 L578.8 232.5 L587.6 237.9 L594.9 244.2 L600.8 251.5 L605.0 259.6 L607.6 268.6Z" fill="#1d377e"/>
<path d="M607.0 279.0 L606.1 289.3 L603.6 298.1 L599.4 306.1 L593.7 313.2 L586.5 319.5 L577.9 324.8 L568.1 329.0 L557.1 332.0 L545.1 333.9 L531.0 334.5 L516.9 333.9 L504.9 332.0 L493.9 329.0 L484.1 324.8 L475.5 319.5 L468.3 313.2 L462.6 306.1 L458.4 298.1 L455.9 289.3 L455.0 279.0 L455.9 268.7 L458.4 259.9 L462.6 251.9 L468.3 244.8 L475.5 238.5 L484.1 233.2 L493.9 229.0 L504.9 226.0 L516.9 224.1 L531.0 223.5 L545.1 224.1 L557.1 226.0 L568.1 229.0 L577.9 233.2 L586.5 238.5 L593.7 244.8 L599.4 251.9 L603.6 259.9 L606.1 268.7Z" fill="#1d3a82"/>
<path d="M605.5 279.0 L604.7 289.1 L602.2 297.8 L598.1 305.6 L592.4 312.7 L585.4 318.9 L577.0 324.1 L567.3 328.2 L556.6 331.2 L544.8 333.0 L531.0 333.6 L517.2 333.0 L505.4 331.2 L494.7 328.2 L485.0 324.1 L476.6 318.9 L469.6 312.7 L463.9 305.6 L459.8 297.8 L457.3 289.1 L456.5 279.0 L457.3 268.9 L459.8 260.2 L463.9 252.4 L469.6 245.3 L476.6 239.1 L485.0 233.9 L494.7 229.8 L505.4 226.8 L517.2 225.0 L531.0 224.4 L544.8 225.0 L556.6 226.8 L567.3 229.8 L577.0 233.9 L585.4 239.1 L592.4 245.3 L598.1 252.4 L602.2 260.2 L604.7 268.9Z" fill="#1d3d85"/>
<path d="M604.0 279.0 L603.2 289.0 L600.7 297.5 L596.7 305.2 L591.2 312.2 L584.3 318.2 L576.0 323.3 L566.6 327.4 L556.1 330.4 L544.5 332.2 L531.0 332.8 L517.5 332.2 L505.9 330.4 L495.4 327.4 L486.0 323.3 L477.7 318.2 L470.8 312.2 L465.3 305.2 L461.3 297.5 L458.8 289.0 L458.0 279.0 L458.8 269.0 L461.3 260.5 L465.3 252.8 L470.8 245.8 L477.7 239.8 L486.0 234.7 L495.4 230.6 L505.9 227.6 L517.5 225.8 L531.0 225.2 L544.5 225.8 L556.1 227.6 L566.6 230.6 L576.0 234.7 L584.3 239.8 L591.2 245.8 L596.7 252.8 L600.7 260.5 L603.2 269.0Z" fill="#1d4089"/>
<path d="M602.5 279.0 L601.7 288.8 L599.3 297.2 L595.4 304.8 L590.0 311.6 L583.2 317.6 L575.1 322.6 L565.9 326.6 L555.6 329.5 L544.2 331.3 L531.0 331.9 L517.8 331.3 L506.4 329.5 L496.1 326.6 L486.9 322.6 L478.8 317.6 L472.0 311.6 L466.6 304.8 L462.7 297.2 L460.3 288.8 L459.5 279.0 L460.3 269.2 L462.7 260.8 L466.6 253.2 L472.0 246.4 L478.8 240.4 L486.9 235.4 L496.1 231.4 L506.4 228.5 L517.8 226.7 L531.0 226.1 L544.2 226.7 L555.6 228.5 L565.9 231.4 L575.1 235.4 L583.2 240.4 L590.0 246.4 L595.4 253.2 L599.3 260.8 L601.7 269.2Z" fill="#1d448e"/>
<path d="M601.0 279.0 L600.2 288.6 L597.9 296.9 L594.0 304.3 L588.7 311.0 L582.1 316.9 L574.2 321.8 L565.1 325.8 L555.1 328.6 L544.0 330.4 L531.0 330.9 L518.0 330.4 L506.9 328.6 L496.9 325.8 L487.8 321.8 L479.9 316.9 L473.3 311.0 L468.0 304.3 L464.1 296.9 L461.8 288.6 L461.0 279.0 L461.8 269.4 L464.1 261.1 L468.0 253.7 L473.3 247.0 L479.9 241.1 L487.8 236.2 L496.9 232.2 L506.9 229.4 L518.0 227.6 L531.0 227.1 L544.0 227.6 L555.1 229.4 L565.1 232.2 L574.2 236.2 L582.1 241.1 L588.7 247.0 L594.0 253.7 L597.9 261.1 L600.2 269.4Z" fill="#1e4793"/>
<path d="M599.5 279.0 L598.7 288.5 L596.4 296.5 L592.7 303.9 L587.5 310.5 L581.0 316.2 L573.3 321.1 L564.4 325.0 L554.6 327.8 L543.7 329.5 L531.0 330.0 L518.3 329.5 L507.4 327.8 L497.6 325.0 L488.7 321.1 L481.0 316.2 L474.5 310.5 L469.3 303.9 L465.6 296.5 L463.3 288.5 L462.5 279.0 L463.3 269.5 L465.6 261.5 L469.3 254.1 L474.5 247.5 L481.0 241.8 L488.7 236.9 L497.6 233.0 L507.4 230.2 L518.3 228.5 L531.0 228.0 L543.7 228.5 L554.6 230.2 L564.4 233.0 L573.3 236.9 L581.0 241.8 L587.5 247.5 L592.7 254.1 L596.4 261.5 L598.7 269.5Z" fill="#1e4b97"/>
<path d="M598.0 279.0 L597.2 288.3 L595.0 296.2 L591.3 303.5 L586.3 309.9 L579.9 315.6 L572.3 320.3 L563.7 324.1 L554.0 326.9 L543.4 328.6 L531.0 329.1 L518.6 328.6 L508.0 326.9 L498.3 324.1 L489.7 320.3 L482.1 315.6 L475.7 309.9 L470.7 303.5 L467.0 296.2 L464.8 288.3 L464.0 279.0 L464.8 269.7 L467.0 261.8 L470.7 254.5 L475.7 248.1 L482.1 242.4 L489.7 237.7 L498.3 233.9 L508.0 231.1 L518.6 229.4 L531.0 228.9 L543.4 229.4 L554.0 231.1 L563.7 233.9 L572.3 237.7 L579.9 242.4 L586.3 248.1 L591.3 254.5 L595.0 261.8 L597.2 269.7Z" fill="#1e4e9b"/>
<path d="M596.5 279.0 L595.8 288.1 L593.6 295.9 L590.0 303.0 L585.0 309.4 L578.8 314.9 L571.4 319.6 L562.9 323.3 L553.5 326.0 L543.1 327.7 L531.0 328.2 L518.9 327.7 L508.5 326.0 L499.1 323.3 L490.6 319.6 L483.2 314.9 L477.0 309.4 L472.0 303.0 L468.4 295.9 L466.2 288.1 L465.5 279.0 L466.2 269.9 L468.4 262.1 L472.0 255.0 L477.0 248.6 L483.2 243.1 L490.6 238.4 L499.1 234.7 L508.5 232.0 L518.9 230.3 L531.0 229.8 L543.1 230.3 L553.5 232.0 L562.9 234.7 L571.4 238.4 L578.8 243.1 L585.0 248.6 L590.0 255.0 L593.6 262.1 L595.8 269.9Z" fill="#1e519f"/>
<path d="M595.0 279.0 L594.3 287.9 L592.1 295.6 L588.6 302.6 L583.8 308.8 L577.7 314.3 L570.5 318.8 L562.2 322.5 L553.0 325.2 L542.9 326.8 L531.0 327.3 L519.1 326.8 L509.0 325.2 L499.8 322.5 L491.5 318.8 L484.3 314.3 L478.2 308.8 L473.4 302.6 L469.9 295.6 L467.7 287.9 L467.0 279.0 L467.7 270.1 L469.9 262.4 L473.4 255.4 L478.2 249.2 L484.3 243.7 L491.5 239.2 L499.8 235.5 L509.0 232.8 L519.1 231.2 L531.0 230.7 L542.9 231.2 L553.0 232.8 L562.2 235.5 L570.5 239.2 L577.7 243.7 L583.8 249.2 L588.6 255.4 L592.1 262.4 L594.3 270.1Z" fill="#1f55a4"/>
<path d="M593.5 279.0 L592.8 287.8 L590.7 295.3 L587.3 302.1 L582.5 308.2 L576.6 313.6 L569.6 318.1 L561.5 321.7 L552.5 324.3 L542.6 325.9 L531.0 326.4 L519.4 325.9 L509.5 324.3 L500.5 321.7 L492.4 318.1 L485.4 313.6 L479.5 308.2 L474.7 302.1 L471.3 295.3 L469.2 287.8 L468.5 279.0 L469.2 270.2 L471.3 262.7 L474.7 255.9 L479.5 249.8 L485.4 244.4 L492.4 239.9 L500.5 236.3 L509.5 233.7 L519.4 232.1 L531.0 231.6 L542.6 232.1 L552.5 233.7 L561.5 236.3 L569.6 239.9 L576.6 244.4 L582.5 249.8 L587.3 255.9 L590.7 262.7 L592.8 270.2Z" fill="#1f58a8"/>
<path d="M592.0 279.0 L591.3 287.6 L589.3 295.0 L585.9 301.7 L581.3 307.7 L575.5 312.9 L568.6 317.4 L560.8 320.9 L552.0 323.4 L542.3 325.0 L531.0 325.5 L519.7 325.0 L510.0 323.4 L501.2 320.9 L493.4 317.4 L486.5 312.9 L480.7 307.7 L476.1 301.7 L472.7 295.0 L470.7 287.6 L470.0 279.0 L470.7 270.4 L472.7 263.0 L476.1 256.3 L480.7 250.3 L486.5 245.1 L493.4 240.6 L501.2 237.1 L510.0 234.6 L519.7 233.0 L531.0 232.5 L542.3 233.0 L552.0 234.6 L560.8 237.1 L568.6 240.6 L575.5 245.1 L581.3 250.3 L585.9 256.3 L589.3 263.0 L591.3 270.4Z" fill="#225cac"/>
<path d="M590.5 279.0 L589.8 287.4 L587.8 294.6 L584.6 301.2 L580.1 307.1 L574.4 312.2 L567.7 316.5 L560.0 320.0 L551.5 322.5 L542.0 324.0 L531.0 324.5 L520.0 324.0 L510.5 322.5 L502.0 320.0 L494.3 316.5 L487.6 312.2 L481.9 307.1 L477.4 301.2 L474.2 294.6 L472.2 287.4 L471.5 279.0 L472.2 270.6 L474.2 263.4 L477.4 256.8 L481.9 250.9 L487.6 245.8 L494.3 241.5 L502.0 238.0 L510.5 235.5 L520.0 234.0 L531.0 233.5 L542.0 234.0 L551.5 235.5 L560.0 238.0 L567.7 241.5 L574.4 245.8 L580.1 250.9 L584.6 256.8 L587.8 263.4 L589.8 270.6Z" fill="#2d64b2"/>
<path d="M589.0 279.0 L588.4 287.2 L586.4 294.3 L583.2 300.7 L578.8 306.4 L573.3 311.4 L566.8 315.7 L559.3 319.0 L550.9 321.5 L541.7 323.0 L531.0 323.5 L520.3 323.0 L511.1 321.5 L502.7 319.0 L495.2 315.7 L488.7 311.4 L483.2 306.4 L478.8 300.7 L475.6 294.3 L473.6 287.2 L473.0 279.0 L473.6 270.8 L475.6 263.7 L478.8 257.3 L483.2 251.6 L488.7 246.6 L495.2 242.3 L502.7 239.0 L511.1 236.5 L520.3 235.0 L531.0 234.5 L541.7 235.0 L550.9 236.5 L559.3 239.0 L566.8 242.3 L573.3 246.6 L578.8 251.6 L583.2 257.3 L586.4 263.7 L588.4 270.8Z" fill="#376bb8"/>
<path d="M587.5 279.0 L586.9 287.0 L585.0 293.9 L581.9 300.2 L577.6 305.8 L572.2 310.7 L565.9 314.8 L558.6 318.1 L550.4 320.5 L541.5 322.0 L531.0 322.5 L520.5 322.0 L511.6 320.5 L503.4 318.1 L496.1 314.8 L489.8 310.7 L484.4 305.8 L480.1 300.2 L477.0 293.9 L475.1 287.0 L474.5 279.0 L475.1 271.0 L477.0 264.1 L480.1 257.8 L484.4 252.2 L489.8 247.3 L496.1 243.2 L503.4 239.9 L511.6 237.5 L520.5 236.0 L531.0 235.5 L541.5 236.0 L550.4 237.5 L558.6 239.9 L565.9 243.2 L572.2 247.3 L577.6 252.2 L581.9 257.8 L585.0 264.1 L586.9 271.0Z" fill="#4173bd"/>
<path d="M586.0 279.0 L585.4 286.9 L583.5 293.6 L580.5 299.7 L576.4 305.2 L571.1 310.0 L564.9 314.0 L557.8 317.2 L549.9 319.5 L541.2 321.0 L531.0 321.4 L520.8 321.0 L512.1 319.5 L504.2 317.2 L497.1 314.0 L490.9 310.0 L485.6 305.2 L481.5 299.7 L478.5 293.6 L476.6 286.9 L476.0 279.0 L476.6 271.1 L478.5 264.4 L481.5 258.3 L485.6 252.8 L490.9 248.0 L497.1 244.0 L504.2 240.8 L512.1 238.5 L520.8 237.0 L531.0 236.6 L541.2 237.0 L549.9 238.5 L557.8 240.8 L564.9 244.0 L571.1 248.0 L576.4 252.8 L580.5 258.3 L583.5 264.4 L585.4 271.1Z" fill="#4e7bc3"/>
<path d="M584.5 279.0 L583.9 286.7 L582.1 293.2 L579.2 299.2 L575.1 304.6 L570.0 309.2 L564.0 313.2 L557.1 316.3 L549.4 318.6 L540.9 320.0 L531.0 320.4 L521.1 320.0 L512.6 318.6 L504.9 316.3 L498.0 313.2 L492.0 309.2 L486.9 304.6 L482.8 299.2 L479.9 293.2 L478.1 286.7 L477.5 279.0 L478.1 271.3 L479.9 264.8 L482.8 258.8 L486.9 253.4 L492.0 248.8 L498.0 244.8 L504.9 241.7 L512.6 239.4 L521.1 238.0 L531.0 237.6 L540.9 238.0 L549.4 239.4 L557.1 241.7 L564.0 244.8 L570.0 248.8 L575.1 253.4 L579.2 258.8 L582.1 264.8 L583.9 271.3Z" fill="#5b83c8"/>
<path d="M583.0 279.0 L582.4 286.5 L580.7 292.9 L577.8 298.7 L573.9 303.9 L568.9 308.5 L563.1 312.3 L556.4 315.4 L548.9 317.6 L540.6 319.0 L531.0 319.4 L521.4 319.0 L513.1 317.6 L505.6 315.4 L498.9 312.3 L493.1 308.5 L488.1 303.9 L484.2 298.7 L481.3 292.9 L479.6 286.5 L479.0 279.0 L479.6 271.5 L481.3 265.1 L484.2 259.3 L488.1 254.1 L493.1 249.5 L498.9 245.7 L505.6 242.6 L513.1 240.4 L521.4 239.0 L531.0 238.6 L540.6 239.0 L548.9 240.4 L556.4 242.6 L563.1 245.7 L568.9 249.5 L573.9 254.1 L577.8 259.3 L580.7 265.1 L582.4 271.5Z" fill="#698bcd"/>
<path d="M581.5 279.0 L580.9 286.3 L579.2 292.5 L576.5 298.2 L572.7 303.3 L567.9 307.7 L562.2 311.5 L555.6 314.5 L548.4 316.6 L540.4 317.9 L531.0 318.4 L521.6 317.9 L513.6 316.6 L506.4 314.5 L499.8 311.5 L494.1 307.7 L489.3 303.3 L485.5 298.2 L482.8 292.5 L481.1 286.3 L480.5 279.0 L481.1 271.7 L482.8 265.5 L485.5 259.8 L489.3 254.7 L494.1 250.3 L499.8 246.5 L506.4 243.5 L513.6 241.4 L521.6 240.1 L531.0 239.6 L540.4 240.1 L548.4 241.4 L555.6 243.5 L562.2 246.5 L567.9 250.3 L572.7 254.7 L576.5 259.8 L579.2 265.5 L580.9 271.7Z" fill="#7693d2"/>
<path d="M580.0 279.0 L579.5 286.1 L577.8 292.2 L575.1 297.7 L571.4 302.7 L566.8 307.0 L561.2 310.6 L554.9 313.5 L547.8 315.7 L540.1 316.9 L531.0 317.4 L521.9 316.9 L514.2 315.7 L507.1 313.5 L500.8 310.6 L495.2 307.0 L490.6 302.7 L486.9 297.7 L484.2 292.2 L482.5 286.1 L482.0 279.0 L482.5 271.9 L484.2 265.8 L486.9 260.3 L490.6 255.3 L495.2 251.0 L500.8 247.4 L507.1 244.5 L514.2 242.3 L521.9 241.1 L531.0 240.6 L540.1 241.1 L547.8 242.3 L554.9 244.5 L561.2 247.4 L566.8 251.0 L571.4 255.3 L575.1 260.3 L577.8 265.8 L579.5 271.9Z" fill="#839dd7"/>
<path d="M578.5 279.0 L578.0 285.9 L576.4 291.8 L573.8 297.2 L570.2 302.0 L565.7 306.3 L560.3 309.8 L554.2 312.6 L547.3 314.7 L539.8 315.9 L531.0 316.4 L522.2 315.9 L514.7 314.7 L507.8 312.6 L501.7 309.8 L496.3 306.3 L491.8 302.0 L488.2 297.2 L485.6 291.8 L484.0 285.9 L483.5 279.0 L484.0 272.1 L485.6 266.2 L488.2 260.8 L491.8 256.0 L496.3 251.7 L501.7 248.2 L507.8 245.4 L514.7 243.3 L522.2 242.1 L531.0 241.6 L539.8 242.1 L547.3 243.3 L554.2 245.4 L560.3 248.2 L565.7 251.7 L570.2 256.0 L573.8 260.8 L576.4 266.2 L578.0 272.1Z" fill="#91a8dc"/>
<path d="M577.0 279.0 L576.5 285.7 L574.9 291.5 L572.4 296.7 L568.9 301.4 L564.6 305.5 L559.4 309.0 L553.4 311.7 L546.8 313.7 L539.5 314.9 L531.0 315.3 L522.5 314.9 L515.2 313.7 L508.6 311.7 L502.6 309.0 L497.4 305.5 L493.1 301.4 L489.6 296.7 L487.1 291.5 L485.5 285.7 L485.0 279.0 L485.5 272.3 L487.1 266.5 L489.6 261.3 L493.1 256.6 L497.4 252.5 L502.6 249.0 L508.6 246.3 L515.2 244.3 L522.5 243.1 L531.0 242.7 L539.5 243.1 L546.8 244.3 L553.4 246.3 L559.4 249.0 L564.6 252.5 L568.9 256.6 L572.4 261.3 L574.9 266.5 L576.5 272.3Z" fill="#9fb2e1"/>
<path d="M575.5 279.0 L575.0 285.5 L573.5 291.1 L571.1 296.2 L567.7 300.8 L563.5 304.8 L558.5 308.1 L552.7 310.8 L546.3 312.7 L539.2 313.9 L531.0 314.3 L522.8 313.9 L515.7 312.7 L509.3 310.8 L503.5 308.1 L498.5 304.8 L494.3 300.8 L490.9 296.2 L488.5 291.1 L487.0 285.5 L486.5 279.0 L487.0 272.5 L488.5 266.9 L490.9 261.8 L494.3 257.2 L498.5 253.2 L503.5 249.9 L509.3 247.2 L515.7 245.3 L522.8 244.1 L531.0 243.7 L539.2 244.1 L546.3 245.3 L552.7 247.2 L558.5 249.9 L563.5 253.2 L567.7 257.2 L571.1 261.8 L573.5 266.9 L575.0 272.5Z" fill="#abbbe6"/>
<path d="M574.0 279.0 L573.5 285.4 L572.1 290.8 L569.7 295.7 L566.5 300.2 L562.4 304.0 L557.5 307.3 L552.0 309.9 L545.8 311.8 L539.0 312.9 L531.0 313.3 L523.0 312.9 L516.2 311.8 L510.0 309.9 L504.5 307.3 L499.6 304.0 L495.5 300.2 L492.3 295.7 L489.9 290.8 L488.5 285.4 L488.0 279.0 L488.5 272.6 L489.9 267.2 L492.3 262.3 L495.5 257.8 L499.6 254.0 L504.5 250.7 L510.0 248.1 L516.2 246.2 L523.0 245.1 L531.0 244.7 L539.0 245.1 L545.8 246.2 L552.0 248.1 L557.5 250.7 L562.4 254.0 L566.5 257.8 L569.7 262.3 L572.1 267.2 L573.5 272.6Z" fill="#b2c0e8"/>
<path d="M572.5 279.0 L572.0 285.2 L570.6 290.4 L568.4 295.2 L565.2 299.5 L561.3 303.3 L556.6 306.5 L551.2 309.0 L545.3 310.8 L538.7 311.9 L531.0 312.3 L523.3 311.9 L516.7 310.8 L510.8 309.0 L505.4 306.5 L500.7 303.3 L496.8 299.5 L493.6 295.2 L491.4 290.4 L490.0 285.2 L489.5 279.0 L490.0 272.8 L491.4 267.6 L493.6 262.8 L496.8 258.5 L500.7 254.7 L505.4 251.5 L510.8 249.0 L516.7 247.2 L523.3 246.1 L531.0 245.7 L538.7 246.1 L545.3 247.2 L551.2 249.0 L556.6 251.5 L561.3 254.7 L565.2 258.5 L568.4 262.8 L570.6 267.6 L572.0 272.8Z" fill="#b9c6ea"/>
<path d="M571.0 279.0 L570.6 285.0 L569.2 290.1 L567.0 294.7 L564.0 298.9 L560.2 302.6 L555.7 305.6 L550.5 308.1 L544.8 309.8 L538.4 310.9 L531.0 311.3 L523.6 310.9 L517.2 309.8 L511.5 308.1 L506.3 305.6 L501.8 302.6 L498.0 298.9 L495.0 294.7 L492.8 290.1 L491.4 285.0 L491.0 279.0 L491.4 273.0 L492.8 267.9 L495.0 263.3 L498.0 259.1 L501.8 255.4 L506.3 252.4 L511.5 249.9 L517.2 248.2 L523.6 247.1 L531.0 246.7 L538.4 247.1 L544.8 248.2 L550.5 249.9 L555.7 252.4 L560.2 255.4 L564.0 259.1 L567.0 263.3 L569.2 267.9 L570.6 273.0Z" fill="#c1cced"/>
<path d="M569.5 279.0 L569.1 284.8 L567.8 289.7 L565.7 294.2 L562.8 298.3 L559.1 301.8 L554.7 304.8 L549.8 307.1 L544.2 308.9 L538.1 309.9 L531.0 310.3 L523.9 309.9 L517.8 308.9 L512.2 307.1 L507.3 304.8 L502.9 301.8 L499.2 298.3 L496.3 294.2 L494.2 289.7 L492.9 284.8 L492.5 279.0 L492.9 273.2 L494.2 268.3 L496.3 263.8 L499.2 259.7 L502.9 256.2 L507.3 253.2 L512.2 250.9 L517.8 249.1 L523.9 248.1 L531.0 247.7 L538.1 248.1 L544.2 249.1 L549.8 250.9 L554.7 253.2 L559.1 256.2 L562.8 259.7 L565.7 263.8 L567.8 268.3 L569.1 273.2Z" fill="#c8d2ef"/>
<path d="M568.0 279.0 L567.6 284.6 L566.3 289.4 L564.3 293.8 L561.5 297.7 L558.0 301.1 L553.8 303.9 L549.0 306.2 L543.7 307.9 L537.9 308.9 L531.0 309.2 L524.1 308.9 L518.3 307.9 L513.0 306.2 L508.2 303.9 L504.0 301.1 L500.5 297.7 L497.7 293.8 L495.7 289.4 L494.4 284.6 L494.0 279.0 L494.4 273.4 L495.7 268.6 L497.7 264.2 L500.5 260.3 L504.0 256.9 L508.2 254.1 L513.0 251.8 L518.3 250.1 L524.1 249.1 L531.0 248.8 L537.9 249.1 L543.7 250.1 L549.0 251.8 L553.8 254.1 L558.0 256.9 L561.5 260.3 L564.3 264.2 L566.3 268.6 L567.6 273.4Z" fill="#d0d8f2"/>
<path d="M566.5 279.0 L566.1 284.4 L564.9 289.0 L563.0 293.3 L560.3 297.0 L556.9 300.3 L552.9 303.1 L548.3 305.3 L543.2 306.9 L537.6 307.9 L531.0 308.2 L524.4 307.9 L518.8 306.9 L513.7 305.3 L509.1 303.1 L505.1 300.3 L501.7 297.0 L499.0 293.3 L497.1 289.0 L495.9 284.4 L495.5 279.0 L495.9 273.6 L497.1 269.0 L499.0 264.7 L501.7 261.0 L505.1 257.7 L509.1 254.9 L513.7 252.7 L518.8 251.1 L524.4 250.1 L531.0 249.8 L537.6 250.1 L543.2 251.1 L548.3 252.7 L552.9 254.9 L556.9 257.7 L560.3 261.0 L563.0 264.7 L564.9 269.0 L566.1 273.6Z" fill="#d8def4"/>
<path d="M565.0 279.0 L564.6 284.2 L563.5 288.7 L561.6 292.8 L559.0 296.4 L555.8 299.6 L552.0 302.3 L547.6 304.4 L542.7 306.0 L537.3 306.9 L531.0 307.2 L524.7 306.9 L519.3 306.0 L514.4 304.4 L510.0 302.3 L506.2 299.6 L503.0 296.4 L500.4 292.8 L498.5 288.7 L497.4 284.2 L497.0 279.0 L497.4 273.8 L498.5 269.3 L500.4 265.2 L503.0 261.6 L506.2 258.4 L510.0 255.7 L514.4 253.6 L519.3 252.0 L524.7 251.1 L531.0 250.8 L537.3 251.1 L542.7 252.0 L547.6 253.6 L552.0 255.7 L555.8 258.4 L559.0 261.6 L561.6 265.2 L563.5 269.3 L564.6 273.8Z" fill="#dee3f6"/>
<path d="M563.5 279.0 L563.1 284.0 L562.1 288.4 L560.3 292.3 L557.8 295.8 L554.7 298.8 L551.0 301.4 L546.9 303.5 L542.2 305.0 L537.0 305.9 L531.0 306.2 L525.0 305.9 L519.8 305.0 L515.1 303.5 L511.0 301.4 L507.3 298.8 L504.2 295.8 L501.7 292.3 L499.9 288.4 L498.9 284.0 L498.5 279.0 L498.9 274.0 L499.9 269.6 L501.7 265.7 L504.2 262.2 L507.3 259.2 L511.0 256.6 L515.1 254.5 L519.8 253.0 L525.0 252.1 L531.0 251.8 L537.0 252.1 L542.2 253.0 L546.9 254.5 L551.0 256.6 L554.7 259.2 L557.8 262.2 L560.3 265.7 L562.1 269.6 L563.1 274.0Z" fill="#e5e8f8"/>
<path d="M562.0 279.0 L561.7 283.8 L560.6 288.0 L558.9 291.8 L556.6 295.1 L553.6 298.1 L550.1 300.6 L546.1 302.6 L541.7 304.0 L536.7 304.9 L531.0 305.2 L525.3 304.9 L520.3 304.0 L515.9 302.6 L511.9 300.6 L508.4 298.1 L505.4 295.1 L503.1 291.8 L501.4 288.0 L500.3 283.8 L500.0 279.0 L500.3 274.2 L501.4 270.0 L503.1 266.2 L505.4 262.9 L508.4 259.9 L511.9 257.4 L515.9 255.4 L520.3 254.0 L525.3 253.1 L531.0 252.8 L536.7 253.1 L541.7 254.0 L546.1 255.4 L550.1 257.4 L553.6 259.9 L556.6 262.9 L558.9 266.2 L560.6 270.0 L561.7 274.2Z" fill="#e9ecfa"/>
<path d="M560.5 279.0 L560.2 283.6 L559.2 287.6 L557.6 291.2 L555.3 294.5 L552.5 297.3 L549.2 299.7 L545.4 301.6 L541.1 303.0 L536.5 303.8 L531.0 304.1 L525.5 303.8 L520.9 303.0 L516.6 301.6 L512.8 299.7 L509.5 297.3 L506.7 294.5 L504.4 291.2 L502.8 287.6 L501.8 283.6 L501.5 279.0 L501.8 274.4 L502.8 270.4 L504.4 266.8 L506.7 263.5 L509.5 260.7 L512.8 258.3 L516.6 256.4 L520.9 255.0 L525.5 254.2 L531.0 253.9 L536.5 254.2 L541.1 255.0 L545.4 256.4 L549.2 258.3 L552.5 260.7 L555.3 263.5 L557.6 266.8 L559.2 270.4 L560.2 274.4Z" fill="#eef0fb"/>
<path d="M559.0 279.0 L558.7 283.4 L557.8 287.2 L556.2 290.6 L554.1 293.7 L551.4 296.4 L548.3 298.6 L544.7 300.4 L540.6 301.7 L536.2 302.5 L531.0 302.8 L525.8 302.5 L521.4 301.7 L517.3 300.4 L513.7 298.6 L510.6 296.4 L507.9 293.7 L505.8 290.6 L504.2 287.2 L503.3 283.4 L503.0 279.0 L503.3 274.6 L504.2 270.8 L505.8 267.4 L507.9 264.3 L510.6 261.6 L513.7 259.4 L517.3 257.6 L521.4 256.3 L525.8 255.5 L531.0 255.2 L536.2 255.5 L540.6 256.3 L544.7 257.6 L548.3 259.4 L551.4 261.6 L554.1 264.3 L556.2 267.4 L557.8 270.8 L558.7 274.6Z" fill="#f3f4fd"/>
<path d="M557.5 279.0 L557.2 283.2 L556.3 286.7 L554.9 290.0 L552.9 292.9 L550.3 295.4 L547.3 297.6 L543.9 299.3 L540.1 300.5 L535.9 301.3 L531.0 301.5 L526.1 301.3 L521.9 300.5 L518.1 299.3 L514.7 297.6 L511.7 295.4 L509.1 292.9 L507.1 290.0 L505.7 286.7 L504.8 283.2 L504.5 279.0 L504.8 274.8 L505.7 271.3 L507.1 268.0 L509.1 265.1 L511.7 262.6 L514.7 260.4 L518.1 258.7 L521.9 257.5 L526.1 256.7 L531.0 256.5 L535.9 256.7 L540.1 257.5 L543.9 258.7 L547.3 260.4 L550.3 262.6 L552.9 265.1 L554.9 268.0 L556.3 271.3 L557.2 274.8Z" fill="#f4f5fd"/>
<path d="M556.0 279.0 L555.7 282.9 L554.9 286.3 L553.5 289.4 L551.6 292.1 L549.2 294.5 L546.4 296.5 L543.2 298.1 L539.6 299.3 L535.6 300.0 L531.0 300.2 L526.4 300.0 L522.4 299.3 L518.8 298.1 L515.6 296.5 L512.8 294.5 L510.4 292.1 L508.5 289.4 L507.1 286.3 L506.3 282.9 L506.0 279.0 L506.3 275.1 L507.1 271.7 L508.5 268.6 L510.4 265.9 L512.8 263.5 L515.6 261.5 L518.8 259.9 L522.4 258.7 L526.4 258.0 L531.0 257.8 L535.6 258.0 L539.6 258.7 L543.2 259.9 L546.4 261.5 L549.2 263.5 L551.6 265.9 L553.5 268.6 L554.9 271.7 L555.7 275.1Z" fill="#f5f6fe"/>
<path d="M554.5 279.0 L554.2 282.7 L553.5 285.9 L552.2 288.7 L550.4 291.3 L548.1 293.6 L545.5 295.5 L542.5 297.0 L539.1 298.1 L535.4 298.8 L531.0 299.0 L526.6 298.8 L522.9 298.1 L519.5 297.0 L516.5 295.5 L513.9 293.6 L511.6 291.3 L509.8 288.7 L508.5 285.9 L507.8 282.7 L507.5 279.0 L507.8 275.3 L508.5 272.1 L509.8 269.3 L511.6 266.7 L513.9 264.4 L516.5 262.5 L519.5 261.0 L522.9 259.9 L526.6 259.2 L531.0 259.0 L535.4 259.2 L539.1 259.9 L542.5 261.0 L545.5 262.5 L548.1 264.4 L550.4 266.7 L552.2 269.3 L553.5 272.1 L554.2 275.3Z" fill="#f7f7fe"/>
<path d="M553.0 279.0 L552.8 282.5 L552.0 285.4 L550.8 288.1 L549.1 290.5 L547.1 292.6 L544.6 294.4 L541.7 295.8 L538.6 296.9 L535.1 297.5 L531.0 297.7 L526.9 297.5 L523.4 296.9 L520.3 295.8 L517.4 294.4 L514.9 292.6 L512.9 290.5 L511.2 288.1 L510.0 285.4 L509.2 282.5 L509.0 279.0 L509.2 275.5 L510.0 272.6 L511.2 269.9 L512.9 267.5 L514.9 265.4 L517.4 263.6 L520.3 262.2 L523.4 261.1 L526.9 260.5 L531.0 260.3 L535.1 260.5 L538.6 261.1 L541.7 262.2 L544.6 263.6 L547.1 265.4 L549.1 267.5 L550.8 269.9 L552.0 272.6 L552.8 275.5Z" fill="#f8f9fe"/>
<path d="M551.5 279.0 L551.3 282.2 L550.6 285.0 L549.5 287.5 L547.9 289.7 L546.0 291.7 L543.6 293.4 L541.0 294.7 L538.0 295.6 L534.8 296.2 L531.0 296.4 L527.2 296.2 L524.0 295.6 L521.0 294.7 L518.4 293.4 L516.0 291.7 L514.1 289.7 L512.5 287.5 L511.4 285.0 L510.7 282.2 L510.5 279.0 L510.7 275.8 L511.4 273.0 L512.5 270.5 L514.1 268.3 L516.0 266.3 L518.4 264.6 L521.0 263.3 L524.0 262.4 L527.2 261.8 L531.0 261.6 L534.8 261.8 L538.0 262.4 L541.0 263.3 L543.6 264.6 L546.0 266.3 L547.9 268.3 L549.5 270.5 L550.6 273.0 L551.3 275.8Z" fill="#fafaff"/>
<path d="M550.0 279.0 L549.8 282.0 L549.2 284.6 L548.1 286.9 L546.7 289.0 L544.9 290.8 L542.7 292.3 L540.3 293.5 L537.5 294.4 L534.5 295.0 L531.0 295.1 L527.5 295.0 L524.5 294.4 L521.7 293.5 L519.3 292.3 L517.1 290.8 L515.3 289.0 L513.9 286.9 L512.8 284.6 L512.2 282.0 L512.0 279.0 L512.2 276.0 L512.8 273.4 L513.9 271.1 L515.3 269.0 L517.1 267.2 L519.3 265.7 L521.7 264.5 L524.5 263.6 L527.5 263.0 L531.0 262.9 L534.5 263.0 L537.5 263.6 L540.3 264.5 L542.7 265.7 L544.9 267.2 L546.7 269.0 L548.1 271.1 L549.2 273.4 L549.8 276.0Z" fill="#f9f9ff"/>
<path d="M548.5 279.0 L548.3 281.8 L547.7 284.1 L546.8 286.3 L545.4 288.2 L543.8 289.9 L541.8 291.3 L539.5 292.4 L537.0 293.2 L534.2 293.7 L531.0 293.9 L527.8 293.7 L525.0 293.2 L522.5 292.4 L520.2 291.3 L518.2 289.9 L516.6 288.2 L515.2 286.3 L514.3 284.1 L513.7 281.8 L513.5 279.0 L513.7 276.2 L514.3 273.9 L515.2 271.7 L516.6 269.8 L518.2 268.1 L520.2 266.7 L522.5 265.6 L525.0 264.8 L527.8 264.3 L531.0 264.1 L534.2 264.3 L537.0 264.8 L539.5 265.6 L541.8 266.7 L543.8 268.1 L545.4 269.8 L546.8 271.7 L547.7 273.9 L548.3 276.2Z" fill="#f8f8fe"/>
<path d="M547.0 279.0 L546.8 281.5 L546.3 283.7 L545.4 285.6 L544.2 287.4 L542.7 288.9 L540.9 290.2 L538.8 291.2 L536.5 292.0 L534.0 292.4 L531.0 292.6 L528.0 292.4 L525.5 292.0 L523.2 291.2 L521.1 290.2 L519.3 288.9 L517.8 287.4 L516.6 285.6 L515.7 283.7 L515.2 281.5 L515.0 279.0 L515.2 276.5 L515.7 274.3 L516.6 272.4 L517.8 270.6 L519.3 269.1 L521.1 267.8 L523.2 266.8 L525.5 266.0 L528.0 265.6 L531.0 265.4 L534.0 265.6 L536.5 266.0 L538.8 266.8 L540.9 267.8 L542.7 269.1 L544.2 270.6 L545.4 272.4 L546.3 274.3 L546.8 276.5Z" fill="#f6f7fe"/>
<path d="M545.5 279.0 L545.3 281.3 L544.9 283.2 L544.1 285.0 L543.0 286.6 L541.6 288.0 L539.9 289.2 L538.1 290.1 L536.0 290.8 L533.7 291.2 L531.0 291.3 L528.3 291.2 L526.0 290.8 L523.9 290.1 L522.1 289.2 L520.4 288.0 L519.0 286.6 L517.9 285.0 L517.1 283.2 L516.7 281.3 L516.5 279.0 L516.7 276.7 L517.1 274.8 L517.9 273.0 L519.0 271.4 L520.4 270.0 L522.1 268.8 L523.9 267.9 L526.0 267.2 L528.3 266.8 L531.0 266.7 L533.7 266.8 L536.0 267.2 L538.1 267.9 L539.9 268.8 L541.6 270.0 L543.0 271.4 L544.1 273.0 L544.9 274.8 L545.3 276.7Z" fill="#f5f6fd"/>
<path d="M544.0 279.0 L543.9 281.0 L543.4 282.8 L542.7 284.4 L541.7 285.8 L540.5 287.1 L539.0 288.1 L537.3 288.9 L535.5 289.6 L533.4 289.9 L531.0 290.1 L528.6 289.9 L526.5 289.6 L524.7 288.9 L523.0 288.1 L521.5 287.1 L520.3 285.8 L519.3 284.4 L518.6 282.8 L518.1 281.0 L518.0 279.0 L518.1 277.0 L518.6 275.2 L519.3 273.6 L520.3 272.2 L521.5 270.9 L523.0 269.9 L524.7 269.1 L526.5 268.4 L528.6 268.1 L531.0 267.9 L533.4 268.1 L535.5 268.4 L537.3 269.1 L539.0 269.9 L540.5 270.9 L541.7 272.2 L542.7 273.6 L543.4 275.2 L543.9 277.0Z" fill="#f4f5fd"/>
<path d="M542.5 279.0 L542.4 280.8 L542.0 282.4 L541.4 283.8 L540.5 285.0 L539.4 286.1 L538.1 287.1 L536.6 287.8 L535.0 288.3 L533.1 288.7 L531.0 288.8 L528.9 288.7 L527.0 288.3 L525.4 287.8 L523.9 287.1 L522.6 286.1 L521.5 285.0 L520.6 283.8 L520.0 282.4 L519.6 280.8 L519.5 279.0 L519.6 277.2 L520.0 275.6 L520.6 274.2 L521.5 273.0 L522.6 271.9 L523.9 270.9 L525.4 270.2 L527.0 269.7 L528.9 269.3 L531.0 269.2 L533.1 269.3 L535.0 269.7 L536.6 270.2 L538.1 270.9 L539.4 271.9 L540.5 273.0 L541.4 274.2 L542.0 275.6 L542.4 277.2Z" fill="#f1f3fc"/>
<path d="M541.0 279.0 L540.9 280.6 L540.6 281.9 L540.0 283.1 L539.2 284.2 L538.3 285.2 L537.2 286.0 L535.9 286.7 L534.4 287.1 L532.9 287.4 L531.0 287.5 L529.1 287.4 L527.6 287.1 L526.1 286.7 L524.8 286.0 L523.7 285.2 L522.8 284.2 L522.0 283.1 L521.4 281.9 L521.1 280.6 L521.0 279.0 L521.1 277.4 L521.4 276.1 L522.0 274.9 L522.8 273.8 L523.7 272.8 L524.8 272.0 L526.1 271.3 L527.6 270.9 L529.1 270.6 L531.0 270.5 L532.9 270.6 L534.4 270.9 L535.9 271.3 L537.2 272.0 L538.3 272.8 L539.2 273.8 L540.0 274.9 L540.6 276.1 L540.9 277.4Z" fill="#ebeefa"/>
<path d="M539.5 279.0 L539.4 280.3 L539.1 281.5 L538.7 282.5 L538.0 283.5 L537.2 284.3 L536.2 285.0 L535.1 285.5 L533.9 285.9 L532.6 286.1 L531.0 286.2 L529.4 286.1 L528.1 285.9 L526.9 285.5 L525.8 285.0 L524.8 284.3 L524.0 283.5 L523.3 282.5 L522.9 281.5 L522.6 280.3 L522.5 279.0 L522.6 277.7 L522.9 276.5 L523.3 275.5 L524.0 274.5 L524.8 273.7 L525.8 273.0 L526.9 272.5 L528.1 272.1 L529.4 271.9 L531.0 271.8 L532.6 271.9 L533.9 272.1 L535.1 272.5 L536.2 273.0 L537.2 273.7 L538.0 274.5 L538.7 275.5 L539.1 276.5 L539.4 277.7Z" fill="#e6e9f9"/>
<path d="M538.0 279.0 L537.9 280.1 L537.7 281.0 L537.3 281.9 L536.8 282.7 L536.1 283.3 L535.3 283.9 L534.4 284.4 L533.4 284.7 L532.3 284.9 L531.0 284.9 L529.7 284.9 L528.6 284.7 L527.6 284.4 L526.7 283.9 L525.9 283.3 L525.2 282.7 L524.7 281.9 L524.3 281.0 L524.1 280.1 L524.0 279.0 L524.1 277.9 L524.3 277.0 L524.7 276.1 L525.2 275.3 L525.9 274.7 L526.7 274.1 L527.6 273.6 L528.6 273.3 L529.7 273.1 L531.0 273.1 L532.3 273.1 L533.4 273.3 L534.4 273.6 L535.3 274.1 L536.1 274.7 L536.8 275.3 L537.3 276.1 L537.7 277.0 L537.9 277.9Z" fill="#dfe4f6"/>
<path d="M536.5 279.0 L536.4 279.9 L536.3 280.6 L536.0 281.3 L535.5 281.9 L535.0 282.4 L534.4 282.9 L533.7 283.2 L532.9 283.5 L532.0 283.6 L531.0 283.7 L530.0 283.6 L529.1 283.5 L528.3 283.2 L527.6 282.9 L527.0 282.4 L526.5 281.9 L526.0 281.3 L525.7 280.6 L525.6 279.9 L525.5 279.0 L525.6 278.1 L525.7 277.4 L526.0 276.7 L526.5 276.1 L527.0 275.6 L527.6 275.1 L528.3 274.8 L529.1 274.5 L530.0 274.4 L531.0 274.3 L532.0 274.4 L532.9 274.5 L533.7 274.8 L534.4 275.1 L535.0 275.6 L535.5 276.1 L536.0 276.7 L536.3 277.4 L536.4 278.1Z" fill="#d9dff5"/>
<path d="M535.0 279.0 L535.0 279.6 L534.8 280.2 L534.6 280.7 L534.3 281.1 L533.9 281.5 L533.5 281.8 L533.0 282.1 L532.4 282.2 L531.7 282.4 L531.0 282.4 L530.3 282.4 L529.6 282.2 L529.0 282.1 L528.5 281.8 L528.1 281.5 L527.7 281.1 L527.4 280.7 L527.2 280.2 L527.0 279.6 L527.0 279.0 L527.0 278.4 L527.2 277.8 L527.4 277.3 L527.7 276.9 L528.1 276.5 L528.5 276.2 L529.0 275.9 L529.6 275.8 L530.3 275.6 L531.0 275.6 L531.7 275.6 L532.4 275.8 L533.0 275.9 L533.5 276.2 L533.9 276.5 L534.3 276.9 L534.6 277.3 L534.8 277.8 L535.0 278.4Z" fill="#d7ddf4"/>
<path d="M533.5 279.0 L533.5 279.4 L533.4 279.7 L533.3 280.0 L533.1 280.3 L532.8 280.6 L532.5 280.8 L532.2 280.9 L531.9 281.0 L531.5 281.1 L531.0 281.1 L530.5 281.1 L530.1 281.0 L529.8 280.9 L529.5 280.8 L529.2 280.6 L528.9 280.3 L528.7 280.0 L528.6 279.7 L528.5 279.4 L528.5 279.0 L528.5 278.6 L528.6 278.3 L528.7 278.0 L528.9 277.7 L529.2 277.4 L529.5 277.2 L529.8 277.1 L530.1 277.0 L530.5 276.9 L531.0 276.9 L531.5 276.9 L531.9 277.0 L532.2 277.1 L532.5 277.2 L532.8 277.4 L533.1 277.7 L533.3 278.0 L533.4 278.3 L533.5 278.6Z" fill="#d4dbf3"/>
<path d="M532.0 279.0 L532.0 279.2 L532.0 279.3 L531.9 279.4 L531.8 279.5 L531.7 279.6 L531.6 279.7 L531.5 279.8 L531.3 279.8 L531.2 279.8 L531.0 279.9 L530.8 279.8 L530.7 279.8 L530.5 279.8 L530.4 279.7 L530.3 279.6 L530.2 279.5 L530.1 279.4 L530.0 279.3 L530.0 279.2 L530.0 279.0 L530.0 278.8 L530.0 278.7 L530.1 278.6 L530.2 278.5 L530.3 278.4 L530.4 278.3 L530.5 278.2 L530.7 278.2 L530.8 278.2 L531.0 278.1 L531.2 278.2 L531.3 278.2 L531.5 278.2 L531.6 278.3 L531.7 278.4 L531.8 278.5 L531.9 278.6 L532.0 278.7 L532.0 278.8Z" fill="#d2d9f2"/>
</g></g>
<line x1="160.0" y1="137.6" x2="989.0" y2="181.5" stroke="#fff" stroke-width="4.4"/>
<line x1="160.0" y1="283.2" x2="989.0" y2="281.4" stroke="#fff" stroke-width="4.4"/>
<path d="M160.0 516.0h15M989.0 516.0h-15M160.0 492.3h6.8M989.0 492.3h-6.8M160.0 468.7h6.8M989.0 468.7h-6.8M160.0 445.0h6.8M989.0 445.0h-6.8M160.0 421.4h6.8M989.0 421.4h-6.8M160.0 397.7h15M989.0 397.7h-15M160.0 374.1h6.8M989.0 374.1h-6.8M160.0 350.4h6.8M989.0 350.4h-6.8M160.0 326.8h6.8M989.0 326.8h-6.8M160.0 303.1h6.8M989.0 303.1h-6.8M160.0 279.4h15M989.0 279.4h-15M160.0 255.8h6.8M989.0 255.8h-6.8M160.0 232.1h6.8M989.0 232.1h-6.8M160.0 208.5h6.8M989.0 208.5h-6.8M160.0 184.8h6.8M989.0 184.8h-6.8M160.0 161.2h15M989.0 161.2h-15M160.0 137.5h6.8M989.0 137.5h-6.8M160.0 113.9h6.8M989.0 113.9h-6.8M160.0 90.2h6.8M989.0 90.2h-6.8M160.0 66.6h6.8M989.0 66.6h-6.8M160.0 42.9h15M989.0 42.9h-15M160.0 42.9v8M160.0 516.0v-8M183.7 42.9v3M183.7 516.0v-3M207.4 42.9v3M207.4 516.0v-3M231.1 42.9v3M231.1 516.0v-3M254.8 42.9v3M254.8 516.0v-3M278.5 42.9v8M278.5 516.0v-8M302.2 42.9v3M302.2 516.0v-3M325.9 42.9v3M325.9 516.0v-3M349.6 42.9v3M349.6 516.0v-3M373.3 42.9v3M373.3 516.0v-3M397.0 42.9v8M397.0 516.0v-8M420.7 42.9v3M420.7 516.0v-3M444.4 42.9v3M444.4 516.0v-3M468.1 42.9v3M468.1 516.0v-3M491.8 42.9v3M491.8 516.0v-3M515.5 42.9v8M515.5 516.0v-8M539.2 42.9v3M539.2 516.0v-3M562.9 42.9v3M562.9 516.0v-3M586.6 42.9v3M586.6 516.0v-3M610.3 42.9v3M610.3 516.0v-3M634.0 42.9v8M634.0 516.0v-8M657.7 42.9v3M657.7 516.0v-3M681.4 42.9v3M681.4 516.0v-3M705.1 42.9v3M705.1 516.0v-3M728.8 42.9v3M728.8 516.0v-3M752.5 42.9v8M752.5 516.0v-8M776.2 42.9v3M776.2 516.0v-3M799.9 42.9v3M799.9 516.0v-3M823.6 42.9v3M823.6 516.0v-3M847.3 42.9v3M847.3 516.0v-3M871.0 42.9v8M871.0 516.0v-8M894.7 42.9v3M894.7 516.0v-3M918.4 42.9v3M918.4 516.0v-3M942.1 42.9v3M942.1 516.0v-3M965.8 42.9v3M965.8 516.0v-3M989.5 42.9v8M989.5 516.0v-8" stroke="#fff" stroke-width="4.5" fill="none"/>
<text x="706.5" y="105.5" font-size="53.1" font-weight="bold" fill="#fff" stroke="#fff" stroke-width="0.35">(a) #176142</text>
<rect x="160.0" y="539.6" width="829.0" height="473.0" fill="#000"/>
<g clip-path="url(#cp1)"><g filter="url(#bl)">
<ellipse cx="548" cy="776.8" rx="236.0" ry="116.8" fill="#000000"/>
<ellipse cx="548" cy="776.8" rx="234.5" ry="116.3" fill="#000000"/>
<ellipse cx="548" cy="776.8" rx="233.0" ry="115.8" fill="#000000"/>
<ellipse cx="548" cy="776.8" rx="231.5" ry="115.3" fill="#000001"/>
<ellipse cx="548" cy="776.8" rx="230.0" ry="114.9" fill="#010104"/>
<ellipse cx="548" cy="776.8" rx="228.5" ry="114.4" fill="#020208"/>
<ellipse cx="548" cy="776.8" rx="227.0" ry="113.9" fill="#02020b"/>
<ellipse cx="548" cy="776.8" rx="225.5" ry="113.5" fill="#03030f"/>
<ellipse cx="548" cy="776.8" rx="224.0" ry="113.0" fill="#040312"/>
<ellipse cx="548" cy="776.8" rx="222.5" ry="112.6" fill="#050314"/>
<ellipse cx="548" cy="776.8" rx="221.0" ry="112.2" fill="#060317"/>
<ellipse cx="548" cy="776.8" rx="219.5" ry="111.9" fill="#070319"/>
<ellipse cx="548" cy="776.8" rx="218.0" ry="111.5" fill="#08031c"/>
<ellipse cx="548" cy="776.8" rx="216.5" ry="111.1" fill="#09031f"/>
<ellipse cx="548" cy="776.8" rx="215.0" ry="110.8" fill="#0b0323"/>
<ellipse cx="548" cy="776.8" rx="213.5" ry="110.4" fill="#0d0327"/>
<ellipse cx="548" cy="776.8" rx="212.0" ry="110.0" fill="#0f032b"/>
<ellipse cx="548" cy="776.8" rx="210.5" ry="109.6" fill="#10032f"/>
<ellipse cx="548" cy="776.8" rx="209.0" ry="109.2" fill="#120331"/>
<ellipse cx="548" cy="776.8" rx="207.5" ry="108.9" fill="#120433"/>
<ellipse cx="548" cy="776.8" rx="206.0" ry="108.5" fill="#130435"/>
<ellipse cx="548" cy="776.8" rx="204.5" ry="108.1" fill="#140437"/>
<ellipse cx="548" cy="776.8" rx="203.0" ry="107.8" fill="#150439"/>
<ellipse cx="548" cy="776.8" rx="201.5" ry="107.4" fill="#16053b"/>
<ellipse cx="548" cy="776.8" rx="200.0" ry="107.0" fill="#16063d"/>
<ellipse cx="548" cy="776.8" rx="198.5" ry="106.6" fill="#170841"/>
<ellipse cx="548" cy="776.8" rx="197.0" ry="106.2" fill="#170b44"/>
<ellipse cx="548" cy="776.8" rx="195.5" ry="105.9" fill="#180d47"/>
<ellipse cx="548" cy="776.8" rx="194.0" ry="105.4" fill="#19104b"/>
<ellipse cx="548" cy="776.8" rx="192.5" ry="105.0" fill="#19134f"/>
<ellipse cx="548" cy="776.8" rx="191.0" ry="104.6" fill="#191652"/>
<ellipse cx="548" cy="776.8" rx="189.5" ry="104.2" fill="#1a1956"/>
<ellipse cx="548" cy="776.8" rx="188.0" ry="103.8" fill="#1a1c5a"/>
<ellipse cx="548" cy="776.8" rx="186.5" ry="103.4" fill="#1b1f5e"/>
<ellipse cx="548" cy="776.8" rx="185.0" ry="102.9" fill="#1b2261"/>
<ellipse cx="548" cy="776.8" rx="183.5" ry="102.5" fill="#1c2565"/>
<ellipse cx="548" cy="776.8" rx="182.0" ry="102.1" fill="#1c2869"/>
<ellipse cx="548" cy="776.8" rx="180.5" ry="101.7" fill="#1c2b6d"/>
<ellipse cx="548" cy="776.8" rx="179.0" ry="101.3" fill="#1c2e71"/>
<ellipse cx="548" cy="776.8" rx="177.5" ry="100.9" fill="#1c3176"/>
<ellipse cx="548" cy="776.8" rx="176.0" ry="100.4" fill="#1d347a"/>
<ellipse cx="548" cy="776.8" rx="174.5" ry="100.0" fill="#1d377e"/>
<ellipse cx="548" cy="776.8" rx="173.0" ry="99.6" fill="#1d3a82"/>
<ellipse cx="548" cy="776.8" rx="171.5" ry="99.2" fill="#1d3d86"/>
<ellipse cx="548" cy="776.8" rx="170.0" ry="98.8" fill="#1d428b"/>
<ellipse cx="548" cy="776.8" rx="168.5" ry="98.4" fill="#1e4691"/>
<ellipse cx="548" cy="776.8" rx="167.0" ry="97.9" fill="#1e4b97"/>
<ellipse cx="548" cy="776.8" rx="165.5" ry="97.5" fill="#1e509e"/>
<ellipse cx="548" cy="776.8" rx="164.0" ry="97.1" fill="#1f55a4"/>
<ellipse cx="548" cy="776.8" rx="162.5" ry="96.7" fill="#205bab"/>
<ellipse cx="548" cy="776.8" rx="161.0" ry="96.3" fill="#2b63b1"/>
<ellipse cx="548" cy="776.8" rx="159.5" ry="95.8" fill="#356ab7"/>
<ellipse cx="548" cy="776.8" rx="158.0" ry="95.0" fill="#3e71bc"/>
<ellipse cx="548" cy="776.8" rx="156.5" ry="94.3" fill="#4877c1"/>
<ellipse cx="548" cy="776.8" rx="155.0" ry="93.6" fill="#547ec5"/>
<ellipse cx="548" cy="776.8" rx="153.5" ry="92.9" fill="#6086ca"/>
<ellipse cx="548" cy="776.8" rx="152.0" ry="92.2" fill="#6c8dce"/>
<ellipse cx="548" cy="776.8" rx="150.5" ry="91.5" fill="#7794d3"/>
<ellipse cx="548" cy="776.8" rx="149.0" ry="90.7" fill="#849ed8"/>
<ellipse cx="548" cy="776.8" rx="147.5" ry="90.0" fill="#90a7dc"/>
<ellipse cx="548" cy="776.8" rx="146.0" ry="89.3" fill="#9cafe0"/>
<ellipse cx="548" cy="776.8" rx="144.5" ry="88.6" fill="#a7b8e4"/>
<ellipse cx="548" cy="776.8" rx="143.0" ry="87.9" fill="#b3c1e8"/>
<ellipse cx="548" cy="776.8" rx="141.5" ry="87.2" fill="#bfcbec"/>
<ellipse cx="548" cy="776.8" rx="140.0" ry="86.4" fill="#cbd4f0"/>
<ellipse cx="548" cy="776.8" rx="138.5" ry="85.7" fill="#d8def4"/>
<ellipse cx="548" cy="776.8" rx="137.0" ry="85.0" fill="#e4e8f8"/>
<ellipse cx="548" cy="776.8" rx="135.5" ry="84.2" fill="#e7ebf9"/>
<ellipse cx="548" cy="776.8" rx="134.0" ry="83.5" fill="#ebedfa"/>
<ellipse cx="548" cy="776.8" rx="132.5" ry="82.8" fill="#eef0fb"/>
<ellipse cx="548" cy="776.8" rx="131.0" ry="82.0" fill="#f1f3fc"/>
<ellipse cx="548" cy="776.8" rx="129.5" ry="81.2" fill="#f4f5fd"/>
<ellipse cx="548" cy="776.8" rx="128.0" ry="80.5" fill="#f8f8fe"/>
<ellipse cx="548" cy="776.8" rx="126.5" ry="79.8" fill="#f9f9ff"/>
<ellipse cx="548" cy="776.8" rx="125.0" ry="79.1" fill="#f6f7fe"/>
<ellipse cx="548" cy="776.8" rx="123.5" ry="78.4" fill="#f3f4fd"/>
<ellipse cx="548" cy="776.8" rx="122.0" ry="77.7" fill="#f0f2fc"/>
<ellipse cx="548" cy="776.8" rx="120.5" ry="77.0" fill="#edeffb"/>
<ellipse cx="548" cy="776.8" rx="119.0" ry="76.4" fill="#eaedfa"/>
<ellipse cx="548" cy="776.8" rx="117.5" ry="75.7" fill="#e7eaf9"/>
<ellipse cx="548" cy="776.8" rx="116.0" ry="75.0" fill="#e4e8f8"/>
<ellipse cx="548" cy="776.8" rx="114.5" ry="74.2" fill="#d9dff4"/>
<ellipse cx="548" cy="776.8" rx="113.0" ry="73.4" fill="#ced6f1"/>
<ellipse cx="548" cy="776.8" rx="111.5" ry="72.6" fill="#c2cded"/>
<ellipse cx="548" cy="776.8" rx="110.0" ry="71.8" fill="#b7c4ea"/>
<ellipse cx="548" cy="776.8" rx="108.5" ry="70.9" fill="#acbce6"/>
<ellipse cx="548" cy="776.8" rx="107.0" ry="70.1" fill="#a2b4e2"/>
<ellipse cx="548" cy="776.8" rx="105.5" ry="69.3" fill="#97acde"/>
<ellipse cx="548" cy="776.8" rx="104.0" ry="68.5" fill="#8da4db"/>
<ellipse cx="548" cy="776.8" rx="102.5" ry="67.7" fill="#809ad6"/>
<ellipse cx="548" cy="776.8" rx="101.0" ry="66.9" fill="#7492d2"/>
<ellipse cx="548" cy="776.8" rx="99.5" ry="66.1" fill="#688bcd"/>
<ellipse cx="548" cy="776.8" rx="98.0" ry="65.2" fill="#5c83c8"/>
<ellipse cx="548" cy="776.8" rx="96.5" ry="64.4" fill="#507cc4"/>
<ellipse cx="548" cy="776.8" rx="95.0" ry="63.6" fill="#4475bf"/>
<ellipse cx="548" cy="776.8" rx="93.5" ry="62.8" fill="#3b6eba"/>
<ellipse cx="548" cy="776.8" rx="92.0" ry="62.0" fill="#3268b5"/>
<ellipse cx="548" cy="776.8" rx="90.5" ry="60.6" fill="#2c63b1"/>
<ellipse cx="548" cy="776.8" rx="89.0" ry="59.2" fill="#255ead"/>
<ellipse cx="548" cy="776.8" rx="87.5" ry="57.8" fill="#1f59a9"/>
<ellipse cx="548" cy="776.8" rx="86.0" ry="56.4" fill="#1f56a5"/>
<ellipse cx="548" cy="776.8" rx="84.5" ry="55.0" fill="#1e52a0"/>
<ellipse cx="548" cy="776.8" rx="83.0" ry="53.6" fill="#1e4e9a"/>
<ellipse cx="548" cy="776.8" rx="81.5" ry="52.2" fill="#1e4995"/>
<ellipse cx="548" cy="776.8" rx="80.0" ry="50.9" fill="#1d448f"/>
<ellipse cx="548" cy="776.8" rx="78.5" ry="49.5" fill="#1d4089"/>
<ellipse cx="548" cy="776.8" rx="77.0" ry="48.6" fill="#1d3c84"/>
<ellipse cx="548" cy="776.8" rx="75.5" ry="48.0" fill="#1d3980"/>
<ellipse cx="548" cy="776.8" rx="74.0" ry="47.5" fill="#1d367c"/>
<ellipse cx="548" cy="776.8" rx="72.5" ry="46.9" fill="#1c3378"/>
<ellipse cx="548" cy="776.8" rx="71.0" ry="46.3" fill="#1c3074"/>
<ellipse cx="548" cy="776.8" rx="69.5" ry="45.7" fill="#1c2d70"/>
<ellipse cx="548" cy="776.8" rx="68.0" ry="45.2" fill="#1c2a6b"/>
<ellipse cx="548" cy="776.8" rx="66.5" ry="44.6" fill="#1c2768"/>
<ellipse cx="548" cy="776.8" rx="65.0" ry="44.0" fill="#1b2463"/>
<ellipse cx="548" cy="776.8" rx="63.5" ry="43.4" fill="#1b205f"/>
<ellipse cx="548" cy="776.8" rx="62.0" ry="42.9" fill="#1a1d5b"/>
<ellipse cx="548" cy="776.8" rx="60.5" ry="42.3" fill="#1a1957"/>
<ellipse cx="548" cy="776.8" rx="59.0" ry="41.7" fill="#1a1653"/>
<ellipse cx="548" cy="776.8" rx="57.5" ry="41.1" fill="#19124e"/>
<ellipse cx="548" cy="776.8" rx="56.0" ry="40.6" fill="#180f4a"/>
<ellipse cx="548" cy="776.8" rx="54.5" ry="40.0" fill="#180c46"/>
<ellipse cx="548" cy="776.8" rx="53.0" ry="39.2" fill="#170a43"/>
<ellipse cx="548" cy="776.8" rx="51.5" ry="38.5" fill="#170840"/>
<ellipse cx="548" cy="776.8" rx="50.0" ry="37.7" fill="#16063d"/>
<ellipse cx="548" cy="776.8" rx="48.5" ry="36.9" fill="#16053b"/>
<ellipse cx="548" cy="776.8" rx="47.0" ry="36.2" fill="#150539"/>
<ellipse cx="548" cy="776.8" rx="45.5" ry="35.4" fill="#140437"/>
<ellipse cx="548" cy="776.8" rx="44.0" ry="34.6" fill="#130436"/>
<ellipse cx="548" cy="776.8" rx="42.5" ry="33.9" fill="#130434"/>
<ellipse cx="548" cy="776.8" rx="41.0" ry="33.1" fill="#120332"/>
<ellipse cx="548" cy="776.8" rx="39.5" ry="32.3" fill="#110331"/>
<ellipse cx="548" cy="776.8" rx="38.0" ry="31.6" fill="#11032f"/>
<ellipse cx="548" cy="776.8" rx="36.5" ry="30.8" fill="#10032d"/>
<ellipse cx="548" cy="776.8" rx="35.0" ry="30.0" fill="#0f032b"/>
<ellipse cx="548" cy="776.8" rx="33.5" ry="29.3" fill="#0e0329"/>
<ellipse cx="548" cy="776.8" rx="32.0" ry="28.5" fill="#0d0327"/>
<ellipse cx="548" cy="776.8" rx="30.5" ry="27.5" fill="#0c0326"/>
<ellipse cx="548" cy="776.8" rx="29.0" ry="26.2" fill="#0c0324"/>
<ellipse cx="548" cy="776.8" rx="27.5" ry="24.8" fill="#0b0323"/>
<ellipse cx="548" cy="776.8" rx="26.0" ry="23.5" fill="#0b0322"/>
<ellipse cx="548" cy="776.8" rx="24.5" ry="22.1" fill="#0a0321"/>
<ellipse cx="548" cy="776.8" rx="23.0" ry="20.8" fill="#09031f"/>
<ellipse cx="548" cy="776.8" rx="21.5" ry="19.4" fill="#09031e"/>
<ellipse cx="548" cy="776.8" rx="20.0" ry="18.1" fill="#08031d"/>
<ellipse cx="548" cy="776.8" rx="18.5" ry="16.7" fill="#08031c"/>
<ellipse cx="548" cy="776.8" rx="17.0" ry="15.4" fill="#08031b"/>
<ellipse cx="548" cy="776.8" rx="15.5" ry="14.0" fill="#07031a"/>
<ellipse cx="548" cy="776.8" rx="14.0" ry="12.6" fill="#070319"/>
<ellipse cx="548" cy="776.8" rx="12.5" ry="11.3" fill="#070318"/>
<ellipse cx="548" cy="776.8" rx="11.0" ry="9.9" fill="#060318"/>
<ellipse cx="548" cy="776.8" rx="9.5" ry="8.6" fill="#060317"/>
<ellipse cx="548" cy="776.8" rx="8.0" ry="7.2" fill="#060316"/>
<ellipse cx="548" cy="776.8" rx="6.5" ry="5.9" fill="#050315"/>
<ellipse cx="548" cy="776.8" rx="5.0" ry="4.5" fill="#050314"/>
<ellipse cx="548" cy="776.8" rx="3.5" ry="3.2" fill="#050314"/>
<ellipse cx="548" cy="776.8" rx="2.0" ry="1.8" fill="#040313"/>
<ellipse cx="548" cy="776.8" rx="0.5" ry="0.5" fill="#040312"/>
</g></g>
<ellipse cx="561.7" cy="624.5" rx="1.8" ry="5" fill="#12053a"/>
<ellipse cx="561.7" cy="926" rx="1.8" ry="5" fill="#12053a"/>
<line x1="160.0" y1="634.2" x2="989.0" y2="678.3" stroke="#fff" stroke-width="4.4"/>
<line x1="160.0" y1="779.8" x2="989.0" y2="778.0" stroke="#fff" stroke-width="4.4"/>
<path d="M160.0 1012.6h15M989.0 1012.6h-15M160.0 989.0h6.8M989.0 989.0h-6.8M160.0 965.3h6.8M989.0 965.3h-6.8M160.0 941.7h6.8M989.0 941.7h-6.8M160.0 918.0h6.8M989.0 918.0h-6.8M160.0 894.4h15M989.0 894.4h-15M160.0 870.7h6.8M989.0 870.7h-6.8M160.0 847.0h6.8M989.0 847.0h-6.8M160.0 823.4h6.8M989.0 823.4h-6.8M160.0 799.8h6.8M989.0 799.8h-6.8M160.0 776.1h15M989.0 776.1h-15M160.0 752.5h6.8M989.0 752.5h-6.8M160.0 728.8h6.8M989.0 728.8h-6.8M160.0 705.1h6.8M989.0 705.1h-6.8M160.0 681.5h6.8M989.0 681.5h-6.8M160.0 657.9h15M989.0 657.9h-15M160.0 634.2h6.8M989.0 634.2h-6.8M160.0 610.6h6.8M989.0 610.6h-6.8M160.0 586.9h6.8M989.0 586.9h-6.8M160.0 563.2h6.8M989.0 563.2h-6.8M160.0 539.6h15M989.0 539.6h-15M160.0 539.6v8M160.0 1012.6v-8M183.7 539.6v3M183.7 1012.6v-3M207.4 539.6v3M207.4 1012.6v-3M231.1 539.6v3M231.1 1012.6v-3M254.8 539.6v3M254.8 1012.6v-3M278.5 539.6v8M278.5 1012.6v-8M302.2 539.6v3M302.2 1012.6v-3M325.9 539.6v3M325.9 1012.6v-3M349.6 539.6v3M349.6 1012.6v-3M373.3 539.6v3M373.3 1012.6v-3M397.0 539.6v8M397.0 1012.6v-8M420.7 539.6v3M420.7 1012.6v-3M444.4 539.6v3M444.4 1012.6v-3M468.1 539.6v3M468.1 1012.6v-3M491.8 539.6v3M491.8 1012.6v-3M515.5 539.6v8M515.5 1012.6v-8M539.2 539.6v3M539.2 1012.6v-3M562.9 539.6v3M562.9 1012.6v-3M586.6 539.6v3M586.6 1012.6v-3M610.3 539.6v3M610.3 1012.6v-3M634.0 539.6v8M634.0 1012.6v-8M657.7 539.6v3M657.7 1012.6v-3M681.4 539.6v3M681.4 1012.6v-3M705.1 539.6v3M705.1 1012.6v-3M728.8 539.6v3M728.8 1012.6v-3M752.5 539.6v8M752.5 1012.6v-8M776.2 539.6v3M776.2 1012.6v-3M799.9 539.6v3M799.9 1012.6v-3M823.6 539.6v3M823.6 1012.6v-3M847.3 539.6v3M847.3 1012.6v-3M871.0 539.6v8M871.0 1012.6v-8M894.7 539.6v3M894.7 1012.6v-3M918.4 539.6v3M918.4 1012.6v-3M942.1 539.6v3M942.1 1012.6v-3M965.8 539.6v3M965.8 1012.6v-3M989.5 539.6v8M989.5 1012.6v-8" stroke="#fff" stroke-width="4.5" fill="none"/>
<text x="706.5" y="601.2" font-size="53.1" font-weight="bold" fill="#fff" stroke="#fff" stroke-width="0.35">(b) #176144</text>
<rect x="160.0" y="1032.8" width="829.0" height="473.10000000000014" fill="#000"/>
<g clip-path="url(#cp2)"><g filter="url(#bl)">
<ellipse cx="546.8" cy="1269.4" rx="190.0" ry="115.1" fill="#000000"/>
<ellipse cx="546.8" cy="1269.4" rx="188.5" ry="114.2" fill="#000000"/>
<ellipse cx="546.8" cy="1269.4" rx="187.0" ry="113.3" fill="#000000"/>
<ellipse cx="546.8" cy="1269.4" rx="185.5" ry="112.4" fill="#010103"/>
<ellipse cx="546.8" cy="1269.4" rx="184.0" ry="111.5" fill="#010105"/>
<ellipse cx="546.8" cy="1269.4" rx="182.5" ry="110.6" fill="#020208"/>
<ellipse cx="546.8" cy="1269.4" rx="181.0" ry="109.7" fill="#03030d"/>
<ellipse cx="546.8" cy="1269.4" rx="179.5" ry="108.8" fill="#040311"/>
<ellipse cx="546.8" cy="1269.4" rx="178.0" ry="107.9" fill="#060317"/>
<ellipse cx="546.8" cy="1269.4" rx="176.5" ry="107.0" fill="#08031d"/>
<ellipse cx="546.8" cy="1269.4" rx="175.0" ry="106.0" fill="#0c0326"/>
<ellipse cx="546.8" cy="1269.4" rx="173.5" ry="105.1" fill="#10032e"/>
<ellipse cx="546.8" cy="1269.4" rx="172.0" ry="104.2" fill="#130435"/>
<ellipse cx="546.8" cy="1269.4" rx="170.5" ry="103.3" fill="#15053b"/>
<ellipse cx="546.8" cy="1269.4" rx="169.0" ry="102.4" fill="#170a43"/>
<ellipse cx="546.8" cy="1269.4" rx="167.5" ry="101.5" fill="#19114d"/>
<ellipse cx="546.8" cy="1269.4" rx="166.0" ry="100.6" fill="#1a1b59"/>
<ellipse cx="546.8" cy="1269.4" rx="164.5" ry="99.7" fill="#1c2465"/>
<ellipse cx="546.8" cy="1269.4" rx="163.0" ry="98.8" fill="#1c2e72"/>
<ellipse cx="546.8" cy="1269.4" rx="161.5" ry="97.9" fill="#1d387f"/>
<ellipse cx="546.8" cy="1269.4" rx="160.0" ry="97.0" fill="#1d428d"/>
<ellipse cx="546.8" cy="1269.4" rx="158.5" ry="96.1" fill="#1e509d"/>
<ellipse cx="546.8" cy="1269.4" rx="157.0" ry="95.1" fill="#245ead"/>
<ellipse cx="546.8" cy="1269.4" rx="155.5" ry="94.2" fill="#3f71bc"/>
<ellipse cx="546.8" cy="1269.4" rx="154.0" ry="93.3" fill="#6186ca"/>
<ellipse cx="546.8" cy="1269.4" rx="152.5" ry="92.4" fill="#839dd7"/>
<ellipse cx="546.8" cy="1269.4" rx="151.0" ry="91.5" fill="#a6b7e4"/>
<ellipse cx="546.8" cy="1269.4" rx="149.5" ry="90.6" fill="#cbd4f0"/>
<ellipse cx="546.8" cy="1269.4" rx="148.0" ry="89.7" fill="#e1e6f7"/>
<ellipse cx="546.8" cy="1269.4" rx="146.5" ry="88.8" fill="#f1f2fc"/>
<ellipse cx="546.8" cy="1269.4" rx="145.0" ry="87.9" fill="#f6f7fe"/>
<ellipse cx="546.8" cy="1269.4" rx="143.5" ry="87.0" fill="#fafaff"/>
<ellipse cx="546.8" cy="1269.4" rx="142.0" ry="86.1" fill="#f7f7fe"/>
<ellipse cx="546.8" cy="1269.4" rx="140.5" ry="85.1" fill="#f3f4fd"/>
<ellipse cx="546.8" cy="1269.4" rx="139.0" ry="84.2" fill="#e6eaf9"/>
<ellipse cx="546.8" cy="1269.4" rx="137.5" ry="83.3" fill="#d3daf2"/>
<ellipse cx="546.8" cy="1269.4" rx="136.0" ry="82.4" fill="#b0bee7"/>
<ellipse cx="546.8" cy="1269.4" rx="134.5" ry="81.5" fill="#8da4db"/>
<ellipse cx="546.8" cy="1269.4" rx="133.0" ry="80.6" fill="#6a8cce"/>
<ellipse cx="546.8" cy="1269.4" rx="131.5" ry="79.7" fill="#4676c0"/>
<ellipse cx="546.8" cy="1269.4" rx="130.0" ry="78.8" fill="#2c63b1"/>
<ellipse cx="546.8" cy="1269.4" rx="128.5" ry="77.9" fill="#1f53a1"/>
<ellipse cx="546.8" cy="1269.4" rx="127.0" ry="77.0" fill="#1e4691"/>
<ellipse cx="546.8" cy="1269.4" rx="125.5" ry="76.1" fill="#1d3a82"/>
<ellipse cx="546.8" cy="1269.4" rx="124.0" ry="75.1" fill="#1c3175"/>
<ellipse cx="546.8" cy="1269.4" rx="122.5" ry="74.2" fill="#1c2768"/>
<ellipse cx="546.8" cy="1269.4" rx="121.0" ry="73.3" fill="#1b1d5c"/>
<ellipse cx="546.8" cy="1269.4" rx="119.5" ry="72.4" fill="#191350"/>
<ellipse cx="546.8" cy="1269.4" rx="118.0" ry="71.5" fill="#180c46"/>
<ellipse cx="546.8" cy="1269.4" rx="116.5" ry="70.6" fill="#16053c"/>
<ellipse cx="546.8" cy="1269.4" rx="115.0" ry="69.7" fill="#140436"/>
<ellipse cx="546.8" cy="1269.4" rx="113.5" ry="68.8" fill="#110330"/>
<ellipse cx="546.8" cy="1269.4" rx="112.0" ry="67.9" fill="#0d0328"/>
<ellipse cx="546.8" cy="1269.4" rx="110.5" ry="67.0" fill="#09031f"/>
<ellipse cx="546.8" cy="1269.4" rx="109.0" ry="66.1" fill="#070318"/>
<ellipse cx="546.8" cy="1269.4" rx="107.5" ry="65.1" fill="#040312"/>
<ellipse cx="546.8" cy="1269.4" rx="106.0" ry="64.2" fill="#03030e"/>
<ellipse cx="546.8" cy="1269.4" rx="104.5" ry="63.3" fill="#02020a"/>
<ellipse cx="546.8" cy="1269.4" rx="103.0" ry="62.4" fill="#010106"/>
<ellipse cx="546.8" cy="1269.4" rx="101.5" ry="61.5" fill="#010103"/>
<ellipse cx="546.8" cy="1269.4" rx="100.0" ry="60.6" fill="#000001"/>
<ellipse cx="546.8" cy="1269.4" rx="98.5" ry="59.7" fill="#000000"/>
<ellipse cx="546.8" cy="1269.4" rx="97.0" ry="58.8" fill="#000000"/>
<ellipse cx="546.8" cy="1269.4" rx="95.5" ry="57.9" fill="#000000"/>
<ellipse cx="546.8" cy="1269.4" rx="94.0" ry="57.0" fill="#000000"/>
<ellipse cx="546.8" cy="1269.4" rx="92.5" ry="56.1" fill="#000000"/>
<ellipse cx="546.8" cy="1269.4" rx="91.0" ry="55.1" fill="#000000"/>
<ellipse cx="546.8" cy="1269.4" rx="89.5" ry="54.2" fill="#000000"/>
<ellipse cx="546.8" cy="1269.4" rx="88.0" ry="53.3" fill="#000000"/>
<ellipse cx="546.8" cy="1269.4" rx="86.5" ry="52.4" fill="#000000"/>
<ellipse cx="546.8" cy="1269.4" rx="85.0" ry="51.5" fill="#000000"/>
<ellipse cx="546.8" cy="1269.4" rx="83.5" ry="50.6" fill="#000000"/>
<ellipse cx="546.8" cy="1269.4" rx="82.0" ry="49.7" fill="#000000"/>
<ellipse cx="546.8" cy="1269.4" rx="80.5" ry="48.8" fill="#000000"/>
<ellipse cx="546.8" cy="1269.4" rx="79.0" ry="47.9" fill="#000000"/>
<ellipse cx="546.8" cy="1269.4" rx="77.5" ry="47.0" fill="#000000"/>
<ellipse cx="546.8" cy="1269.4" rx="76.0" ry="46.1" fill="#000000"/>
<ellipse cx="546.8" cy="1269.4" rx="74.5" ry="45.1" fill="#000000"/>
<ellipse cx="546.8" cy="1269.4" rx="73.0" ry="44.2" fill="#000000"/>
<ellipse cx="546.8" cy="1269.4" rx="71.5" ry="43.3" fill="#000000"/>
<ellipse cx="546.8" cy="1269.4" rx="70.0" ry="42.4" fill="#000000"/>
<ellipse cx="546.8" cy="1269.4" rx="68.5" ry="41.5" fill="#000000"/>
<ellipse cx="546.8" cy="1269.4" rx="67.0" ry="40.6" fill="#000000"/>
<ellipse cx="546.8" cy="1269.4" rx="65.5" ry="39.7" fill="#000000"/>
<ellipse cx="546.8" cy="1269.4" rx="64.0" ry="38.8" fill="#000000"/>
<ellipse cx="546.8" cy="1269.4" rx="62.5" ry="37.9" fill="#000000"/>
<ellipse cx="546.8" cy="1269.4" rx="61.0" ry="37.0" fill="#000000"/>
<ellipse cx="546.8" cy="1269.4" rx="59.5" ry="36.1" fill="#000000"/>
<ellipse cx="546.8" cy="1269.4" rx="58.0" ry="35.1" fill="#000000"/>
<ellipse cx="546.8" cy="1269.4" rx="56.5" ry="34.2" fill="#000000"/>
<ellipse cx="546.8" cy="1269.4" rx="55.0" ry="33.3" fill="#000000"/>
<ellipse cx="546.8" cy="1269.4" rx="53.5" ry="32.4" fill="#000000"/>
<ellipse cx="546.8" cy="1269.4" rx="52.0" ry="31.5" fill="#000000"/>
<ellipse cx="546.8" cy="1269.4" rx="50.5" ry="30.6" fill="#000000"/>
<ellipse cx="546.8" cy="1269.4" rx="49.0" ry="29.7" fill="#000000"/>
<ellipse cx="546.8" cy="1269.4" rx="47.5" ry="28.8" fill="#000000"/>
<ellipse cx="546.8" cy="1269.4" rx="46.0" ry="27.9" fill="#000000"/>
<ellipse cx="546.8" cy="1269.4" rx="44.5" ry="27.0" fill="#000000"/>
<ellipse cx="546.8" cy="1269.4" rx="43.0" ry="26.1" fill="#000000"/>
<ellipse cx="546.8" cy="1269.4" rx="41.5" ry="25.1" fill="#000000"/>
<ellipse cx="546.8" cy="1269.4" rx="40.0" ry="24.2" fill="#000000"/>
<ellipse cx="546.8" cy="1269.4" rx="38.5" ry="23.3" fill="#000000"/>
<ellipse cx="546.8" cy="1269.4" rx="37.0" ry="22.4" fill="#000000"/>
<ellipse cx="546.8" cy="1269.4" rx="35.5" ry="21.5" fill="#000000"/>
<ellipse cx="546.8" cy="1269.4" rx="34.0" ry="20.6" fill="#000000"/>
<ellipse cx="546.8" cy="1269.4" rx="32.5" ry="19.7" fill="#000000"/>
<ellipse cx="546.8" cy="1269.4" rx="31.0" ry="18.8" fill="#000000"/>
<ellipse cx="546.8" cy="1269.4" rx="29.5" ry="17.9" fill="#000000"/>
<ellipse cx="546.8" cy="1269.4" rx="28.0" ry="17.0" fill="#000000"/>
<ellipse cx="546.8" cy="1269.4" rx="26.5" ry="16.1" fill="#000000"/>
<ellipse cx="546.8" cy="1269.4" rx="25.0" ry="15.2" fill="#000000"/>
<ellipse cx="546.8" cy="1269.4" rx="23.5" ry="14.2" fill="#000000"/>
<ellipse cx="546.8" cy="1269.4" rx="22.0" ry="13.3" fill="#000000"/>
<ellipse cx="546.8" cy="1269.4" rx="20.5" ry="12.4" fill="#000000"/>
<ellipse cx="546.8" cy="1269.4" rx="19.0" ry="11.5" fill="#000000"/>
<ellipse cx="546.8" cy="1269.4" rx="17.5" ry="10.6" fill="#000000"/>
<ellipse cx="546.8" cy="1269.4" rx="16.0" ry="9.7" fill="#000000"/>
<ellipse cx="546.8" cy="1269.4" rx="14.5" ry="8.8" fill="#000000"/>
<ellipse cx="546.8" cy="1269.4" rx="13.0" ry="7.9" fill="#000000"/>
<ellipse cx="546.8" cy="1269.4" rx="11.5" ry="7.0" fill="#000000"/>
<ellipse cx="546.8" cy="1269.4" rx="10.0" ry="6.1" fill="#000000"/>
<ellipse cx="546.8" cy="1269.4" rx="8.5" ry="5.2" fill="#000000"/>
<ellipse cx="546.8" cy="1269.4" rx="7.0" ry="4.2" fill="#000000"/>
<ellipse cx="546.8" cy="1269.4" rx="5.5" ry="3.3" fill="#000000"/>
<ellipse cx="546.8" cy="1269.4" rx="4.0" ry="2.4" fill="#000000"/>
<ellipse cx="546.8" cy="1269.4" rx="2.5" ry="1.5" fill="#000000"/>
<ellipse cx="546.8" cy="1269.4" rx="1.0" ry="0.6" fill="#000000"/>
</g></g>
<line x1="160.0" y1="1127.6" x2="989.0" y2="1171.6" stroke="#fff" stroke-width="4.4"/>
<line x1="160.0" y1="1273.3" x2="989.0" y2="1271.5" stroke="#fff" stroke-width="4.4"/>
<path d="M160.0 1505.9h15M989.0 1505.9h-15M160.0 1482.2h6.8M989.0 1482.2h-6.8M160.0 1458.6h6.8M989.0 1458.6h-6.8M160.0 1434.9h6.8M989.0 1434.9h-6.8M160.0 1411.3h6.8M989.0 1411.3h-6.8M160.0 1387.6h15M989.0 1387.6h-15M160.0 1364.0h6.8M989.0 1364.0h-6.8M160.0 1340.3h6.8M989.0 1340.3h-6.8M160.0 1316.7h6.8M989.0 1316.7h-6.8M160.0 1293.0h6.8M989.0 1293.0h-6.8M160.0 1269.3h15M989.0 1269.3h-15M160.0 1245.7h6.8M989.0 1245.7h-6.8M160.0 1222.0h6.8M989.0 1222.0h-6.8M160.0 1198.4h6.8M989.0 1198.4h-6.8M160.0 1174.7h6.8M989.0 1174.7h-6.8M160.0 1151.1h15M989.0 1151.1h-15M160.0 1127.4h6.8M989.0 1127.4h-6.8M160.0 1103.8h6.8M989.0 1103.8h-6.8M160.0 1080.1h6.8M989.0 1080.1h-6.8M160.0 1056.5h6.8M989.0 1056.5h-6.8M160.0 1032.8h15M989.0 1032.8h-15M160.0 1032.8v8M160.0 1505.9v-8M183.7 1032.8v3M183.7 1505.9v-3M207.4 1032.8v3M207.4 1505.9v-3M231.1 1032.8v3M231.1 1505.9v-3M254.8 1032.8v3M254.8 1505.9v-3M278.5 1032.8v8M278.5 1505.9v-8M302.2 1032.8v3M302.2 1505.9v-3M325.9 1032.8v3M325.9 1505.9v-3M349.6 1032.8v3M349.6 1505.9v-3M373.3 1032.8v3M373.3 1505.9v-3M397.0 1032.8v8M397.0 1505.9v-8M420.7 1032.8v3M420.7 1505.9v-3M444.4 1032.8v3M444.4 1505.9v-3M468.1 1032.8v3M468.1 1505.9v-3M491.8 1032.8v3M491.8 1505.9v-3M515.5 1032.8v8M515.5 1505.9v-8M539.2 1032.8v3M539.2 1505.9v-3M562.9 1032.8v3M562.9 1505.9v-3M586.6 1032.8v3M586.6 1505.9v-3M610.3 1032.8v3M610.3 1505.9v-3M634.0 1032.8v8M634.0 1505.9v-8M657.7 1032.8v3M657.7 1505.9v-3M681.4 1032.8v3M681.4 1505.9v-3M705.1 1032.8v3M705.1 1505.9v-3M728.8 1032.8v3M728.8 1505.9v-3M752.5 1032.8v8M752.5 1505.9v-8M776.2 1032.8v3M776.2 1505.9v-3M799.9 1032.8v3M799.9 1505.9v-3M823.6 1032.8v3M823.6 1505.9v-3M847.3 1032.8v3M847.3 1505.9v-3M871.0 1032.8v8M871.0 1505.9v-8M894.7 1032.8v3M894.7 1505.9v-3M918.4 1032.8v3M918.4 1505.9v-3M942.1 1032.8v3M942.1 1505.9v-3M965.8 1032.8v3M965.8 1505.9v-3M989.5 1032.8v8M989.5 1505.9v-8" stroke="#fff" stroke-width="4.5" fill="none"/>
<text x="706.5" y="1096.2" font-size="53.1" font-weight="bold" fill="#fff" stroke="#fff" stroke-width="0.35">(c) #176140</text>
<text x="171.5" y="125.7" font-size="45" fill="#fff" stroke="#fff" stroke-width="0.35">ch 0</text>
<text x="171.5" y="268.5" font-size="45" fill="#fff" stroke="#fff" stroke-width="0.35">ch 203</text>
<text x="142" y="72.0" font-size="46.4" text-anchor="end" stroke="#000" stroke-width="0.35">1.0</text>
<text x="142" y="180.7" font-size="46.4" text-anchor="end" stroke="#000" stroke-width="0.35">0.5</text>
<text x="142" y="299.0" font-size="46.4" text-anchor="end" stroke="#000" stroke-width="0.35">0.0</text>
<text x="142" y="418.1" font-size="46.4" text-anchor="end" stroke="#000" stroke-width="0.35">-0.5</text>
<text x="142" y="522.5" font-size="46.4" text-anchor="end" stroke="#000" stroke-width="0.35">-1.0</text>
<text x="142" y="561.6" font-size="46.4" text-anchor="end" stroke="#000" stroke-width="0.35">1.0</text>
<text x="142" y="670.8" font-size="46.4" text-anchor="end" stroke="#000" stroke-width="0.35">0.5</text>
<text x="142" y="789.9" font-size="46.4" text-anchor="end" stroke="#000" stroke-width="0.35">0.0</text>
<text x="142" y="909.0" font-size="46.4" text-anchor="end" stroke="#000" stroke-width="0.35">-0.5</text>
<text x="142" y="1013.4" font-size="46.4" text-anchor="end" stroke="#000" stroke-width="0.35">-1.0</text>
<text x="142" y="1061.0" font-size="46.4" text-anchor="end" stroke="#000" stroke-width="0.35">1.0</text>
<text x="142" y="1169.5" font-size="46.4" text-anchor="end" stroke="#000" stroke-width="0.35">0.5</text>
<text x="142" y="1288.6" font-size="46.4" text-anchor="end" stroke="#000" stroke-width="0.35">0.0</text>
<text x="142" y="1407.7" font-size="46.4" text-anchor="end" stroke="#000" stroke-width="0.35">-0.5</text>
<text x="142" y="1512.0" font-size="46.4" text-anchor="end" stroke="#000" stroke-width="0.35">-1.0</text>
<text x="163.5" y="1551.5" font-size="46.4" text-anchor="middle" stroke="#000" stroke-width="0.35">2.0</text>
<text x="282.0" y="1551.5" font-size="46.4" text-anchor="middle" stroke="#000" stroke-width="0.35">2.5</text>
<text x="400.5" y="1551.5" font-size="46.4" text-anchor="middle" stroke="#000" stroke-width="0.35">3.0</text>
<text x="519.0" y="1551.5" font-size="46.4" text-anchor="middle" stroke="#000" stroke-width="0.35">3.5</text>
<text x="637.5" y="1551.5" font-size="46.4" text-anchor="middle" stroke="#000" stroke-width="0.35">4.0</text>
<text x="756.0" y="1551.5" font-size="46.4" text-anchor="middle" stroke="#000" stroke-width="0.35">4.5</text>
<text x="874.5" y="1551.5" font-size="46.4" text-anchor="middle" stroke="#000" stroke-width="0.35">5.0</text>
<text x="993.0" y="1551.5" font-size="46.4" text-anchor="middle" stroke="#000" stroke-width="0.35">5.5</text>
<text x="555.5" y="1607.3" font-size="57.5" text-anchor="middle" stroke="#000" stroke-width="0.35">R (m)</text>
<text transform="translate(38.8,779) rotate(-90)" font-size="58" text-anchor="middle" stroke="#000" stroke-width="0.35">Z (m)</text>
<text x="487.8" y="30.9" font-size="45" stroke="#000" stroke-width="0.35">emissivity</text>
<rect x="681.4" y="9.2" width="309" height="27" rx="2" fill="url(#cbar)" stroke="#000" stroke-width="2.2"/>
<clipPath id="cpb"><rect x="156.4" y="1640.6" width="836.7" height="631.8000000000002"/></clipPath>
<clipPath id="cpb2"><rect x="156.4" y="1640.6" width="832.2" height="631.8000000000002"/></clipPath>
<g clip-path="url(#cpb)">
<rect x="156.4" y="1640.6" width="102.29999999999998" height="631.8000000000002" fill="#807b7a"/>
<rect x="883.8" y="1640.6" width="104.80000000000007" height="631.8000000000002" fill="#807b7a"/>
<rect x="207.2" y="1600" width="12.2" height="397.0" fill="#343287"/>
<rect x="224.4" y="1600" width="19.8" height="370.7" fill="#343287"/>
<rect x="219.0" y="1970.7" width="30.3" height="269.0" fill="#343287"/>
<path d="M213.4 1990 L219.5 1990 L219.5 2240 L218.5 2240 Z" fill="#343287"/>
<rect x="197.4" y="1924.6" width="8.1" height="85.4" fill="#343287"/>
<rect x="188.6" y="2009.5" width="15.0" height="262.5" fill="#343287"/>
<rect x="155.5" y="2233.4" width="8.3" height="46.6" fill="#343287"/>
<path d="M163.8 2233 L152 2272 L160 2272 Z" fill="#343287"/>
<path d="M219.6 1970.7 L224.3 1970.7 L222.4 2046 L221.8 2046 Z" fill="#807b7a"/>
<path d="M263.1 2225.3 L269.0 2211.6 L274.9 2202.7 L279.8 2183.1 L283.7 2188.0 L288.6 2168.4 L294.5 2168.4 L296.5 2152.7 L299.4 2150.8 L303.3 2156.7 L309.2 2147.8 L313.8 2165.8 L320.0 2187.8 L324.9 2173.1 L328.5 2180.5 L332.2 2163.3 L334.7 2163.3 L338.3 2187.8 L342.0 2190.3 L344.5 2214.8 L349.4 2200.1 L355.5 2202.5 L357.9 2212.4 L361.6 2200.1 L367.7 2209.9 L372.6 2187.8 L377.5 2187.8 L380.0 2170.7 L387.4 2163.3 L393.5 2173.1 L395.9 2156.0 L402.1 2156.0 L407.0 2146.2 L410.6 2160.9 L414.3 2141.3 L421.7 2129.0 L424.1 2111.9 L426.6 2099.6 L431.5 2097.2 L433.1 2063.2 L441.3 2073.5 L446.2 2090.0 L458.4 2092.3 L463.3 2111.9 L468.2 2099.6 L475.6 2102.1 L483.0 2094.7 L487.6 2065.3 L491.8 2044.7 L495.9 2044.7 L500.0 2055.0 L506.2 2059.1 L514.4 2063.2 L518.5 2067.4 L522.6 2057.1 L524.7 2028.2 L530.9 2028.2 L534.0 2043.7 L539.1 2042.7 L546.3 2036.5 L549.4 2026.2 L552.5 2007.7 L557.6 1991.2 L561.8 1970.6 L565.9 1950.0 L569.0 1935.6 L576.2 1933.5 L580.3 1945.9 L582.4 1964.4 L586.5 1947.9 L590.6 1954.1 L594.7 1970.6 L600.9 1974.7 L603.0 1958.2 L607.1 1943.8 L611.2 1931.5 L615.3 1912.9 L619.4 1904.7 L624.6 1917.1 L627.7 1900.6 L628.8 1873.0 L632.9 1871.8 L635.9 1878.8 L638.8 1865.9 L642.9 1865.9 L643.5 1884.7 L647.1 1882.4 L650.6 1861.2 L654.7 1861.2 L658.2 1869.4 L661.2 1876.5 L663.5 1837.6 L670.6 1835.3 L677.1 1833.0 L678.8 1804.7 L682.4 1785.9 L689.4 1775.3 L694.1 1783.5 L696.5 1802.4 L700.0 1830.6 L701.2 1853.0 L707.1 1847.1 L712.9 1844.7 L715.9 1830.6 L717.1 1812.9 L720.0 1801.5 L727.5 1801.5 L729.6 1772.6 L734.7 1772.6 L737.8 1783.0 L740.9 1766.5 L744.0 1733.5 L746.0 1717.1 L751.2 1718.1 L754.3 1727.4 L759.4 1737.6 L762.5 1722.2 L768.7 1733.5 L772.8 1743.8 L778.0 1766.5 L782.1 1747.9 L786.2 1745.9 L790.3 1752.0 L794.4 1756.2 L798.5 1770.6 L801.6 1774.7 L804.7 1747.9 L807.8 1732.5 L813.0 1731.5 L817.1 1719.1 L820.2 1731.5 L823.2 1717.1 L827.4 1715.0 L830.4 1717.1 L831.5 1702.6 L836.6 1702.6 L839.7 1708.8 L842.8 1733.5 L844.9 1756.2 L850.0 1760.3 L854.1 1766.5 L859.3 1752.0 L861.3 1766.5 L866.5 1758.2 L870.6 1743.8 L875.7 1752.0 L878.8 1739.7 L881.9 1754.1 L884.0 1770.6 L886.0 1850.0 L888.0 2300.0" fill="none" stroke="#343287" stroke-width="8" stroke-linejoin="miter" stroke-miterlimit="2.5"/>
<rect x="904.1" y="1600" width="4.7" height="280.0" fill="#343287"/>
<rect x="925.5" y="1600" width="3.3" height="140.0" fill="#343287"/>
<rect x="930.9" y="1600" width="4.6" height="140.0" fill="#343287"/>
<rect x="954.3" y="1600" width="6.0" height="140.0" fill="#343287"/>
<rect x="955.6" y="1740" width="4.0" height="140.0" fill="#343287"/>
<rect x="975.7" y="1600" width="8.0" height="112.0" fill="#343287"/>
<rect x="883.8" y="1860" width="7.7" height="160.0" fill="#343287"/>
<rect x="944.4" y="1902" width="5.9" height="118.0" fill="#343287"/>
<rect x="975" y="1897.6" width="5.9" height="122.4" fill="#343287"/>
<rect x="970.3" y="1937.6" width="4.7" height="82.4" fill="#343287"/>
<rect x="940" y="1942.4" width="10.3" height="77.6" fill="#343287"/>
<rect x="980.4" y="2020" width="4.1" height="235.0" fill="#343287"/>
<rect x="885" y="2255" width="22.8" height="25.0" fill="#343287"/>
<rect x="919.6" y="2255" width="8.6" height="25.0" fill="#343287"/>
<rect x="940.8" y="2255" width="9.4" height="25.0" fill="#343287"/>
<rect x="964.3" y="2255" width="6.3" height="25.0" fill="#343287"/>
<rect x="976" y="2255" width="9.5" height="25.0" fill="#343287"/>
<path d="M258.0 2221.6 L264.8 2219.7 L286.9 2213.6 L316.3 2202.5 L330.0 2197.2" fill="none" stroke="#68a8e4" stroke-width="6" stroke-dasharray="22.0 15.6" stroke-dashoffset="30.54" stroke-linejoin="round"/>
<path d="M330.0 2197.2 L348.1 2190.3 L377.5 2175.6 L407.0 2153.5 L436.4 2129.0 L463.3 2107.0 L470.0 2100.1" fill="none" stroke="#68a8e4" stroke-width="6" stroke-dasharray="22.0 15.6" stroke-dashoffset="27.32" stroke-linejoin="round"/>
<path d="M470.0 2100.1 L489.7 2079.7 L516.5 2051.9 L543.2 2024.1 L568.0 1994.3 L592.7 1964.4 L613.2 1939.7 L633.8 1912.9 L652.4 1892.4 L675.0 1869.4 L680.0 1863.9" fill="none" stroke="#68a8e4" stroke-width="6" stroke-dasharray="22.0 15.6" stroke-dashoffset="10.70" stroke-linejoin="round"/>
<path d="M680.0 1863.9 L695.6 1846.8 L724.4 1815.9 L757.4 1789.1 L786.2 1770.6 L819.1 1756.2 L854.1 1743.8 L883.0 1737.6 L920.0 1733.0 L960.0 1731.0 L992.0 1730.5" fill="none" stroke="#68a8e4" stroke-width="6" stroke-dasharray="22.0 15.6" stroke-dashoffset="25.13" stroke-linejoin="round"/>
<path d="M250.9 1781.9 L258.8 1781.9 L261.6 2280 L248.0 2280 Z" fill="#3a7e2e"/>
<rect x="183.8" y="2181" width="10.3" height="99.0" fill="#3a7e2e"/>
<rect x="221.7" y="2237.6" width="8.3" height="42.4" fill="#3a7e2e"/>
<rect x="231.4" y="2210.7" width="10.3" height="69.3" fill="#3a7e2e"/>
<path d="M262.4 2192.7 L274.9 2178.2 L279.8 2163.5 L286.7 2139.0 L290.6 2117.5 L297.5 2104.7 L302.4 2090.0 L304.4 2084.0 L308.5 2063.2 L311.6 2046.8 L320.9 2042.7 L324.0 2028.2 L329.1 2011.8 L336.3 1995.3 L341.5 1978.8 L346.6 1962.4 L350.7 1941.8 L353.8 1929.4 L362.1 1921.2 L370.3 1910.9 L376.5 1894.4 L382.7 1877.7 L388.8 1872.5 L394.0 1872.5 L397.1 1865.3 L400.2 1857.0 L403.2 1848.8 L406.3 1838.5 L408.4 1828.2 L411.5 1820.0 L415.6 1815.9 L419.7 1813.8 L423.8 1809.7 L428.0 1803.5 L432.1 1799.4 L435.2 1792.2 L440.3 1793.2 L443.4 1801.5 L446.5 1820.0 L449.6 1814.9 L454.7 1806.6 L458.8 1799.4 L463.0 1791.2 L465.0 1783.0 L469.1 1778.8 L475.3 1783.0 L481.5 1795.3 L485.6 1776.8 L491.8 1774.7 L497.9 1776.8 L503.1 1762.4 L510.3 1754.1 L516.5 1752.0 L522.6 1762.4 L524.7 1741.8 L530.9 1741.8 L537.1 1734.6 L543.2 1739.7 L549.4 1720.1 L555.6 1727.4 L561.8 1729.4 L570.0 1729.4 L575.2 1741.8 L583.4 1724.3 L588.5 1741.8 L593.7 1758.2 L598.8 1762.4 L602.9 1778.8 L611.2 1766.5 L617.4 1777.8 L625.6 1770.6 L631.8 1785.0 L640.0 1774.7 L646.2 1787.0 L651.3 1780.9 L658.5 1760.3 L664.7 1758.2 L670.9 1768.5 L675.0 1772.6 L679.1 1776.8 L684.3 1758.2 L690.4 1752.0 L693.5 1762.4 L698.7 1756.2 L703.8 1764.4 L709.0 1776.8 L716.2 1785.0 L722.4 1794.3 L728.5 1791.2 L734.7 1801.5 L738.8 1789.1 L747.1 1787.0 L751.2 1802.5 L757.4 1805.6 L763.5 1811.8 L771.8 1828.2 L776.9 1822.1 L784.1 1840.6 L788.2 1832.4 L793.4 1836.5 L796.5 1815.9 L802.7 1807.7 L807.8 1797.4 L813.0 1778.8 L818.1 1776.8 L821.2 1783.0 L826.3 1774.7 L831.5 1791.2 L837.7 1803.5 L843.8 1778.8 L849.0 1783.0 L854.1 1801.5 L860.3 1820.0 L865.4 1811.8 L873.7 1826.2 L878.8 1820.0 L884.0 1822.1 L886.0 1780.0 L887.0 1600.0" fill="none" stroke="#3a7e2e" stroke-width="8" stroke-linejoin="miter" stroke-miterlimit="2.5"/>
<rect x="884.7" y="1600" width="8.0" height="140.0" fill="#3a7e2e"/>
<rect x="896.1" y="1600" width="8.0" height="140.0" fill="#3a7e2e"/>
<rect x="921.5" y="1600" width="4.0" height="140.0" fill="#3a7e2e"/>
<rect x="935.5" y="1600" width="4.0" height="140.0" fill="#3a7e2e"/>
<rect x="948.9" y="1600" width="5.4" height="202.0" fill="#3a7e2e"/>
<rect x="969" y="1600" width="6.7" height="140.0" fill="#3a7e2e"/>
<rect x="985" y="1600" width="3.6" height="112.0" fill="#3a7e2e"/>
<rect x="988.6" y="1600" width="4.0" height="165.0" fill="#3a7e2e"/>
<rect x="883.8" y="1740" width="7.6" height="120.0" fill="#3a7e2e"/>
<rect x="931.5" y="1822" width="2.7" height="58.0" fill="#3a7e2e"/>
<rect x="944.9" y="1740" width="4.0" height="140.0" fill="#3a7e2e"/>
<rect x="974.3" y="1740" width="6.7" height="157.6" fill="#3a7e2e"/>
<rect x="929.1" y="1880" width="5.9" height="140.0" fill="#3a7e2e"/>
<rect x="935" y="1942.4" width="5.0" height="77.6" fill="#3a7e2e"/>
<rect x="966.8" y="1937.6" width="3.5" height="82.4" fill="#3a7e2e"/>
<rect x="980.9" y="1880" width="1.7" height="140.0" fill="#3a7e2e"/>
<rect x="950.2" y="2255" width="5.5" height="25.0" fill="#3a7e2e"/>
<path d="M157.0 2223.3 L200.0 2222.5 L214.0 2218.5 L225.9 2206.7 L239.6 2190.0 L250.4 2170.4 L257.3 2156.7 L262.2 2141.0 L273.9 2122.4 L279.5 2103.0 L288.0 2088.0 L297.2 2073.5 L300.0 2066.3" fill="none" stroke="#80bf66" stroke-width="6" stroke-dasharray="22.0 15.6" stroke-dashoffset="0.31" stroke-linejoin="round"/>
<path d="M300.0 2066.3 L304.4 2055.0 L311.6 2038.5 L320.9 2022.1 L329.1 2005.6 L337.4 1987.1 L345.6 1970.6 L353.8 1954.1 L364.1 1937.6 L373.4 1920.1 L382.7 1906.8 L393.0 1888.2 L399.1 1877.7 L407.4 1867.4 L415.6 1856.0 L423.8 1844.7 L432.1 1833.4 L440.3 1824.1 L448.5 1813.8 L456.8 1803.5 L465.0 1796.3 L476.0 1786.0 L480.0 1782.8" fill="none" stroke="#80bf66" stroke-width="6" stroke-dasharray="22.0 15.6" stroke-dashoffset="6.41" stroke-linejoin="round"/>
<path d="M480.0 1782.8 L487.6 1776.8 L507.2 1766.5 L525.7 1756.2 L541.2 1750.0 L561.8 1743.8 L577.2 1740.7 L598.8 1737.6 L615.3 1737.6 L636.9 1739.7 L652.4 1739.7 L675.0 1742.0 L700.0 1746.6" fill="none" stroke="#80bf66" stroke-width="6" stroke-dasharray="22.0 15.6" stroke-dashoffset="5.87" stroke-linejoin="round"/>
<path d="M700.0 1746.6 L701.8 1746.9 L736.8 1755.1 L775.9 1763.4 L810.9 1770.6 L850.0 1775.7 L883.0 1780.9 L930.0 1785.5 L992.0 1790.0" fill="none" stroke="#80bf66" stroke-width="6" stroke-dasharray="22.0 15.6" stroke-dashoffset="9.83" stroke-linejoin="round"/>
<rect x="241.7" y="2159" width="9.0" height="121.0" fill="#b3141c"/>
<path d="M257.5 2290.0 L257.5 2232.0 L258.7 2217.5 L262.2 2197.8 L267.1 2178.2 L272.0 2158.6 L276.9 2134.0 L280.8 2114.5 L286.7 2090.0 L291.0 2067.4 L296.2 2044.7 L301.3 2018.0 L306.5 1995.3 L312.6 1970.6 L318.8 1945.9 L325.0 1921.2 L330.1 1896.5 L334.3 1871.5 L337.4 1855.0 L340.4 1839.6 L343.5 1824.0 L346.6 1811.8 L350.7 1799.4 L354.9 1787.0 L359.0 1776.8 L363.1 1766.5 L367.2 1756.2 L371.3 1749.0 L376.5 1742.8 L379.6 1731.5 L384.7 1733.5 L388.8 1724.3 L393.0 1719.0 L398.1 1718.0 L402.2 1711.0 L406.3 1706.8 L410.4 1712.0 L415.6 1712.0 L419.7 1715.0 L424.9 1718.0 L429.0 1719.0 L433.1 1724.3 L437.2 1729.4 L441.3 1733.5 L443.4 1737.6 L447.5 1735.6 L451.6 1739.7 L455.7 1734.6 L459.9 1741.8 L463.0 1752.0 L465.0 1758.2 L471.2 1764.4 L476.3 1768.5 L481.5 1776.8 L487.6 1780.9 L495.9 1785.0 L500.0 1795.3 L504.1 1807.7 L508.2 1818.0 L513.4 1824.1 L516.5 1836.5 L521.6 1842.7 L528.8 1846.8 L536.0 1852.0 L544.3 1853.0 L548.4 1861.2 L551.5 1867.4 L558.7 1872.5 L565.9 1876.6 L574.1 1878.7 L581.3 1880.7 L586.5 1869.4 L590.6 1877.7 L596.8 1882.8 L600.0 1890.6 L607.1 1887.1 L615.3 1884.7 L618.8 1874.1 L627.1 1865.9 L635.3 1866.5 L641.2 1868.2 L649.4 1875.3 L655.3 1884.7 L662.4 1890.6 L670.6 1884.7 L677.6 1889.4 L685.9 1882.4 L694.1 1880.0 L700.0 1889.4 L704.9 1917.6 L712.1 1912.5 L718.2 1907.4 L725.4 1900.1 L732.6 1906.3 L740.9 1903.2 L747.1 1910.4 L751.2 1902.2 L757.4 1905.3 L762.5 1906.3 L768.7 1919.7 L773.8 1918.7 L777.9 1916.6 L784.1 1913.5 L792.4 1907.4 L798.5 1910.4 L804.7 1914.6 L810.9 1900.1 L817.1 1898.1 L821.2 1903.2 L827.4 1897.1 L834.6 1895.0 L837.7 1901.2 L843.8 1897.1 L850.0 1894.0 L856.2 1895.0 L858.2 1901.2 L861.3 1890.9 L867.5 1890.9 L870.6 1882.6 L875.7 1886.8 L880.9 1880.6 L882.9 1872.4 L887.0 1760.0 L891.0 1745.0 L896.0 1745.0" fill="none" stroke="#b3141c" stroke-width="8" stroke-linejoin="miter" stroke-miterlimit="2.5"/>
<rect x="908.8" y="1600" width="12.7" height="140.0" fill="#b3141c"/>
<rect x="939.5" y="1600" width="9.4" height="140.0" fill="#b3141c"/>
<rect x="960.3" y="1600" width="8.7" height="140.0" fill="#b3141c"/>
<rect x="923.5" y="1666" width="8.0" height="74.0" fill="#b3141c"/>
<rect x="973" y="1712.6" width="15.6" height="27.4" fill="#b3141c"/>
<rect x="891.4" y="1739" width="1.3" height="141.0" fill="#b3141c"/>
<rect x="892.7" y="1739" width="4.0" height="49.8" fill="#b3141c"/>
<rect x="896.7" y="1739" width="7.4" height="141.0" fill="#b3141c"/>
<rect x="908.1" y="1740" width="7.4" height="140.0" fill="#b3141c"/>
<rect x="916.8" y="1740" width="14.7" height="140.0" fill="#b3141c"/>
<rect x="915.5" y="1740" width="1.3" height="135.0" fill="#b3141c"/>
<rect x="931.5" y="1740" width="2.7" height="82.0" fill="#b3141c"/>
<rect x="934.2" y="1740" width="10.7" height="140.0" fill="#b3141c"/>
<rect x="948.9" y="1802" width="6.7" height="78.0" fill="#b3141c"/>
<rect x="959.6" y="1740" width="14.7" height="140.0" fill="#b3141c"/>
<rect x="981" y="1740" width="7.6" height="140.0" fill="#b3141c"/>
<rect x="897.4" y="1880" width="15.2" height="140.0" fill="#b3141c"/>
<rect x="918.5" y="1880" width="10.6" height="140.0" fill="#b3141c"/>
<rect x="935" y="1880" width="9.4" height="62.4" fill="#b3141c"/>
<rect x="944.4" y="1880" width="5.9" height="22.0" fill="#b3141c"/>
<rect x="950.3" y="1880" width="16.5" height="140.0" fill="#b3141c"/>
<rect x="966.8" y="1880" width="3.5" height="57.6" fill="#b3141c"/>
<rect x="970.3" y="1880" width="4.7" height="57.6" fill="#b3141c"/>
<rect x="975" y="1880" width="5.9" height="17.6" fill="#b3141c"/>
<rect x="982.6" y="1880" width="6.0" height="140.0" fill="#b3141c"/>
<rect x="984.5" y="2020" width="4.1" height="235.0" fill="#b3141c"/>
<rect x="955.7" y="2255" width="8.6" height="25.0" fill="#b3141c"/>
<rect x="985.5" y="2255" width="3.9" height="25.0" fill="#b3141c"/>
<rect x="988.6" y="1765" width="2.4" height="515.0" fill="#b3141c"/>
<!--ORANGE-->
<path d="M157.0 2223.6 L200.0 2223.6 L222.0 2223.2 L231.8 2220.4 L250.4 2211.6 L260.2 2197.8 L272.9 2180.2 L277.8 2164.5 L288.6 2144.9 L290.6 2129.2 L299.4 2108.6 L300.0 2105.5" fill="none" stroke="#d5741f" stroke-width="6" stroke-dasharray="22.0 15.6" stroke-dashoffset="0.00" stroke-linejoin="round"/>
<path d="M300.0 2105.5 L302.4 2092.9 L306.5 2073.5 L315.7 2036.5 L324.0 1999.4 L332.2 1962.4 L340.4 1925.3 L349.7 1888.2 L353.8 1871.5 L358.0 1853.0 L363.1 1834.4 L367.2 1818.0 L372.4 1803.5 L376.5 1795.3 L381.6 1781.0 L386.8 1766.5 L391.9 1758.2 L399.1 1748.0 L407.4 1740.7 L417.7 1737.6 L425.9 1737.6 L434.1 1740.7 L442.4 1745.9 L450.6 1754.1 L458.8 1764.4 L465.0 1770.6 L469.1 1776.8 L477.4 1787.0 L485.6 1798.4 L495.9 1810.7 L504.1 1820.0 L512.4 1827.2 L522.6 1837.5 L532.9 1846.8 L543.2 1854.0 L553.5 1861.2 L563.8 1867.4 L576.2 1873.5 L588.5 1878.7 L598.8 1882.8 L609.1 1885.9 L621.5 1888.0 L640.0 1892.0" fill="none" stroke="#d5741f" stroke-width="6" stroke-dasharray="22.0 15.6" stroke-dashoffset="22.35" stroke-linejoin="round"/>
<path d="M640.0 1892.0 L640.0 1892.0 L660.0 1896.0 L675.0 1899.1 L695.6 1902.2 L716.2 1905.3 L736.8 1907.4 L777.9 1909.4 L819.1 1911.1 L868.5 1911.9 L992.0 1912.3" fill="none" stroke="#d5741f" stroke-width="6" stroke-dasharray="22.0 15.6" stroke-dashoffset="17.43" stroke-linejoin="round"/>
</g>
<rect x="594.3" y="2022.2" width="384.3" height="231.5" fill="#fff" stroke="#111" stroke-width="3.6"/>
<rect x="601.7" y="2041.3" width="46.3" height="7.6" fill="#343287"/>
<text x="654.5" y="2052.3" font-size="29" fill="#2f2c86" textLength="159" lengthAdjust="spacingAndGlyphs" stroke="#2f2c86" stroke-width="0.35">#176142 obs.</text>
<rect x="601.7" y="2077.1" width="23.2" height="5.9" fill="#68a8e4"/>
<rect x="639.8" y="2077.1" width="8.2" height="5.9" fill="#68a8e4"/>
<text x="655.4" y="2086.8" font-size="29" fill="#2f2c86" textLength="95" lengthAdjust="spacingAndGlyphs" stroke="#2f2c86" stroke-width="0.35">model ρ</text>
<text x="751" y="2102.0" font-size="29" fill="#2f2c86" stroke="#2f2c86" stroke-width="0.35">c</text>
<text x="764.5" y="2086.8" font-size="29" fill="#2f2c86" textLength="203" lengthAdjust="spacingAndGlyphs" stroke="#2f2c86" stroke-width="0.35">= 0.14, Δρ = 0.32</text>
<rect x="601.7" y="2111.2" width="46.3" height="7.6" fill="#3a7e2e"/>
<text x="654.5" y="2126.3" font-size="29" fill="#2f7a27" textLength="159" lengthAdjust="spacingAndGlyphs" stroke="#2f7a27" stroke-width="0.35">#176144 obs.</text>
<rect x="601.7" y="2153.1" width="23.2" height="5.9" fill="#80bf66"/>
<rect x="639.8" y="2153.1" width="8.2" height="5.9" fill="#80bf66"/>
<text x="655.4" y="2161.3" font-size="29" fill="#2f7a27" textLength="95" lengthAdjust="spacingAndGlyphs" stroke="#2f7a27" stroke-width="0.35">model ρ</text>
<text x="751" y="2176.5" font-size="29" fill="#2f7a27" stroke="#2f7a27" stroke-width="0.35">c</text>
<text x="764.5" y="2161.3" font-size="29" fill="#2f7a27" textLength="203" lengthAdjust="spacingAndGlyphs" stroke="#2f7a27" stroke-width="0.35">= 0.79, Δρ = 0.27</text>
<rect x="601.7" y="2186.3" width="46.3" height="7.6" fill="#b3141c"/>
<text x="654.5" y="2200.9" font-size="29" fill="#b0141c" textLength="159" lengthAdjust="spacingAndGlyphs" stroke="#b0141c" stroke-width="0.35">#176140 obs.</text>
<rect x="601.7" y="2228.0" width="23.2" height="5.9" fill="#d5741f"/>
<rect x="639.8" y="2228.0" width="8.2" height="5.9" fill="#d5741f"/>
<text x="655.4" y="2235.9" font-size="29" fill="#b0141c" textLength="95" lengthAdjust="spacingAndGlyphs" stroke="#b0141c" stroke-width="0.35">model ρ</text>
<text x="751" y="2251.1" font-size="29" fill="#b0141c" stroke="#b0141c" stroke-width="0.35">c</text>
<text x="764.5" y="2235.9" font-size="29" fill="#b0141c" textLength="203" lengthAdjust="spacingAndGlyphs" stroke="#b0141c" stroke-width="0.35">= 0.79, Δρ = 0.11</text>
<rect x="156.4" y="1640.6" width="832.2" height="631.8000000000002" fill="none" stroke="#000" stroke-width="2.6"/>
<path d="M156.4 2247.8h8.5M988.6 2247.8h-7.5M156.4 2223.5h17M988.6 2223.5h-15.5M156.4 2199.2h8.5M988.6 2199.2h-7.5M156.4 2174.8h8.5M988.6 2174.8h-7.5M156.4 2150.5h8.5M988.6 2150.5h-7.5M156.4 2126.2h17M988.6 2126.2h-15.5M156.4 2101.9h8.5M988.6 2101.9h-7.5M156.4 2077.6h8.5M988.6 2077.6h-7.5M156.4 2053.2h8.5M988.6 2053.2h-7.5M156.4 2028.9h17M988.6 2028.9h-15.5M156.4 2004.6h8.5M988.6 2004.6h-7.5M156.4 1980.2h8.5M988.6 1980.2h-7.5M156.4 1955.9h8.5M988.6 1955.9h-7.5M156.4 1931.6h17M988.6 1931.6h-15.5M156.4 1907.3h8.5M988.6 1907.3h-7.5M156.4 1883.0h8.5M988.6 1883.0h-7.5M156.4 1858.6h8.5M988.6 1858.6h-7.5M156.4 1834.3h17M988.6 1834.3h-15.5M156.4 1810.0h8.5M988.6 1810.0h-7.5M156.4 1785.7h8.5M988.6 1785.7h-7.5M156.4 1761.3h8.5M988.6 1761.3h-7.5M156.4 1737.0h17M988.6 1737.0h-15.5M156.4 1712.7h8.5M988.6 1712.7h-7.5M156.4 1688.3h8.5M988.6 1688.3h-7.5M156.4 1664.0h8.5M988.6 1664.0h-7.5M197.4 1640.6v6.2M197.4 2272.4v-6M238.4 1640.6v6.2M238.4 2272.4v-6M279.3 1640.6v6.2M279.3 2272.4v-6M320.3 1640.6v6.2M320.3 2272.4v-6M361.3 1640.6v13M361.3 2272.4v-12.5M402.3 1640.6v6.2M402.3 2272.4v-6M443.3 1640.6v6.2M443.3 2272.4v-6M484.2 1640.6v6.2M484.2 2272.4v-6M525.2 1640.6v6.2M525.2 2272.4v-6M566.2 1640.6v13M566.2 2272.4v-12.5M607.2 1640.6v6.2M607.2 2272.4v-6M648.2 1640.6v6.2M648.2 2272.4v-6M689.1 1640.6v6.2M689.1 2272.4v-6M730.1 1640.6v6.2M730.1 2272.4v-6M771.1 1640.6v13M771.1 2272.4v-12.5M812.1 1640.6v6.2M812.1 2272.4v-6M853.1 1640.6v6.2M853.1 2272.4v-6M894.0 1640.6v6.2M894.0 2272.4v-6M935.0 1640.6v6.2M935.0 2272.4v-6M976.0 1640.6v13M976.0 2272.4v-12.5" stroke="#000" stroke-width="2.7" fill="none"/>
<text x="142.8" y="2240.5" font-size="45.5" text-anchor="end" stroke="#000" stroke-width="0.35">0.0</text>
<text x="142.8" y="2143.2" font-size="45.5" text-anchor="end" stroke="#000" stroke-width="0.35">0.2</text>
<text x="142.8" y="2045.9" font-size="45.5" text-anchor="end" stroke="#000" stroke-width="0.35">0.4</text>
<text x="142.8" y="1948.6" font-size="45.5" text-anchor="end" stroke="#000" stroke-width="0.35">0.6</text>
<text x="142.8" y="1851.3" font-size="45.5" text-anchor="end" stroke="#000" stroke-width="0.35">0.8</text>
<text x="142.8" y="1754.0" font-size="45.5" text-anchor="end" stroke="#000" stroke-width="0.35">1.0</text>
<text x="162.4" y="2322.5" font-size="45.5" text-anchor="middle" stroke="#000" stroke-width="0.35">0</text>
<text x="369.0" y="2322.5" font-size="45.5" text-anchor="middle" stroke="#000" stroke-width="0.35">50</text>
<text x="575.2" y="2322.5" font-size="45.5" text-anchor="middle" stroke="#000" stroke-width="0.35">100</text>
<text x="780.0" y="2322.5" font-size="45.5" text-anchor="middle" stroke="#000" stroke-width="0.35">150</text>
<text x="984.4" y="2322.5" font-size="45.5" text-anchor="middle" stroke="#000" stroke-width="0.35">200</text>
<text x="584.1" y="2381" font-size="56.5" text-anchor="middle" stroke="#000" stroke-width="0.35">chord (ch)</text>
<text transform="translate(51.7,2176.6) rotate(-90)" font-size="56.5" stroke="#000" stroke-width="0.35">normalized intensity</text>
</svg></body></html>
